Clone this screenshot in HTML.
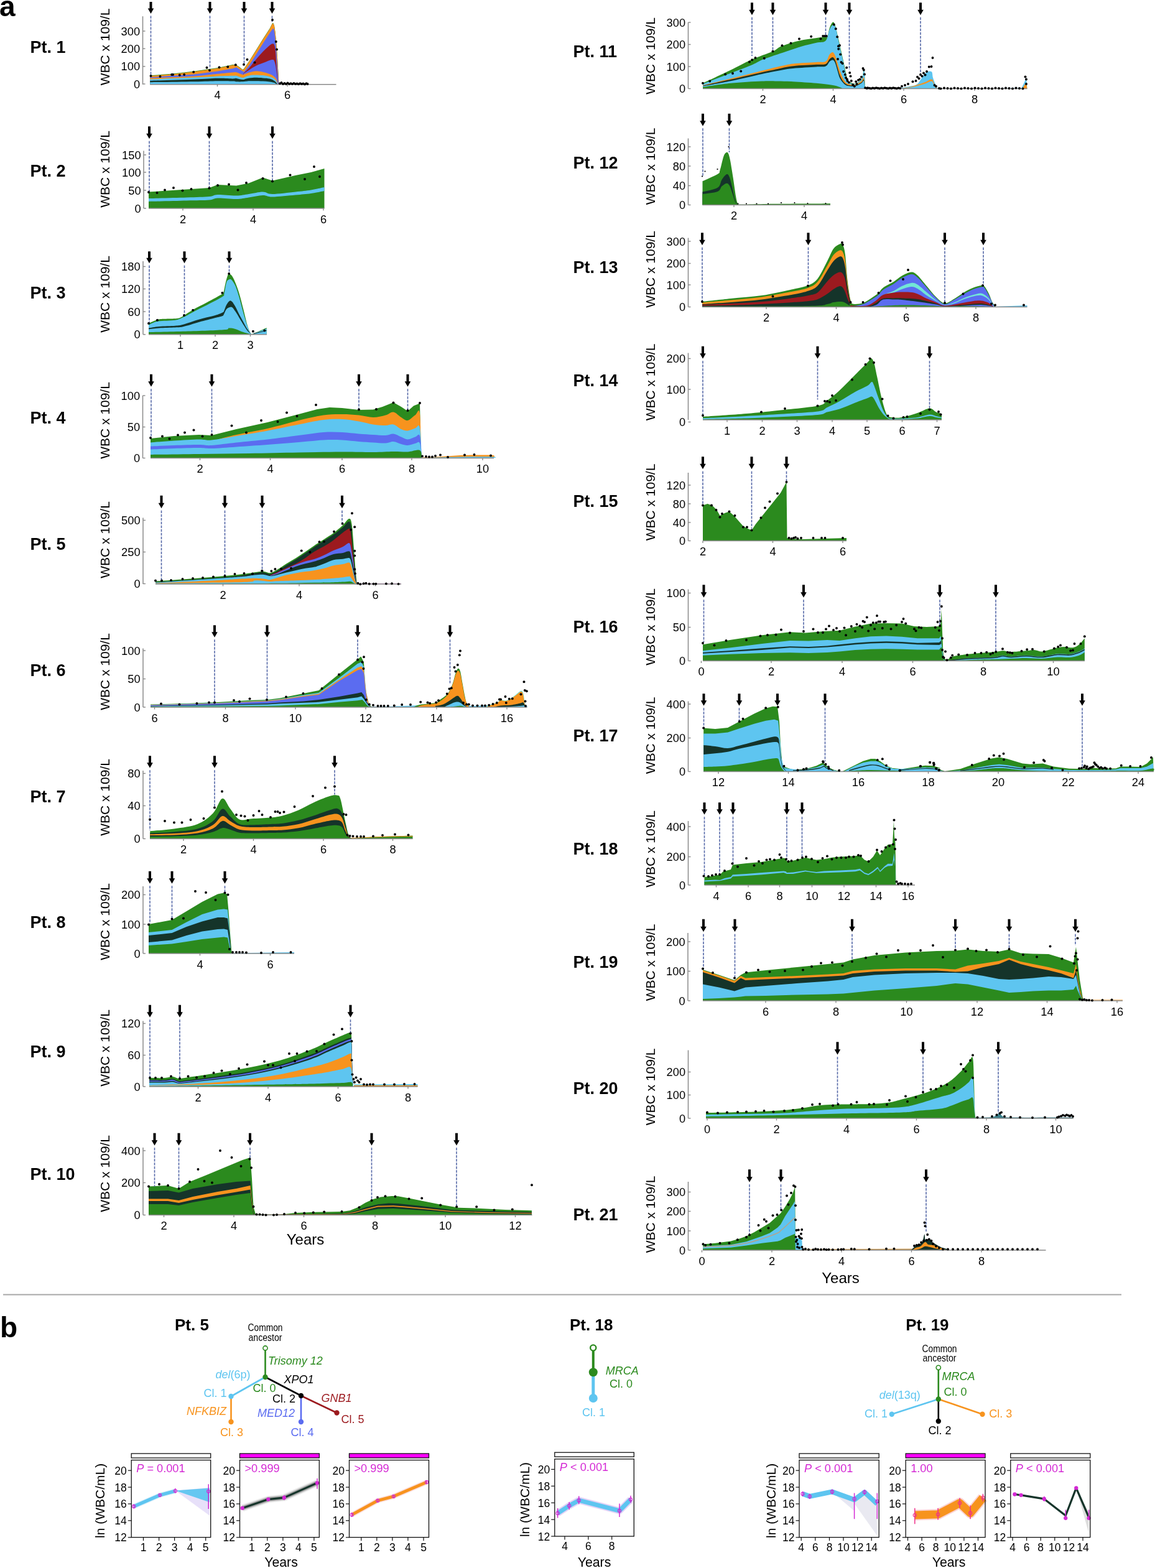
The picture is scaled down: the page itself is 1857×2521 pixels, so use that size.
<!DOCTYPE html>
<html><head><meta charset="utf-8"><title>Figure</title>
<style>html,body{margin:0;padding:0;background:#fff;}svg{display:block;}</style></head>
<body><svg width="1857" height="2521" viewBox="0 0 1857 2521" font-family="'Liberation Sans', Arial, sans-serif" fill="#000">
<rect width="1857" height="2521" fill="#fff"/>
<text x="-1" y="25.5" font-size="46" font-weight="bold">a</text>
<text x="48.5" y="85.3" font-size="27" font-weight="bold">Pt. 1</text>
<text transform="translate(176,75.5) rotate(-90)" text-anchor="middle" font-size="21">WBC x 109/L</text>
<path d="M241.2,121.2 L275,118.8 L312.5,114.5 L350,109 L375,103.8 L380,104.4 L385.4,108.1 L390.2,111.9 L392.3,110.3 L401.4,96.9 L412.1,79.8 L422.8,62.6 L433.5,46.1 L437.8,37.5 L439.4,37 L441,40.9 L442.6,51.8 L444.2,68.2 L445.8,89.6 L447.4,116.3 L448.6,136.6 L448.6,135.8 L241.2,135.8 Z" fill="#2b8a1e"/>
<path d="M241.2,122 L275,119.5 L312.5,115.2 L350,109.8 L375,104.5 L380,105.1 L385.4,108.8 L390.2,112.6 L392.3,111 L401.4,97.6 L412.1,80.5 L422.8,63.3 L433.5,46.8 L437.8,38.2 L439.4,37.7 L441,41.4 L442.6,52.1 L444.2,68.2 L445.8,89.6 L447.4,116.3 L448.5,136.6 L448.5,135.8 L241.2,135.8 Z" fill="#f7931e"/>
<path d="M241.2,124.2 L312.5,119.5 L350,114.5 L375,110 L380,108.3 L390.2,114.4 L392.3,115.8 L401.4,103.5 L412.1,86.9 L422.8,69.8 L433.5,53.2 L438.9,45.7 L440.5,46.8 L442.1,57.5 L444.2,78.9 L446.3,111 L448.1,136.6 L448.1,135.8 L241.2,135.8 Z" fill="#5b6cf0"/>
<path d="M391.5,117.9 C393.2,116.3 398,112.1 401.4,108.3 C404.8,104.4 408.5,99.1 412.1,94.9 C415.7,90.7 419.2,86.8 422.8,83.1 C426.4,79.5 430.8,75.1 433.5,73 C436.2,70.8 437.5,70.2 438.9,70.3 C440.2,70.4 440.8,71.2 441.5,73.5 C442.2,75.8 442.7,79.7 443.1,84.2 C443.6,88.7 443.8,94 444.2,100.3 C444.7,106.5 445.3,115.6 445.8,121.7 C446.4,127.7 447.2,134.1 447.5,136.6 L447.5,135.8 L391.5,135.8 Z" fill="#9c1a1f"/>
<path d="M391.9,118.2 C393.5,117.2 398,114.1 401.4,112 C404.8,109.9 408.5,107.4 412.1,105.6 C415.7,103.8 419.2,102.8 422.8,101.3 C426.4,99.9 431,97.9 433.5,97 C436,96.2 436.6,96 437.8,96 C438.9,96 439.6,95.4 440.5,97 C441.4,98.7 442.3,101.5 443.1,105.6 C443.9,109.7 444.5,116.5 445.3,121.7 C446,126.8 447.1,134.1 447.5,136.6 L447.5,135.8 L391.9,135.8 Z" fill="#5b6cf0"/>
<path d="M241.2,125.5 C253.1,125 294.4,123.6 312.5,122.5 C330.6,121.4 339.6,119.8 350,118.8 C360.4,117.7 370,116.7 375,116.2 C380,115.8 377.5,115.7 380,116.3 C382.5,116.9 388.1,119.5 390.2,120.1 C392.2,120.6 390.4,120.1 392.3,119.5 C394.2,118.9 398.1,117.2 401.4,116.3 C404.7,115.4 408.5,114.3 412.1,114.2 C415.7,114.1 419.2,115 422.8,115.8 C426.4,116.6 430.8,118 433.5,119 C436.2,120 437.1,120.3 438.9,121.7 C440.6,123 442.9,124.8 444.2,127 C445.5,129.2 446.3,133.4 446.9,135 C447.5,136.6 447.5,136.4 447.7,136.6 L447.7,135.8 L241.2,135.8 Z" fill="#f7931e"/>
<path d="M241.2,127.5 C253.1,127 294.4,125.3 312.5,124.5 C330.6,123.7 339.6,123 350,122.5 C360.4,122 370,121.9 375,121.8 C380,121.6 377.5,121.1 380,121.7 C382.5,122.2 387.5,124.7 390.2,124.9 C392.8,125 393.3,123.4 396.1,122.7 C398.8,122 402.3,120.9 406.8,120.6 C411.2,120.3 418.3,120.7 422.8,121.1 C427.3,121.6 430.4,122.3 433.5,123.3 C436.6,124.2 439.3,125 441.5,127 C443.8,129 445.9,133.4 446.9,135 C447.9,136.6 447.4,136.4 447.5,136.6 L447.5,135.8 L241.2,135.8 Z" fill="#5ec5f0"/>
<path d="M241.2,129.8 C253.1,129.4 294.4,128.2 312.5,127.5 C330.6,126.8 339.6,125.9 350,125.8 C360.4,125.6 370,126.5 375,126.5 C380,126.5 377.5,125.7 380,125.9 C382.5,126.2 387.5,128 390.2,128.1 C392.8,128.2 393.3,127 396.1,126.5 C398.8,125.9 402.3,125 406.8,124.9 C411.2,124.7 418.3,125.1 422.8,125.4 C427.3,125.7 430.4,125.7 433.5,126.5 C436.6,127.3 439.5,128.8 441.5,130.2 C443.6,131.6 444.9,134 445.8,135 C446.7,136.1 446.7,136.4 446.9,136.6 L446.9,135.8 L241.2,135.8 Z" fill="#15342a"/>
<path d="M241.2,132.2 C253.1,132.1 294.4,131.6 312.5,131.2 C330.6,130.9 339.6,130.4 350,130.2 C360.4,130.1 370,130.3 375,130.5 C380,130.7 377.5,131.2 380,131.3 C382.5,131.4 386.6,131.5 390.2,131.3 C393.7,131.1 396,130.4 401.4,130.2 C406.8,130.1 416.6,130.1 422.8,130.5 C429,130.8 435.3,131.6 438.9,132.4 C442.4,133.1 443,134.3 444.2,135 C445.4,135.7 445.5,136.4 445.8,136.6 L445.8,135.8 L241.2,135.8 Z" fill="#5ec5f0"/>
<path d="M229.5,26.2 V135.8" fill="none" stroke="#8a8a8a" stroke-width="1.5"/>
<path d="M241.2,135.8 H540.5" fill="none" stroke="#8a8a8a" stroke-width="1.5"/>
<path d="M229.5,50 H233.5" stroke="#8a8a8a" stroke-width="1.4"/>
<text x="225.1" y="56.5" text-anchor="end" font-size="18.3">300</text>
<path d="M229.5,78.2 H233.5" stroke="#8a8a8a" stroke-width="1.4"/>
<text x="225.1" y="84.8" text-anchor="end" font-size="18.3">200</text>
<path d="M229.5,106.8 H233.5" stroke="#8a8a8a" stroke-width="1.4"/>
<text x="225.1" y="113.2" text-anchor="end" font-size="18.3">100</text>
<path d="M229.5,135 H233.5" stroke="#8a8a8a" stroke-width="1.4"/>
<text x="225.1" y="141.5" text-anchor="end" font-size="18.3">0</text>
<path d="M349.5,135.8 V139.2" stroke="#8a8a8a" stroke-width="1.4"/>
<text x="349.5" y="159.3" text-anchor="middle" font-size="18.3">4</text>
<path d="M462,135.8 V139.2" stroke="#8a8a8a" stroke-width="1.4"/>
<text x="462" y="159.3" text-anchor="middle" font-size="18.3">6</text>
<path d="M242.5,25.6 V121.2" stroke="#5669a8" stroke-width="1.6" stroke-dasharray="4.1,1.9"/>
<path d="M337.5,25.6 V110" stroke="#5669a8" stroke-width="1.6" stroke-dasharray="4.1,1.9"/>
<path d="M392.5,25.6 V105" stroke="#5669a8" stroke-width="1.6" stroke-dasharray="4.1,1.9"/>
<path d="M437.5,25.6 V35" stroke="#5669a8" stroke-width="1.6" stroke-dasharray="4.1,1.9"/>
<path d="M240.5,3 L244.5,3 L244.5,13.5 L247.3,13.5 L242.5,21.9 L237.7,13.5 L240.5,13.5 Z" fill="#000"/>
<path d="M335.5,3 L339.5,3 L339.5,13.5 L342.3,13.5 L337.5,21.9 L332.7,13.5 L335.5,13.5 Z" fill="#000"/>
<path d="M390.5,3 L394.5,3 L394.5,13.5 L397.3,13.5 L392.5,21.9 L387.7,13.5 L390.5,13.5 Z" fill="#000"/>
<path d="M435.5,3 L439.5,3 L439.5,13.5 L442.3,13.5 L437.5,21.9 L432.7,13.5 L435.5,13.5 Z" fill="#000"/>
<circle cx="242.5" cy="122" r="1.95"/>
<circle cx="257.5" cy="123" r="1.95"/>
<circle cx="276.2" cy="120" r="1.95"/>
<circle cx="278" cy="120" r="1.95"/>
<circle cx="288.8" cy="120.8" r="1.95"/>
<circle cx="296.2" cy="120" r="1.95"/>
<circle cx="311.2" cy="115.8" r="1.95"/>
<circle cx="332.5" cy="108.8" r="1.95"/>
<circle cx="337" cy="113" r="1.95"/>
<circle cx="352.5" cy="108.2" r="1.95"/>
<circle cx="366.2" cy="107.5" r="1.95"/>
<circle cx="378.8" cy="104.2" r="1.95"/>
<circle cx="392" cy="103.8" r="1.95"/>
<circle cx="397.5" cy="95.8" r="1.95"/>
<circle cx="409.5" cy="100.5" r="1.95"/>
<circle cx="438" cy="32" r="1.95"/>
<circle cx="443.8" cy="67" r="1.95"/>
<circle cx="445" cy="79.5" r="1.95"/>
<circle cx="450" cy="134.2" r="1.95"/>
<circle cx="452.5" cy="133" r="1.95"/>
<circle cx="455" cy="135" r="1.95"/>
<circle cx="457.5" cy="134" r="1.95"/>
<circle cx="460" cy="135" r="1.95"/>
<circle cx="462.5" cy="133.5" r="1.95"/>
<circle cx="465" cy="135" r="1.95"/>
<circle cx="467.5" cy="134.2" r="1.95"/>
<circle cx="470" cy="135" r="1.95"/>
<circle cx="472.5" cy="134" r="1.95"/>
<circle cx="475" cy="135" r="1.95"/>
<circle cx="477.5" cy="134.5" r="1.95"/>
<circle cx="480" cy="135.2" r="1.95"/>
<circle cx="482.5" cy="134.2" r="1.95"/>
<circle cx="485" cy="135" r="1.95"/>
<circle cx="487.5" cy="134.5" r="1.95"/>
<circle cx="490" cy="135.5" r="1.95"/>
<circle cx="492.5" cy="134.2" r="1.95"/>
<circle cx="494.5" cy="135" r="1.95"/>
<text x="48.5" y="283.8" font-size="27" font-weight="bold">Pt. 2</text>
<text transform="translate(176,272) rotate(-90)" text-anchor="middle" font-size="21">WBC x 109/L</text>
<path d="M239,308.5 L300,304.5 L336.5,302 L350,297 L380,298.5 L400,294.5 L422.5,285.5 L438,290.5 L475,282 L500,277 L521.5,271 L521.5,335 L239,335 Z" fill="#2b8a1e"/>
<path d="M239,319 C249.2,318.8 283.8,318 300,317.5 C316.2,317 328.2,316.8 336.5,316 C344.8,315.2 342.8,313.2 350,313 C357.2,312.8 371.7,314.7 380,314.5 C388.3,314.3 392.9,313 400,312 C407.1,311 416.2,308.5 422.5,308.5 C428.8,308.5 429.2,312 438,312 C446.8,312 464.7,309.6 475,308.5 C485.3,307.4 492.2,306.8 500,305.5 C507.8,304.2 517.9,301.8 521.5,301 L521.5,307 C517.9,307.7 507.8,309.9 500,311 C492.2,312.1 485.3,312.6 475,313.5 C464.7,314.4 446.8,316.4 438,316.5 C429.2,316.6 428.8,313.8 422.5,314 C416.2,314.2 407.1,316.5 400,317.5 C392.9,318.5 388.3,319.8 380,320 C371.7,320.2 357.2,318.2 350,318.5 C342.8,318.8 344.8,320.8 336.5,321.5 C328.2,322.2 316.2,322.1 300,322.5 C283.8,322.9 249.2,323.8 239,324 Z" fill="#5ec5f0"/>
<path d="M231,242.5 V335" fill="none" stroke="#8a8a8a" stroke-width="1.5"/>
<path d="M239,335 H521.5" fill="none" stroke="#8a8a8a" stroke-width="1.5"/>
<path d="M231,249 H235" stroke="#8a8a8a" stroke-width="1.4"/>
<text x="226.6" y="255.5" text-anchor="end" font-size="18.3">150</text>
<path d="M231,277 H235" stroke="#8a8a8a" stroke-width="1.4"/>
<text x="226.6" y="283.5" text-anchor="end" font-size="18.3">100</text>
<path d="M231,306 H235" stroke="#8a8a8a" stroke-width="1.4"/>
<text x="226.6" y="312.5" text-anchor="end" font-size="18.3">50</text>
<path d="M231,335 H235" stroke="#8a8a8a" stroke-width="1.4"/>
<text x="226.6" y="341.5" text-anchor="end" font-size="18.3">0</text>
<path d="M294,335 V338.5" stroke="#8a8a8a" stroke-width="1.4"/>
<text x="294" y="358.6" text-anchor="middle" font-size="18.3">2</text>
<path d="M407,335 V338.5" stroke="#8a8a8a" stroke-width="1.4"/>
<text x="407" y="358.6" text-anchor="middle" font-size="18.3">4</text>
<path d="M520,335 V338.5" stroke="#8a8a8a" stroke-width="1.4"/>
<text x="520" y="358.6" text-anchor="middle" font-size="18.3">6</text>
<path d="M240,226.8 V309" stroke="#5669a8" stroke-width="1.6" stroke-dasharray="4.1,1.9"/>
<path d="M336.5,226.8 V302.5" stroke="#5669a8" stroke-width="1.6" stroke-dasharray="4.1,1.9"/>
<path d="M438,226.8 V291" stroke="#5669a8" stroke-width="1.6" stroke-dasharray="4.1,1.9"/>
<path d="M238,203.2 L242,203.2 L242,214.8 L244.8,214.8 L240,223.2 L235.2,214.8 L238,214.8 Z" fill="#000"/>
<path d="M334.5,203.2 L338.5,203.2 L338.5,214.8 L341.3,214.8 L336.5,223.2 L331.7,214.8 L334.5,214.8 Z" fill="#000"/>
<path d="M436,203.2 L440,203.2 L440,214.8 L442.8,214.8 L438,223.2 L433.2,214.8 L436,214.8 Z" fill="#000"/>
<circle cx="239" cy="309" r="1.95"/>
<circle cx="252.5" cy="310" r="1.95"/>
<circle cx="265" cy="305.5" r="1.95"/>
<circle cx="279" cy="302" r="1.95"/>
<circle cx="293.5" cy="306.5" r="1.95"/>
<circle cx="307.5" cy="304" r="1.95"/>
<circle cx="336.5" cy="302.5" r="1.95"/>
<circle cx="350" cy="298" r="1.95"/>
<circle cx="368" cy="296.5" r="1.95"/>
<circle cx="382.5" cy="305.5" r="1.95"/>
<circle cx="396" cy="294" r="1.95"/>
<circle cx="422.5" cy="287" r="1.95"/>
<circle cx="438" cy="291.5" r="1.95"/>
<circle cx="466.5" cy="281.5" r="1.95"/>
<circle cx="490" cy="288" r="1.95"/>
<circle cx="505" cy="268" r="1.95"/>
<circle cx="514" cy="284" r="1.95"/>
<text x="48.5" y="479.8" font-size="27" font-weight="bold">Pt. 3</text>
<text transform="translate(176,473) rotate(-90)" text-anchor="middle" font-size="21">WBC x 109/L</text>
<path d="M239,519.9 C241.4,518.9 249.3,515.3 253.2,514.1 C257.1,512.9 257.5,513.1 262.2,512.8 C267,512.5 277.1,512.5 281.6,512.2 C286.1,511.8 286.9,511.7 289.3,510.9 C291.7,510.1 292.3,509.4 295.8,507.3 C299.2,505.2 303.7,501.8 309.9,498.2 C316.2,494.7 325.2,490.4 333.1,486.1 C341.1,481.9 353.3,475.2 357.6,472.6 C362,470 358.5,473.7 359.3,470.7 C360.2,467.6 361.6,459.1 362.8,454.2 C364,449.3 365.7,443.6 366.7,441.3 C367.6,438.9 367.5,439.5 368.6,440 C369.7,440.4 371.5,441.5 373.1,443.8 C374.7,446.2 376.3,449.4 378.3,454.2 C380.2,458.9 382.6,465.1 384.7,472.2 C386.9,479.3 389,488.3 391.2,496.7 C393.3,505.1 395.7,516 397.6,522.5 C399.5,528.9 401.1,533.1 402.8,535.4 C404.5,537.6 403.6,537.4 407.9,536 C412.2,534.6 425.1,528.5 428.6,527 L428.6,537.8 L239,537.8 Z" fill="#2b8a1e"/>
<path d="M239,522.5 C241.4,521.5 246.1,518 253.2,516.7 C260.3,515.4 274.5,515.9 281.6,514.7 C288.7,513.6 291,511.7 295.8,509.6 C300.5,507.4 303.7,505.1 309.9,501.9 C316.2,498.6 325.2,494.4 333.1,490.3 C341.1,486.1 353.1,480.2 357.6,477.1 C362.2,474.1 359.4,475.8 360.5,471.9 C361.6,468.1 362.8,457.9 364.1,454.2 C365.3,450.4 366.7,450.4 368,449.6 C369.2,448.9 370.1,448 371.8,449.6 C373.5,451.3 376.1,454.5 378.3,459.3 C380.4,464.1 382.6,471.3 384.7,478.6 C386.9,486 389,495.6 391.2,503.1 C393.3,510.7 395.7,518.4 397.6,523.8 C399.5,529.2 401.1,533.6 402.8,535.6 C404.5,537.7 403.6,537.4 407.9,536.2 C412.2,534.9 425.1,529.6 428.6,528.3 L428.6,537.8 L239,537.8 Z" fill="#5ec5f0"/>
<path d="M239,527.6 C241.8,527.2 248.7,525.7 255.8,525.1 C262.9,524.4 275.1,524.3 281.6,523.8 C288,523.2 288,523.6 294.5,521.8 C300.9,520.1 311.7,515.9 320.3,513.5 C328.8,511 339.8,508.8 346,507 C352.3,505.2 355.3,503.7 357.6,502.5 C360,501.3 359.1,502 360.2,499.9 C361.3,497.9 362.6,492.9 364.1,490.3 C365.6,487.6 367.7,484.7 369.2,483.8 C370.8,482.9 371.6,483.6 373.1,485.1 C374.6,486.6 376.3,489.4 378.3,492.8 C380.2,496.3 382.4,501.2 384.7,505.7 C387.1,510.2 390.3,516 392.5,519.9 C394.6,523.8 395.8,526.1 397.6,528.9 C399.4,531.8 402.4,535.6 403.4,536.9 L403.4,537.8 L239,537.8 Z" fill="#15342a"/>
<path d="M239,529.2 C241.8,528.9 248.7,527.9 255.8,527.4 C262.9,526.9 275.1,526.7 281.6,526.4 C288,526 288,526.7 294.5,525.3 C300.9,523.9 311.7,520.2 320.3,517.8 C328.8,515.5 339.8,512.8 346,511.1 C352.3,509.5 355.3,509.1 357.6,508 C360,507 359.1,506.5 360.2,504.7 C361.3,502.8 362.6,498.8 364.1,497 C365.6,495.2 367.7,494.3 369.2,493.9 C370.8,493.4 371.6,493 373.1,494.1 C374.6,495.2 376.3,497.8 378.3,500.6 C380.2,503.4 382.4,507 384.7,510.9 C387.1,514.7 390.3,520.3 392.5,523.8 C394.6,527.2 395.8,529.3 397.6,531.5 C399.4,533.7 402.4,536 403.4,536.9 L403.4,537.8 L239,537.8 Z" fill="#5ec5f0"/>
<path d="M239,534.1 C248.3,533.9 274.5,533.4 294.5,532.8 C314.5,532.2 346.7,531.1 358.9,530.2 C371.2,529.4 364.7,527.9 368,527.6 C371.2,527.4 374.4,527.9 378.3,528.9 C382.1,530 387.3,532.8 391.2,534.1 C395,535.4 399.8,536.5 401.5,536.9 L401.5,537.8 L239,537.8 Z" fill="#2b8a1e"/>
<path d="M407.9,536.4 L428.6,531.5" fill="none" stroke="#15342a" stroke-width="1.0" stroke-linejoin="round"/>
<path d="M230,420 V537.8" fill="none" stroke="#8a8a8a" stroke-width="1.5"/>
<path d="M239,537.8 H429" fill="none" stroke="#8a8a8a" stroke-width="1.5"/>
<path d="M230,428.5 H234" stroke="#8a8a8a" stroke-width="1.4"/>
<text x="225.6" y="435" text-anchor="end" font-size="18.3">180</text>
<path d="M230,464.5 H234" stroke="#8a8a8a" stroke-width="1.4"/>
<text x="225.6" y="471" text-anchor="end" font-size="18.3">120</text>
<path d="M230,501 H234" stroke="#8a8a8a" stroke-width="1.4"/>
<text x="225.6" y="507.5" text-anchor="end" font-size="18.3">60</text>
<path d="M230,537.8 H234" stroke="#8a8a8a" stroke-width="1.4"/>
<text x="225.6" y="544.2" text-anchor="end" font-size="18.3">0</text>
<path d="M290,537.8 V541.2" stroke="#8a8a8a" stroke-width="1.4"/>
<text x="290" y="561.4" text-anchor="middle" font-size="18.3">1</text>
<path d="M346,537.8 V541.2" stroke="#8a8a8a" stroke-width="1.4"/>
<text x="346" y="561.4" text-anchor="middle" font-size="18.3">2</text>
<path d="M402.5,537.8 V541.2" stroke="#8a8a8a" stroke-width="1.4"/>
<text x="402.5" y="561.4" text-anchor="middle" font-size="18.3">3</text>
<path d="M240,426.8 V519" stroke="#5669a8" stroke-width="1.6" stroke-dasharray="4.1,1.9"/>
<path d="M296.5,426.8 V506" stroke="#5669a8" stroke-width="1.6" stroke-dasharray="4.1,1.9"/>
<path d="M368.5,426.8 V440" stroke="#5669a8" stroke-width="1.6" stroke-dasharray="4.1,1.9"/>
<path d="M238,404.2 L242,404.2 L242,414.8 L244.8,414.8 L240,423.2 L235.2,414.8 L238,414.8 Z" fill="#000"/>
<path d="M294.5,404.2 L298.5,404.2 L298.5,414.8 L301.3,414.8 L296.5,423.2 L291.7,414.8 L294.5,414.8 Z" fill="#000"/>
<path d="M366.5,404.2 L370.5,404.2 L370.5,414.8 L373.3,414.8 L368.5,423.2 L363.7,414.8 L366.5,414.8 Z" fill="#000"/>
<circle cx="239" cy="519.9" r="1.95"/>
<circle cx="252.9" cy="514.7" r="1.95"/>
<circle cx="296" cy="507" r="1.95"/>
<circle cx="310.2" cy="498.6" r="1.95"/>
<circle cx="357.4" cy="470.9" r="1.95"/>
<circle cx="368.2" cy="440" r="1.95"/>
<circle cx="406.9" cy="532.8" r="1.95"/>
<circle cx="425.3" cy="531.5" r="1.95"/>
<text x="48.5" y="681.3" font-size="27" font-weight="bold">Pt. 4</text>
<text transform="translate(176,676) rotate(-90)" text-anchor="middle" font-size="21">WBC x 109/L</text>
<path d="M242,705 L280,701 L320,699 L340,700 L380,690 L430,679 L480,666 L510,658 L530,655 L550,656 L577,659 L600,658.5 L615,654 L632.5,647 L645,654 L655.5,661 L665,652.5 L675,648.5 L677,736.5 L677,736.5 L242,736.5 Z" fill="#2b8a1e"/>
<path d="M350,706.5 C355,705.2 366.7,701.9 380,699 C393.3,696.1 413.3,692.8 430,689 C446.7,685.2 465,679.6 480,676 C495,672.4 508.3,669.2 520,667.5 C531.7,665.8 540.5,666 550,666 C559.5,666 568.7,666.7 577,667.5 C585.3,668.3 592.8,671 600,671 C607.2,671 614.6,668.9 620,667.5 C625.4,666.1 628.3,661.9 632.5,662.5 C636.7,663.1 641.2,668.8 645,671 C648.8,673.2 651.8,676.6 655.5,676 C659.2,675.4 664.2,669.3 667.5,667.5 C670.8,665.7 673.4,653.5 675,665 C676.6,676.5 676.7,724.6 677,736.5 L677,736.5 L350,736.5 Z" fill="#f7931e"/>
<path d="M242,711.5 C248.3,711 267,709.3 280,708.5 C293,707.7 310,706.7 320,706.5 C330,706.3 330,708.4 340,707.5 C350,706.6 365,703.5 380,701 C395,698.5 413.3,695.6 430,692.5 C446.7,689.4 465,685.4 480,682.5 C495,679.6 508.3,676.4 520,675 C531.7,673.6 540.5,673.6 550,674 C559.5,674.4 568.7,676.1 577,677.5 C585.3,678.9 592.8,681.4 600,682.5 C607.2,683.6 614.6,684 620,684 C625.4,684 628.3,681.5 632.5,682.5 C636.7,683.5 641.2,688.3 645,690 C648.8,691.7 651.8,692.8 655.5,692.5 C659.2,692.2 664.2,689.3 667.5,688.5 C670.8,687.7 673.2,679.5 675,687.5 C676.8,695.5 677.5,728.3 678,736.5 L678,736.5 L242,736.5 Z" fill="#5ec5f0"/>
<path d="M242,717.5 C248.3,717.2 267,716.4 280,716 C293,715.6 310,715 320,715 C330,715 330,716.6 340,716 C350,715.4 365,713.1 380,711.5 C395,709.9 413.3,708.4 430,706.5 C446.7,704.6 465,701.9 480,700 C495,698.1 508.3,695.8 520,695 C531.7,694.2 540.5,694.6 550,695 C559.5,695.4 568.7,696.8 577,697.5 C585.3,698.2 592.8,698.6 600,699 C607.2,699.4 614.6,700.2 620,700 C625.4,699.8 628.3,697.1 632.5,697.5 C636.7,697.9 641.2,701 645,702.5 C648.8,704 651.8,706.5 655.5,706.5 C659.2,706.5 664.2,703.4 667.5,702.5 C670.8,701.6 673.2,695.3 675,701 C676.8,706.7 677.5,730.6 678,736.5 L678,736.5 L242,736.5 Z" fill="#5b6cf0"/>
<path d="M242,722.5 C248.3,722.2 267,721.4 280,721 C293,720.6 310,720 320,720 C330,720 330,721.2 340,721 C350,720.8 365,719.5 380,718.5 C395,717.5 413.3,716.2 430,715 C446.7,713.8 465,712.2 480,711 C495,709.8 508.3,708.1 520,707.5 C531.7,706.9 540.5,707.1 550,707.5 C559.5,707.9 568.7,709.3 577,710 C585.3,710.7 592.8,711.1 600,711.5 C607.2,711.9 614.6,712.8 620,712.5 C625.4,712.2 628.3,709.8 632.5,710 C636.7,710.2 641.2,713 645,714 C648.8,715 651.8,716.2 655.5,716 C659.2,715.8 664.2,713.6 667.5,713 C670.8,712.4 673.2,708.6 675,712.5 C676.8,716.4 677.5,732.5 678,736.5 L678,736.5 L242,736.5 Z" fill="#5ec5f0"/>
<path d="M242,731 C255,730.8 293.7,730.3 320,730 C346.3,729.7 373.3,729.4 400,729 C426.7,728.6 455,727.9 480,727.5 C505,727.1 530,726.6 550,726.5 C570,726.4 586.2,727.1 600,727 C613.8,726.9 623.2,726.1 632.5,726 C641.8,725.9 648.4,726.8 655.5,726.5 C662.6,726.2 671.2,722.3 675,724 C678.8,725.7 677.5,734.4 678,736.5 L678,736.5 L242,736.5 Z" fill="#2b8a1e"/>
<path d="M680,735.5 C685,735.2 700,734.6 710,734 C720,733.4 730,732.4 740,732 C750,731.6 761.2,731.5 770,731.5 C778.8,731.5 789,731.2 793,732 C797,732.8 793.8,735.8 794,736.5 L794,736.5 L680,736.5 Z" fill="#f7931e"/>
<path d="M680,736 C690,735.8 721.2,734.8 740,734.5 C758.8,734.2 784,734.2 793,734.5 C802,734.8 793.8,736.2 794,736.5 L794,736.5 L680,736.5 Z" fill="#5ec5f0"/>
<path d="M229.5,636 V736.5" fill="none" stroke="#8a8a8a" stroke-width="1.5"/>
<path d="M242,736.5 H794" fill="none" stroke="#8a8a8a" stroke-width="1.5"/>
<path d="M229.5,636 H233.5" stroke="#8a8a8a" stroke-width="1.4"/>
<text x="225.1" y="642.5" text-anchor="end" font-size="18.3">100</text>
<path d="M229.5,686.5 H233.5" stroke="#8a8a8a" stroke-width="1.4"/>
<text x="225.1" y="693" text-anchor="end" font-size="18.3">50</text>
<path d="M229.5,736.5 H233.5" stroke="#8a8a8a" stroke-width="1.4"/>
<text x="225.1" y="743" text-anchor="end" font-size="18.3">0</text>
<path d="M321.5,736.5 V740" stroke="#8a8a8a" stroke-width="1.4"/>
<text x="321.5" y="760.1" text-anchor="middle" font-size="18.3">2</text>
<path d="M434.5,736.5 V740" stroke="#8a8a8a" stroke-width="1.4"/>
<text x="434.5" y="760.1" text-anchor="middle" font-size="18.3">4</text>
<path d="M550,736.5 V740" stroke="#8a8a8a" stroke-width="1.4"/>
<text x="550" y="760.1" text-anchor="middle" font-size="18.3">6</text>
<path d="M662,736.5 V740" stroke="#8a8a8a" stroke-width="1.4"/>
<text x="662" y="760.1" text-anchor="middle" font-size="18.3">8</text>
<path d="M776,736.5 V740" stroke="#8a8a8a" stroke-width="1.4"/>
<text x="776" y="760.1" text-anchor="middle" font-size="18.3">10</text>
<path d="M243,625.3 V705" stroke="#5669a8" stroke-width="1.6" stroke-dasharray="4.1,1.9"/>
<path d="M340.5,625.3 V699" stroke="#5669a8" stroke-width="1.6" stroke-dasharray="4.1,1.9"/>
<path d="M577,625.3 V658.5" stroke="#5669a8" stroke-width="1.6" stroke-dasharray="4.1,1.9"/>
<path d="M655.5,625.3 V660" stroke="#5669a8" stroke-width="1.6" stroke-dasharray="4.1,1.9"/>
<path d="M241,601.7 L245,601.7 L245,613.3 L247.8,613.3 L243,621.7 L238.2,613.3 L241,613.3 Z" fill="#000"/>
<path d="M338.5,601.7 L342.5,601.7 L342.5,613.3 L345.3,613.3 L340.5,621.7 L335.7,613.3 L338.5,613.3 Z" fill="#000"/>
<path d="M575,601.7 L579,601.7 L579,613.3 L581.8,613.3 L577,621.7 L572.2,613.3 L575,613.3 Z" fill="#000"/>
<path d="M653.5,601.7 L657.5,601.7 L657.5,613.3 L660.3,613.3 L655.5,621.7 L650.7,613.3 L653.5,613.3 Z" fill="#000"/>
<circle cx="242" cy="704" r="1.95"/>
<circle cx="261" cy="701.5" r="1.95"/>
<circle cx="272.5" cy="705.5" r="1.95"/>
<circle cx="286" cy="699.5" r="1.95"/>
<circle cx="297" cy="695.5" r="1.95"/>
<circle cx="311.5" cy="691.5" r="1.95"/>
<circle cx="325.5" cy="701.5" r="1.95"/>
<circle cx="340.5" cy="699" r="1.95"/>
<circle cx="372.5" cy="684.5" r="1.95"/>
<circle cx="396" cy="695.5" r="1.95"/>
<circle cx="420" cy="676" r="1.95"/>
<circle cx="446.5" cy="678" r="1.95"/>
<circle cx="461" cy="663.5" r="1.95"/>
<circle cx="477.5" cy="669" r="1.95"/>
<circle cx="508" cy="651" r="1.95"/>
<circle cx="577" cy="658.5" r="1.95"/>
<circle cx="605" cy="658" r="1.95"/>
<circle cx="632.5" cy="647.5" r="1.95"/>
<circle cx="655.5" cy="660" r="1.95"/>
<circle cx="675" cy="648" r="1.95"/>
<circle cx="679" cy="733.5" r="1.95"/>
<circle cx="685" cy="734" r="1.95"/>
<circle cx="690" cy="734.5" r="1.95"/>
<circle cx="695" cy="734.5" r="1.95"/>
<circle cx="700" cy="733" r="1.95"/>
<circle cx="708" cy="731.5" r="1.95"/>
<circle cx="720" cy="735" r="1.95"/>
<circle cx="747" cy="731.5" r="1.95"/>
<circle cx="762.5" cy="731" r="1.95"/>
<circle cx="789" cy="732.5" r="1.95"/>
<text x="48.5" y="883.8" font-size="27" font-weight="bold">Pt. 5</text>
<text transform="translate(176,868) rotate(-90)" text-anchor="middle" font-size="21">WBC x 109/L</text>
<path d="M250,934.5 C258.3,933.9 283.3,932.2 300,931 C316.7,929.8 335,928.3 350,927 C365,925.7 380.2,924.1 390,923 C399.8,921.9 403.9,920.9 409.1,920.2 C414.3,919.5 418.2,918.8 421.2,918.7 C424.2,918.6 425,919.2 427.2,919.6 C429.5,920 431.8,921.7 434.8,921.1 C437.8,920.5 441.1,918.6 445.4,916.1 C449.7,913.6 455.5,909.4 460.5,906.3 C465.6,903.1 470.6,900.3 475.7,897.2 C480.7,894 485.8,890.7 490.8,887.3 C495.8,883.9 500.9,880.2 505.9,876.7 C511,873.3 516,870.2 521.1,866.9 C526.1,863.6 531.2,860.9 536.2,857.1 C541.2,853.3 547.5,847.8 551.3,844.2 C555.1,840.6 557.1,837.3 558.9,835.6 C560.7,833.9 561,833.9 561.9,834.1 C562.8,834.3 563.4,833.9 564.2,836.6 C565,839.3 565.6,841.7 566.5,850.3 C567.3,858.8 568.6,876.7 569.5,888.1 C570.4,899.4 571,909.7 571.8,918.4 C572.5,927 573.7,936.3 574,939.9 L574,939 L250,939 Z" fill="#2b8a1e"/>
<path d="M250,936 C266.7,934.8 326.7,930.8 350,929 C373.3,927.2 380.2,926.3 390,925 C399.8,923.7 403.9,922.2 409.1,921.4 C414.3,920.6 418.2,920.2 421.2,920.2 C424.2,920.1 425,920.6 427.2,921.1 C429.5,921.5 431.8,923.4 434.8,922.9 C437.8,922.4 441.1,920.5 445.4,918.1 C449.7,915.7 455.5,911.6 460.5,908.5 C465.6,905.4 470.6,902.6 475.7,899.4 C480.7,896.3 485.8,893 490.8,889.6 C495.8,886.2 500.9,882.4 505.9,879 C511,875.6 516,872.4 521.1,869.2 C526.1,866 531.2,863.3 536.2,859.6 C541.2,856 547.5,850.9 551.3,847.5 C555.1,844.2 557,840.7 558.9,839.4 C560.8,838.1 561.7,837.9 562.7,839.7 C563.7,841.5 564.1,842.2 565,850.3 C565.8,858.3 567,876.7 568,888.1 C569,899.4 570.1,909.7 571,918.4 C571.9,927 573.1,936.3 573.6,939.9 L573.6,939 L250,939 Z" fill="#15342a"/>
<path d="M434.8,924.4 C436.6,923.7 441.1,922.1 445.4,920.2 C449.7,918.3 455.5,915.4 460.5,913.1 C465.6,910.7 470.6,908.9 475.7,906.3 C480.7,903.6 485.8,900.5 490.8,897.2 C495.8,893.9 500.9,889.7 505.9,886.6 C511,883.4 516,881.3 521.1,878.3 C526.1,875.2 531.2,872.1 536.2,868.4 C541.2,864.8 547.5,859.2 551.3,856.3 C555.1,853.4 557,851.9 558.9,851 C560.8,850.1 561.7,848.6 562.7,851 C563.7,853.4 564.1,858 565,865.4 C565.8,872.8 567,885.6 568,895.7 C569,905.8 570.1,918.6 571,925.9 C571.9,933.3 573,937.5 573.4,939.9 L573.4,939 L434.8,939 Z" fill="#9c1a1f"/>
<path d="M434.8,925.2 C436.6,924.5 441.1,923.2 445.4,921.4 C449.7,919.6 455.5,916.9 460.5,914.6 C465.6,912.3 470.6,909.8 475.7,907.8 C480.7,905.8 485.8,904 490.8,902.5 C495.8,901 500.9,900.3 505.9,898.7 C511,897.1 516,894.9 521.1,892.6 C526.1,890.4 531.2,887.3 536.2,885.1 C541.2,882.8 547.5,880.9 551.3,879 C555.1,877.1 557,874.5 558.9,873.7 C560.8,873 561.7,872.6 562.7,874.5 C563.7,876.4 564.1,880.3 565,885.1 C565.8,889.9 567,896.4 568,903.2 C569,910 570.1,919.8 571,925.9 C571.9,932 573,937.5 573.4,939.9 L573.4,939 L434.8,939 Z" fill="#5b6cf0"/>
<path d="M434.8,925.9 C436.6,925.4 441.1,924.4 445.4,922.9 C449.7,921.4 455.5,918.9 460.5,916.9 C465.6,914.8 470.6,912.6 475.7,910.8 C480.7,909 485.8,907.6 490.8,906.3 C495.8,904.9 500.9,904 505.9,902.5 C511,901 516,899.1 521.1,897.2 C526.1,895.3 531.2,892.5 536.2,891.1 C541.2,889.7 547.5,889.6 551.3,888.9 C555.1,888.1 557,886.8 558.9,886.6 C560.8,886.3 561.7,885.8 562.7,887.3 C563.7,888.9 564.1,891.8 565,895.7 C565.8,899.6 567,905.3 568,910.8 C569,916.3 570.1,924.1 571,929 C571.9,933.8 573,938 573.4,939.9 L573.4,939 L434.8,939 Z" fill="#15342a"/>
<path d="M250,936.5 C266.7,935.4 326.7,931.6 350,930 C373.3,928.4 380.2,927.9 390,927 C399.8,926.1 403.9,925 409.1,924.4 C414.3,923.9 418.2,923.7 421.2,923.7 C424.2,923.7 425,924 427.2,924.4 C429.5,924.8 431.8,926.2 434.8,926.2 C437.8,926.2 441.1,925.4 445.4,924.4 C449.7,923.5 455.5,921.9 460.5,920.6 C465.6,919.4 470.6,918 475.7,916.9 C480.7,915.7 485.8,914.7 490.8,913.8 C495.8,912.9 500.9,912.8 505.9,911.6 C511,910.3 516,908.2 521.1,906.3 C526.1,904.4 531.2,901.5 536.2,900.2 C541.2,898.9 547.5,899.2 551.3,898.7 C555.1,898.2 557,897.3 558.9,897.2 C560.8,897.1 561.7,896.7 562.7,897.9 C563.7,899.2 564.1,901.3 565,904.7 C565.8,908.2 567,913.8 568,918.4 C569,922.9 570.1,928.4 571,932 C571.9,935.6 573,938.5 573.4,939.9 L573.4,939 L250,939 Z" fill="#5ec5f0"/>
<path d="M250,937.5 C266.7,936.8 326.7,934.2 350,933 C373.3,931.8 380.2,931 390,930.5 C399.8,930 403.9,929.8 409.1,929.7 C414.3,929.7 418.2,930 421.2,930.2 C424.2,930.4 425,930.6 427.2,930.9 C429.5,931.2 431.8,932.3 434.8,932 C437.8,931.7 441.1,930.2 445.4,929 C449.7,927.7 455.5,925.7 460.5,924.4 C465.6,923.2 470.6,922.3 475.7,921.4 C480.7,920.5 485.8,919.9 490.8,919.1 C495.8,918.4 500.9,917.7 505.9,916.9 C511,916 516,915.1 521.1,913.8 C526.1,912.6 531.2,910.4 536.2,909.3 C541.2,908.2 547.5,907.8 551.3,907 C555.1,906.3 557,905 558.9,904.7 C560.8,904.5 561.7,904.5 562.7,905.5 C563.7,906.5 564.1,907.9 565,910.8 C565.8,913.7 567,919.1 568,922.9 C569,926.7 570.1,930.7 571,933.5 C571.9,936.3 573,938.8 573.4,939.9 L573.4,939 L250,939 Z" fill="#f7931e"/>
<path d="M250,938 C273.3,937.7 363.5,936.8 390,936 C416.5,935.2 403.9,933.9 409.1,933.5 C414.3,933.1 416.9,933.5 421.2,933.8 C425.5,934.1 430.8,934.9 434.8,935 C438.8,935.1 438.6,934.6 445.4,934.3 C452.2,934 465.6,933.6 475.7,933.2 C485.8,932.8 495.8,932.6 505.9,932 C516,931.4 528.6,930.3 536.2,929.7 C543.8,929.1 547.2,928.7 551.3,928.2 C555.5,927.7 559.2,926.8 561.2,926.7 C563.2,926.6 562.6,926.6 563.4,927.4 C564.3,928.3 565.5,930.5 566.5,932 C567.5,933.5 568.3,935.2 569.5,936.5 C570.7,937.8 572.8,939.3 573.4,939.9 L573.4,939 L250,939 Z" fill="#5ec5f0"/>
<path d="M250,938.8 C273.3,938.6 363.5,938.1 390,938 C416.5,937.9 399.8,938.1 409.1,938 C418.3,938 434.3,937.8 445.4,937.7 C456.5,937.6 465.6,937.6 475.7,937.4 C485.8,937.3 495.8,937 505.9,936.8 C516,936.6 528.6,936.4 536.2,936.2 C543.8,936 547.2,935.9 551.3,935.6 C555.5,935.4 558.9,934.8 561.2,934.7 C563.4,934.7 563.6,934.8 565,935.3 C566.3,935.8 568.1,937 569.5,937.7 C570.9,938.5 572.8,939.5 573.4,939.9 L573.4,939 L250,939 Z" fill="#2b8a1e"/>
<path d="M575,938.5 L645,938.5" fill="none" stroke="#c070c0" stroke-width="1.2" stroke-linejoin="round"/>
<path d="M230,832.5 V939" fill="none" stroke="#8a8a8a" stroke-width="1.5"/>
<path d="M250,939 H645" fill="none" stroke="#8a8a8a" stroke-width="1.5"/>
<path d="M230,836.5 H234" stroke="#8a8a8a" stroke-width="1.4"/>
<text x="225.6" y="843" text-anchor="end" font-size="18.3">500</text>
<path d="M230,887.5 H234" stroke="#8a8a8a" stroke-width="1.4"/>
<text x="225.6" y="894" text-anchor="end" font-size="18.3">250</text>
<path d="M230,938.5 H234" stroke="#8a8a8a" stroke-width="1.4"/>
<text x="225.6" y="945" text-anchor="end" font-size="18.3">0</text>
<path d="M358.5,939 V942.5" stroke="#8a8a8a" stroke-width="1.4"/>
<text x="358.5" y="962.6" text-anchor="middle" font-size="18.3">2</text>
<path d="M481,939 V942.5" stroke="#8a8a8a" stroke-width="1.4"/>
<text x="481" y="962.6" text-anchor="middle" font-size="18.3">4</text>
<path d="M603.5,939 V942.5" stroke="#8a8a8a" stroke-width="1.4"/>
<text x="603.5" y="962.6" text-anchor="middle" font-size="18.3">6</text>
<path d="M259.5,820.8 V932.5" stroke="#5669a8" stroke-width="1.6" stroke-dasharray="4.1,1.9"/>
<path d="M361.5,820.8 V925" stroke="#5669a8" stroke-width="1.6" stroke-dasharray="4.1,1.9"/>
<path d="M421.5,820.8 V917.5" stroke="#5669a8" stroke-width="1.6" stroke-dasharray="4.1,1.9"/>
<path d="M550,820.8 V840" stroke="#5669a8" stroke-width="1.6" stroke-dasharray="4.1,1.9"/>
<path d="M257.5,796.7 L261.5,796.7 L261.5,808.8 L264.3,808.8 L259.5,817.2 L254.7,808.8 L257.5,808.8 Z" fill="#000"/>
<path d="M359.5,796.7 L363.5,796.7 L363.5,808.8 L366.3,808.8 L361.5,817.2 L356.7,808.8 L359.5,808.8 Z" fill="#000"/>
<path d="M419.5,796.7 L423.5,796.7 L423.5,808.8 L426.3,808.8 L421.5,817.2 L416.7,808.8 L419.5,808.8 Z" fill="#000"/>
<path d="M548,796.7 L552,796.7 L552,808.8 L554.8,808.8 L550,817.2 L545.2,808.8 L548,808.8 Z" fill="#000"/>
<circle cx="250" cy="933.5" r="1.95"/>
<circle cx="260" cy="933.5" r="1.95"/>
<circle cx="275" cy="933" r="1.95"/>
<circle cx="293.5" cy="931" r="1.95"/>
<circle cx="310" cy="930" r="1.95"/>
<circle cx="326" cy="929" r="1.95"/>
<circle cx="343" cy="927.5" r="1.95"/>
<circle cx="361.5" cy="926" r="1.95"/>
<circle cx="377.5" cy="923" r="1.95"/>
<circle cx="392.5" cy="922" r="1.95"/>
<circle cx="406" cy="922.5" r="1.95"/>
<circle cx="421.5" cy="918" r="1.95"/>
<circle cx="421.2" cy="917.6" r="1.95"/>
<circle cx="436.3" cy="918.1" r="1.95"/>
<circle cx="442.4" cy="915" r="1.95"/>
<circle cx="452.2" cy="914.6" r="1.95"/>
<circle cx="468.1" cy="913.8" r="1.95"/>
<circle cx="484.7" cy="885.4" r="1.95"/>
<circle cx="498.4" cy="887.8" r="1.95"/>
<circle cx="513.5" cy="871.2" r="1.95"/>
<circle cx="521.1" cy="870.7" r="1.95"/>
<circle cx="537" cy="854.8" r="1.95"/>
<circle cx="550.6" cy="841.9" r="1.95"/>
<circle cx="566" cy="825.3" r="1.95"/>
<circle cx="570.2" cy="847.2" r="1.95"/>
<circle cx="564.2" cy="851.8" r="1.95"/>
<circle cx="570.2" cy="885.8" r="1.95"/>
<circle cx="570.2" cy="893.4" r="1.95"/>
<circle cx="570.2" cy="915.3" r="1.95"/>
<circle cx="571" cy="922.1" r="1.95"/>
<circle cx="575.5" cy="937.7" r="1.95"/>
<circle cx="579.3" cy="939.2" r="1.95"/>
<circle cx="584.6" cy="938.3" r="1.95"/>
<circle cx="588.4" cy="937.7" r="1.95"/>
<circle cx="593.7" cy="938.8" r="1.95"/>
<circle cx="600.5" cy="938.8" r="1.95"/>
<circle cx="604.3" cy="938.8" r="1.95"/>
<circle cx="620.9" cy="938.5" r="1.95"/>
<circle cx="630" cy="938.3" r="1.95"/>
<circle cx="640.6" cy="938.9" r="1.95"/>
<text x="48.5" y="1087.3" font-size="27" font-weight="bold">Pt. 6</text>
<text transform="translate(176,1080) rotate(-90)" text-anchor="middle" font-size="21">WBC x 109/L</text>
<path d="M242,1132.5 L300,1131 L350,1129 L400,1126 L430,1125 L450,1122.5 L487.5,1115 L512.5,1110 L545,1083.8 L575,1060 L580.5,1055.5 L585,1065 L587,1100 L590,1125 L593.8,1132.5 L597.5,1136.2 L597.5,1137 L242,1137 Z" fill="#2b8a1e"/>
<path d="M242,1133 L350,1130 L430,1126 L450,1123.8 L487.5,1117.5 L512.5,1113.8 L545,1090 L575,1067 L581.2,1064.5 L585,1072.5 L588.8,1112.5 L593.8,1133.8 L597.5,1136.5 L597.5,1137 L242,1137 Z" fill="#5ec5f0"/>
<path d="M242,1133.5 L350,1130.5 L430,1126.5 L450,1124.5 L487.5,1118.8 L512.5,1115.5 L545,1093 L575,1073.2 L581.2,1071.2 L585,1077.5 L588.5,1112.5 L593.5,1134 L597.5,1136.5 L597.5,1137 L242,1137 Z" fill="#f7931e"/>
<path d="M242,1134 L350,1131 L430,1127.5 L450,1125.5 L487.5,1120 L512.5,1117 L545,1095 L575,1077.5 L581.2,1075.5 L585,1082.5 L587,1105 L590,1127.5 L593.8,1135 L597.5,1136.8 L597.5,1137 L242,1137 Z" fill="#5b6cf0"/>
<path d="M242,1135 L350,1133 L430,1131 L450,1129.5 L487.5,1127.5 L512.5,1125 L545,1120 L575,1114.5 L581.2,1113 L585,1117.5 L588.8,1127.5 L593.8,1135 L597.5,1136.8 L597.5,1137 L242,1137 Z" fill="#15342a"/>
<path d="M242,1135.5 L350,1134 L430,1132.5 L450,1131.2 L512.5,1128.8 L545,1125 L575,1121.2 L581.2,1119.5 L585,1123.8 L590,1131.2 L593.8,1135.8 L597.5,1137 L597.5,1137 L242,1137 Z" fill="#5ec5f0"/>
<path d="M242,1136 L350,1135.5 L430,1135 L450,1134.5 L512.5,1132 L545,1128.8 L575,1126.2 L582.5,1125 L586.2,1128.8 L590,1133.8 L593.8,1136.5 L597.5,1137 L597.5,1137 L242,1137 Z" fill="#2b8a1e"/>
<path d="M595,1136.2 C600,1136.2 613.8,1136 625,1135.8 C636.2,1135.5 652.1,1134.9 662.5,1134.5 C672.9,1134.1 681.2,1133.6 687.5,1133.2 C693.8,1132.9 689.6,1132.2 700,1132.5 C710.4,1132.8 735.4,1134.8 750,1135 C764.6,1135.2 778.3,1134.4 787.5,1134 C796.7,1133.6 795.4,1132.3 805,1132.5 C814.6,1132.7 838.1,1134.2 845,1135 C851.9,1135.8 846,1136.7 846.2,1137 L846.2,1137 L595,1137 Z" fill="#5ec5f0"/>
<path d="M665,1136.8 C666.7,1136.1 669.2,1134.1 675,1133 C680.8,1131.9 694.6,1131.3 700,1130 C705.4,1128.7 704.2,1127.5 707.5,1125 C710.8,1122.5 716.7,1119.2 720,1115 C723.3,1110.8 725.4,1105.4 727.5,1100 C729.6,1094.6 731,1086.7 732.5,1082.5 C734,1078.3 735,1075.5 736.2,1075 C737.5,1074.5 738.8,1075.3 740,1079.5 C741.2,1083.7 742.5,1093.2 743.8,1100 C745,1106.8 746.5,1115 747.5,1120 C748.5,1125 749,1127.4 750,1130 C751,1132.6 753.1,1134.6 753.8,1135.5 L753.8,1137 L665,1137 Z" fill="#2b8a1e"/>
<path d="M670,1136.8 C671.7,1136.2 675,1134.5 680,1133.5 C685,1132.5 695,1132.3 700,1131 C705,1129.7 706.7,1128.2 710,1125.8 C713.3,1123.3 717.1,1120.3 720,1116.2 C722.9,1112.2 725.4,1106.5 727.5,1101.2 C729.6,1096 731,1088.8 732.5,1085 C734,1081.2 735,1078.5 736.2,1078.2 C737.5,1078 738.8,1079.2 740,1083.2 C741.2,1087.3 742.5,1096 743.8,1102.5 C745,1109 746.2,1117.5 747.5,1122.5 C748.8,1127.5 750.2,1130.2 751.2,1132.5 C752.3,1134.8 753.3,1135.6 753.8,1136.2 L753.8,1137 L670,1137 Z" fill="#f7931e"/>
<path d="M700,1135 C702.1,1134.6 708.3,1134.2 712.5,1132.5 C716.7,1130.8 721.2,1127.3 725,1125 C728.8,1122.7 732.5,1119.2 735,1118.8 C737.5,1118.3 738.3,1120.6 740,1122.5 C741.7,1124.4 743.5,1127.9 745,1130 C746.5,1132.1 747.7,1133.9 748.8,1135 C749.8,1136.1 750.8,1136.2 751.2,1136.5 L751.2,1137 L700,1137 Z" fill="#15342a"/>
<path d="M715,1136.2 C717.5,1135.1 726.5,1130.8 730,1129.5 C733.5,1128.2 734.4,1128.3 736.2,1128.5 C738.1,1128.7 739.8,1129.6 741.2,1130.5 C742.7,1131.4 743.5,1132.8 745,1133.8 C746.5,1134.8 749.2,1136 750,1136.5 L750,1137 L715,1137 Z" fill="#5ec5f0"/>
<path d="M725,1136.5 C727.1,1136.2 734.6,1135.2 737.5,1135 C740.4,1134.8 740.6,1134.7 742.5,1135 C744.4,1135.3 747.7,1136.5 748.8,1136.8 L748.8,1137 L725,1137 Z" fill="#2b8a1e"/>
<path d="M782.5,1135 C785.4,1134 796.2,1130.4 800,1128.8 C803.8,1127.1 802.9,1125.4 805,1125 C807.1,1124.6 810,1126.5 812.5,1126.2 C815,1126 817.1,1125.4 820,1123.8 C822.9,1122.1 827.1,1118.4 830,1116.2 C832.9,1114.1 835.6,1111 837.5,1110.8 C839.4,1110.5 840.2,1111.3 841.2,1114.5 C842.3,1117.7 843,1126.2 843.8,1130 C844.5,1133.8 845.2,1135.8 845.5,1137 L845.5,1137 L782.5,1137 Z" fill="#72e6d6"/>
<path d="M783.8,1135.5 C786.5,1134.5 796.5,1131.1 800,1129.5 C803.5,1127.9 802.9,1126.4 805,1126 C807.1,1125.6 810,1127.2 812.5,1127 C815,1126.8 817.1,1126.3 820,1124.8 C822.9,1123.2 827.1,1119.6 830,1117.5 C832.9,1115.4 835.7,1112.3 837.5,1112 C839.3,1111.7 839.8,1112.5 840.8,1115.5 C841.7,1118.5 842.5,1126.4 843.2,1130 C844,1133.6 844.7,1135.8 845,1137 L845,1137 L783.8,1137 Z" fill="#f7931e"/>
<path d="M795,1136.5 C796.7,1136.2 800.8,1135 805,1134.5 C809.2,1134 815,1134.3 820,1133.8 C825,1133.2 831.5,1131.7 835,1131 C838.5,1130.3 839.8,1128.8 841.2,1129.5 C842.8,1130.2 843.4,1133.8 844,1135 C844.6,1136.2 844.8,1136.7 845,1137 L845,1137 L795,1137 Z" fill="#15342a"/>
<path d="M807.5,1136.8 C812.1,1136.5 829.2,1135.4 835,1135 C840.8,1134.6 840.8,1133.9 842.5,1134.2 C844.2,1134.6 844.6,1136.5 845,1137 L845,1137 L807.5,1137 Z" fill="#5ec5f0"/>
<path d="M230,1042.5 V1137" fill="none" stroke="#8a8a8a" stroke-width="1.5"/>
<path d="M242,1137 H847.5" fill="none" stroke="#8a8a8a" stroke-width="1.5"/>
<path d="M230,1046 H234" stroke="#8a8a8a" stroke-width="1.4"/>
<text x="225.6" y="1052.5" text-anchor="end" font-size="18.3">100</text>
<path d="M230,1091.5 H234" stroke="#8a8a8a" stroke-width="1.4"/>
<text x="225.6" y="1098" text-anchor="end" font-size="18.3">50</text>
<path d="M230,1137 H234" stroke="#8a8a8a" stroke-width="1.4"/>
<text x="225.6" y="1143.5" text-anchor="end" font-size="18.3">0</text>
<path d="M248.5,1137 V1140.5" stroke="#8a8a8a" stroke-width="1.4"/>
<text x="248.5" y="1160.6" text-anchor="middle" font-size="18.3">6</text>
<path d="M362.5,1137 V1140.5" stroke="#8a8a8a" stroke-width="1.4"/>
<text x="362.5" y="1160.6" text-anchor="middle" font-size="18.3">8</text>
<path d="M475,1137 V1140.5" stroke="#8a8a8a" stroke-width="1.4"/>
<text x="475" y="1160.6" text-anchor="middle" font-size="18.3">10</text>
<path d="M588,1137 V1140.5" stroke="#8a8a8a" stroke-width="1.4"/>
<text x="588" y="1160.6" text-anchor="middle" font-size="18.3">12</text>
<path d="M702,1137 V1140.5" stroke="#8a8a8a" stroke-width="1.4"/>
<text x="702" y="1160.6" text-anchor="middle" font-size="18.3">14</text>
<path d="M815,1137 V1140.5" stroke="#8a8a8a" stroke-width="1.4"/>
<text x="815" y="1160.6" text-anchor="middle" font-size="18.3">16</text>
<path d="M345,1028.3 V1129" stroke="#5669a8" stroke-width="1.6" stroke-dasharray="4.1,1.9"/>
<path d="M429.5,1028.3 V1125" stroke="#5669a8" stroke-width="1.6" stroke-dasharray="4.1,1.9"/>
<path d="M575,1028.3 V1059" stroke="#5669a8" stroke-width="1.6" stroke-dasharray="4.1,1.9"/>
<path d="M723.5,1028.3 V1100" stroke="#5669a8" stroke-width="1.6" stroke-dasharray="4.1,1.9"/>
<path d="M343,1005.2 L347,1005.2 L347,1016.3 L349.8,1016.3 L345,1024.7 L340.2,1016.3 L343,1016.3 Z" fill="#000"/>
<path d="M427.5,1005.2 L431.5,1005.2 L431.5,1016.3 L434.3,1016.3 L429.5,1024.7 L424.7,1016.3 L427.5,1016.3 Z" fill="#000"/>
<path d="M573,1005.2 L577,1005.2 L577,1016.3 L579.8,1016.3 L575,1024.7 L570.2,1016.3 L573,1016.3 Z" fill="#000"/>
<path d="M721.5,1005.2 L725.5,1005.2 L725.5,1016.3 L728.3,1016.3 L723.5,1024.7 L718.7,1016.3 L721.5,1016.3 Z" fill="#000"/>
<circle cx="259" cy="1131.5" r="1.95"/>
<circle cx="288.5" cy="1132.5" r="1.95"/>
<circle cx="316.5" cy="1131" r="1.95"/>
<circle cx="336" cy="1129.5" r="1.95"/>
<circle cx="345" cy="1129.5" r="1.95"/>
<circle cx="376" cy="1126" r="1.95"/>
<circle cx="385" cy="1128" r="1.95"/>
<circle cx="401.5" cy="1123.5" r="1.95"/>
<circle cx="429" cy="1125" r="1.95"/>
<circle cx="460" cy="1120.5" r="1.95"/>
<circle cx="487.5" cy="1115" r="1.95"/>
<circle cx="517.5" cy="1107" r="1.95"/>
<circle cx="545" cy="1084.5" r="1.95"/>
<circle cx="575" cy="1060.8" r="1.95"/>
<circle cx="585" cy="1056.2" r="1.95"/>
<circle cx="582.5" cy="1064.5" r="1.95"/>
<circle cx="584.5" cy="1075" r="1.95"/>
<circle cx="588.8" cy="1125" r="1.95"/>
<circle cx="593.8" cy="1132.5" r="1.95"/>
<circle cx="600" cy="1133.8" r="1.95"/>
<circle cx="607.5" cy="1135" r="1.95"/>
<circle cx="612.5" cy="1135" r="1.95"/>
<circle cx="617.5" cy="1135" r="1.95"/>
<circle cx="623.8" cy="1135" r="1.95"/>
<circle cx="633.8" cy="1134.5" r="1.95"/>
<circle cx="646.2" cy="1133" r="1.95"/>
<circle cx="660" cy="1133" r="1.95"/>
<circle cx="676.2" cy="1128.8" r="1.95"/>
<circle cx="687.5" cy="1129.5" r="1.95"/>
<circle cx="691.2" cy="1130.8" r="1.95"/>
<circle cx="701.2" cy="1129.5" r="1.95"/>
<circle cx="705" cy="1126.2" r="1.95"/>
<circle cx="718.8" cy="1115.5" r="1.95"/>
<circle cx="722.5" cy="1107.5" r="1.95"/>
<circle cx="725.8" cy="1106.2" r="1.95"/>
<circle cx="730.5" cy="1073" r="1.95"/>
<circle cx="732.5" cy="1079.5" r="1.95"/>
<circle cx="735.8" cy="1069" r="1.95"/>
<circle cx="738.8" cy="1053.2" r="1.95"/>
<circle cx="740" cy="1046.5" r="1.95"/>
<circle cx="745" cy="1130" r="1.95"/>
<circle cx="750" cy="1132.5" r="1.95"/>
<circle cx="753.8" cy="1132.5" r="1.95"/>
<circle cx="760" cy="1134.5" r="1.95"/>
<circle cx="767.5" cy="1134.5" r="1.95"/>
<circle cx="775" cy="1134.5" r="1.95"/>
<circle cx="780" cy="1134.5" r="1.95"/>
<circle cx="786.2" cy="1133.8" r="1.95"/>
<circle cx="792.5" cy="1132" r="1.95"/>
<circle cx="798.8" cy="1130" r="1.95"/>
<circle cx="803" cy="1124.5" r="1.95"/>
<circle cx="805" cy="1124.5" r="1.95"/>
<circle cx="812.5" cy="1120" r="1.95"/>
<circle cx="813.8" cy="1130" r="1.95"/>
<circle cx="818.8" cy="1123.8" r="1.95"/>
<circle cx="823.8" cy="1123.2" r="1.95"/>
<circle cx="837.5" cy="1116.2" r="1.95"/>
<circle cx="842.5" cy="1096.2" r="1.95"/>
<circle cx="843.8" cy="1110" r="1.95"/>
<circle cx="846.8" cy="1111.2" r="1.95"/>
<circle cx="844.5" cy="1127.5" r="1.95"/>
<circle cx="845" cy="1135" r="1.95"/>
<text x="48.5" y="1289.8" font-size="27" font-weight="bold">Pt. 7</text>
<text transform="translate(176,1282) rotate(-90)" text-anchor="middle" font-size="21">WBC x 109/L</text>
<path d="M241.2,1336.2 C247.7,1335.6 267.3,1334.4 280,1332.5 C292.7,1330.6 307.1,1329.2 317.5,1325 C327.9,1320.8 335.8,1314.4 342.5,1307.5 C349.2,1300.6 352.9,1285 357.5,1283.8 C362.1,1282.5 365.4,1294.4 370,1300 C374.6,1305.6 379.2,1314.8 385,1317.5 C390.8,1320.2 396.7,1316.8 405,1316.2 C413.3,1315.8 426.7,1315.3 435,1314.5 C443.3,1313.7 447.5,1313.2 455,1311.2 C462.5,1309.2 471.7,1306 480,1302.5 C488.3,1299 496.7,1293.8 505,1290 C513.3,1286.2 523.8,1281.9 530,1280 C536.2,1278.1 539.6,1277.9 542.5,1278.8 C545.4,1279.6 545.4,1278.1 547.5,1285 C549.6,1291.9 552.9,1310.7 555,1320 C557.1,1329.3 558.3,1336.5 560,1341 C561.7,1345.5 558.3,1346.2 565,1347 C571.7,1347.8 589.2,1345.9 600,1345.5 C610.8,1345.1 619.4,1344.8 630,1344.5 C640.6,1344.2 657.9,1343.7 663.5,1343.5 L663.5,1348.5 L241.2,1348.5 Z" fill="#2b8a1e"/>
<path d="M241.2,1339.5 C247.7,1339.2 267.3,1338.7 280,1337.5 C292.7,1336.3 307.1,1335.4 317.5,1332.5 C327.9,1329.6 335.8,1325.3 342.5,1320 C349.2,1314.7 352.9,1301.8 357.5,1300.5 C362.1,1299.2 365.4,1308.4 370,1312.5 C374.6,1316.6 379.2,1322.7 385,1325 C390.8,1327.3 396.7,1326.2 405,1326.2 C413.3,1326.2 426.7,1325.4 435,1325 C443.3,1324.6 447.5,1324.8 455,1323.8 C462.5,1322.7 471.7,1320.8 480,1318.8 C488.3,1316.7 496.7,1314 505,1311.2 C513.3,1308.5 523.8,1304.4 530,1302.5 C536.2,1300.6 539.2,1299.2 542.5,1300 C545.8,1300.8 547.9,1303.3 550,1307.5 C552.1,1311.7 553.3,1319.1 555,1325 C556.7,1330.9 558.3,1339.2 560,1343 C561.7,1346.8 564.2,1347.2 565,1348 L565,1348.5 L241.2,1348.5 Z" fill="#15342a"/>
<path d="M241.2,1341.2 C247.7,1341 267.3,1340.8 280,1340 C292.7,1339.2 307.1,1338.5 317.5,1336.2 C327.9,1334 335.8,1330.3 342.5,1326.2 C349.2,1322.2 352.9,1313 357.5,1312 C362.1,1311 365.4,1317.3 370,1320 C374.6,1322.7 379.2,1326.3 385,1328 C390.8,1329.7 396.7,1329.8 405,1330 C413.3,1330.2 426.7,1329.7 435,1329.5 C443.3,1329.3 447.5,1329.5 455,1328.8 C462.5,1328 471.7,1326.9 480,1325 C488.3,1323.1 496.7,1320 505,1317.5 C513.3,1315 523.8,1311.5 530,1310 C536.2,1308.5 539.2,1307.9 542.5,1308.8 C545.8,1309.6 547.9,1311.5 550,1315 C552.1,1318.5 553.3,1325.2 555,1330 C556.7,1334.8 558.3,1341 560,1344 C561.7,1347 564.2,1347.3 565,1348 L565,1348.5 L241.2,1348.5 Z" fill="#f7931e"/>
<path d="M241.2,1343 C247.7,1342.9 267.3,1343.1 280,1342.5 C292.7,1341.9 307.1,1341.2 317.5,1339.5 C327.9,1337.8 335.8,1335.2 342.5,1332 C349.2,1328.8 352.9,1321 357.5,1320 C362.1,1319 365.4,1324 370,1326.2 C374.6,1328.5 379.2,1332.2 385,1333.8 C390.8,1335.3 396.7,1335.3 405,1335.5 C413.3,1335.7 426.7,1335.2 435,1335 C443.3,1334.8 447.5,1335.1 455,1334.5 C462.5,1333.9 471.7,1332.8 480,1331.2 C488.3,1329.7 496.7,1327 505,1325 C513.3,1323 523.8,1320.5 530,1319.5 C536.2,1318.5 539.2,1318.2 542.5,1318.8 C545.8,1319.2 547.9,1319.8 550,1322.5 C552.1,1325.2 553.3,1331.2 555,1335 C556.7,1338.8 558.3,1342.8 560,1345 C561.7,1347.2 564.2,1347.5 565,1348 L565,1348.5 L241.2,1348.5 Z" fill="#15342a"/>
<path d="M241.2,1345 C247.7,1344.9 267.3,1344.9 280,1344.5 C292.7,1344.1 307.1,1343.7 317.5,1342.5 C327.9,1341.3 335.8,1339.4 342.5,1337.5 C349.2,1335.6 352.9,1331.9 357.5,1331.2 C362.1,1330.6 365.4,1332.5 370,1333.8 C374.6,1335 379.2,1337.8 385,1338.8 C390.8,1339.7 396.7,1339.5 405,1339.5 C413.3,1339.5 426.7,1339.2 435,1339 C443.3,1338.8 447.5,1339 455,1338.5 C462.5,1338 471.7,1337.3 480,1336.2 C488.3,1335.2 496.7,1333.5 505,1332 C513.3,1330.5 523.8,1328.3 530,1327.5 C536.2,1326.7 539.2,1326.6 542.5,1327 C545.8,1327.4 547.9,1327.8 550,1330 C552.1,1332.2 553.3,1337.3 555,1340 C556.7,1342.7 558.3,1344.9 560,1346.2 C561.7,1347.6 564.2,1347.7 565,1348 L565,1348.5 L241.2,1348.5 Z" fill="#2b8a1e"/>
<path d="M565,1347.5 C570.8,1347.2 589.2,1346.4 600,1346 C610.8,1345.6 619.4,1345.2 630,1345 C640.6,1344.8 657.9,1344.6 663.5,1344.5" fill="none" stroke="#f7931e" stroke-width="1.0" stroke-linejoin="round"/>
<path d="M230,1239 V1348.5" fill="none" stroke="#8a8a8a" stroke-width="1.5"/>
<path d="M241.2,1348.5 H663.5" fill="none" stroke="#8a8a8a" stroke-width="1.5"/>
<path d="M230,1243.5 H234" stroke="#8a8a8a" stroke-width="1.4"/>
<text x="225.6" y="1250" text-anchor="end" font-size="18.3">80</text>
<path d="M230,1295.5 H234" stroke="#8a8a8a" stroke-width="1.4"/>
<text x="225.6" y="1302" text-anchor="end" font-size="18.3">40</text>
<path d="M230,1348.5 H234" stroke="#8a8a8a" stroke-width="1.4"/>
<text x="225.6" y="1355" text-anchor="end" font-size="18.3">0</text>
<path d="M295,1348.5 V1352" stroke="#8a8a8a" stroke-width="1.4"/>
<text x="295" y="1372.1" text-anchor="middle" font-size="18.3">2</text>
<path d="M407.5,1348.5 V1352" stroke="#8a8a8a" stroke-width="1.4"/>
<text x="407.5" y="1372.1" text-anchor="middle" font-size="18.3">4</text>
<path d="M520,1348.5 V1352" stroke="#8a8a8a" stroke-width="1.4"/>
<text x="520" y="1372.1" text-anchor="middle" font-size="18.3">6</text>
<path d="M631.5,1348.5 V1352" stroke="#8a8a8a" stroke-width="1.4"/>
<text x="631.5" y="1372.1" text-anchor="middle" font-size="18.3">8</text>
<path d="M241,1238.3 V1335" stroke="#5669a8" stroke-width="1.6" stroke-dasharray="4.1,1.9"/>
<path d="M345,1238.3 V1298.5" stroke="#5669a8" stroke-width="1.6" stroke-dasharray="4.1,1.9"/>
<path d="M538,1238.3 V1277.5" stroke="#5669a8" stroke-width="1.6" stroke-dasharray="4.1,1.9"/>
<path d="M239,1215.2 L243,1215.2 L243,1226.3 L245.8,1226.3 L241,1234.7 L236.2,1226.3 L239,1226.3 Z" fill="#000"/>
<path d="M343,1215.2 L347,1215.2 L347,1226.3 L349.8,1226.3 L345,1234.7 L340.2,1226.3 L343,1226.3 Z" fill="#000"/>
<path d="M536,1215.2 L540,1215.2 L540,1226.3 L542.8,1226.3 L538,1234.7 L533.2,1226.3 L536,1226.3 Z" fill="#000"/>
<circle cx="241" cy="1317.5" r="1.95"/>
<circle cx="265" cy="1320" r="1.95"/>
<circle cx="280" cy="1322.5" r="1.95"/>
<circle cx="292.5" cy="1322.5" r="1.95"/>
<circle cx="306.5" cy="1318" r="1.95"/>
<circle cx="327.5" cy="1316" r="1.95"/>
<circle cx="345" cy="1298.5" r="1.95"/>
<circle cx="357" cy="1272.5" r="1.95"/>
<circle cx="380" cy="1310" r="1.95"/>
<circle cx="387.5" cy="1311.5" r="1.95"/>
<circle cx="393.5" cy="1312.5" r="1.95"/>
<circle cx="398.5" cy="1319" r="1.95"/>
<circle cx="407.5" cy="1311" r="1.95"/>
<circle cx="416.5" cy="1304" r="1.95"/>
<circle cx="421.5" cy="1310" r="1.95"/>
<circle cx="435" cy="1314" r="1.95"/>
<circle cx="442.5" cy="1305" r="1.95"/>
<circle cx="446.5" cy="1305" r="1.95"/>
<circle cx="450" cy="1307" r="1.95"/>
<circle cx="456.5" cy="1305.5" r="1.95"/>
<circle cx="473.5" cy="1297" r="1.95"/>
<circle cx="503" cy="1280" r="1.95"/>
<circle cx="523" cy="1266.5" r="1.95"/>
<circle cx="538" cy="1264.5" r="1.95"/>
<circle cx="552.5" cy="1309" r="1.95"/>
<circle cx="556.5" cy="1310" r="1.95"/>
<circle cx="558.5" cy="1342.5" r="1.95"/>
<circle cx="562.5" cy="1344" r="1.95"/>
<circle cx="567.5" cy="1344.5" r="1.95"/>
<circle cx="574" cy="1345" r="1.95"/>
<circle cx="580" cy="1345" r="1.95"/>
<circle cx="585" cy="1345" r="1.95"/>
<circle cx="600" cy="1344.5" r="1.95"/>
<circle cx="615" cy="1343" r="1.95"/>
<circle cx="635" cy="1341.5" r="1.95"/>
<circle cx="656.5" cy="1342.5" r="1.95"/>
<text x="48.5" y="1492.3" font-size="27" font-weight="bold">Pt. 8</text>
<text transform="translate(176,1482) rotate(-90)" text-anchor="middle" font-size="21">WBC x 109/L</text>
<path d="M239,1486 L276.5,1479 L300,1465 L325,1450 L350,1437.5 L360,1435.5 L365,1437.5 L367.5,1465 L370,1500 L372.5,1532 L372.5,1533 L239,1533 Z" fill="#2b8a1e"/>
<path d="M239,1499 L276.5,1495 L300,1482.5 L325,1470 L350,1462.5 L360,1461.5 L366,1462.5 L369,1495 L371,1530 L371,1533 L239,1533 Z" fill="#5ec5f0"/>
<path d="M239,1504 L276.5,1500 L300,1490 L325,1481.5 L350,1475 L360,1475 L366,1476.5 L369,1500 L371,1530 L371,1533 L239,1533 Z" fill="#15342a"/>
<path d="M239,1515 L276.5,1511.5 L300,1504 L325,1497.5 L350,1494 L360,1493.5 L366,1495 L369,1515 L371,1531 L371,1533 L239,1533 Z" fill="#5ec5f0"/>
<path d="M239,1520 L276.5,1517.5 L300,1514 L325,1510 L350,1507.5 L360,1506.5 L366,1507.5 L369,1522.5 L371.5,1532 L371.5,1533 L239,1533 Z" fill="#2b8a1e"/>
<path d="M372.5,1532.5 L400,1532 L473,1531 L473,1533 L473,1533 L372.5,1533 Z" fill="#5ec5f0"/>
<path d="M230,1425 V1533" fill="none" stroke="#8a8a8a" stroke-width="1.5"/>
<path d="M239,1533 H473" fill="none" stroke="#8a8a8a" stroke-width="1.5"/>
<path d="M230,1438.5 H234" stroke="#8a8a8a" stroke-width="1.4"/>
<text x="225.6" y="1445" text-anchor="end" font-size="18.3">200</text>
<path d="M230,1486 H234" stroke="#8a8a8a" stroke-width="1.4"/>
<text x="225.6" y="1492.5" text-anchor="end" font-size="18.3">100</text>
<path d="M230,1533 H234" stroke="#8a8a8a" stroke-width="1.4"/>
<text x="225.6" y="1539.5" text-anchor="end" font-size="18.3">0</text>
<path d="M321.5,1533 V1536.5" stroke="#8a8a8a" stroke-width="1.4"/>
<text x="321.5" y="1556.6" text-anchor="middle" font-size="18.3">4</text>
<path d="M434.5,1533 V1536.5" stroke="#8a8a8a" stroke-width="1.4"/>
<text x="434.5" y="1556.6" text-anchor="middle" font-size="18.3">6</text>
<path d="M241,1424.3 V1485" stroke="#5669a8" stroke-width="1.6" stroke-dasharray="4.1,1.9"/>
<path d="M276.5,1424.3 V1476" stroke="#5669a8" stroke-width="1.6" stroke-dasharray="4.1,1.9"/>
<path d="M361.5,1424.3 V1435" stroke="#5669a8" stroke-width="1.6" stroke-dasharray="4.1,1.9"/>
<path d="M239,1400.7 L243,1400.7 L243,1412.3 L245.8,1412.3 L241,1420.7 L236.2,1412.3 L239,1412.3 Z" fill="#000"/>
<path d="M274.5,1400.7 L278.5,1400.7 L278.5,1412.3 L281.3,1412.3 L276.5,1420.7 L271.7,1412.3 L274.5,1412.3 Z" fill="#000"/>
<path d="M359.5,1400.7 L363.5,1400.7 L363.5,1412.3 L366.3,1412.3 L361.5,1420.7 L356.7,1412.3 L359.5,1412.3 Z" fill="#000"/>
<circle cx="239" cy="1486.5" r="1.95"/>
<circle cx="276.5" cy="1477.5" r="1.95"/>
<circle cx="295" cy="1476.5" r="1.95"/>
<circle cx="314" cy="1433" r="1.95"/>
<circle cx="331" cy="1435" r="1.95"/>
<circle cx="346.5" cy="1447" r="1.95"/>
<circle cx="361.5" cy="1435.5" r="1.95"/>
<circle cx="366.5" cy="1438.5" r="1.95"/>
<circle cx="369" cy="1526" r="1.95"/>
<circle cx="374" cy="1531" r="1.95"/>
<circle cx="380" cy="1531" r="1.95"/>
<circle cx="385" cy="1531" r="1.95"/>
<circle cx="390" cy="1531" r="1.95"/>
<circle cx="396" cy="1531.5" r="1.95"/>
<circle cx="420" cy="1532" r="1.95"/>
<circle cx="439" cy="1531" r="1.95"/>
<circle cx="467.5" cy="1531" r="1.95"/>
<text x="48.5" y="1699.8" font-size="27" font-weight="bold">Pt. 9</text>
<text transform="translate(176,1685) rotate(-90)" text-anchor="middle" font-size="21">WBC x 109/L</text>
<path d="M240,1733 C244.2,1733 258.8,1733.3 265,1733 C271.2,1732.7 273.8,1730.8 277.5,1731 C281.2,1731.2 283.8,1733.8 287.5,1734 C291.2,1734.2 289.6,1734 300,1732.5 C310.4,1731 333.3,1727.7 350,1725 C366.7,1722.3 383.3,1719.8 400,1716.5 C416.7,1713.2 433.3,1709.8 450,1705 C466.7,1700.2 487.5,1692.3 500,1687.5 C512.5,1682.7 516.7,1679.8 525,1676 C533.3,1672.2 543.6,1667.7 550,1665 C556.4,1662.3 561,1660 563.5,1660 C566,1660 564.5,1654.2 565,1665 C565.5,1675.8 566,1711.3 566.5,1725 C567,1738.7 567.8,1743.3 568,1747 L568,1747 L240,1747 Z" fill="#2b8a1e"/>
<path d="M240,1736 C244.2,1736 258.8,1736.2 265,1736 C271.2,1735.8 273.8,1734.2 277.5,1734.5 C281.2,1734.8 283.8,1737.6 287.5,1738 C291.2,1738.4 289.6,1738.2 300,1737 C310.4,1735.8 333.3,1732.8 350,1730.5 C366.7,1728.2 383.3,1726.1 400,1723 C416.7,1719.9 433.3,1716.6 450,1712 C466.7,1707.4 487.5,1700.1 500,1695.5 C512.5,1690.9 516.7,1688.2 525,1684.5 C533.3,1680.8 543.6,1676.2 550,1673.5 C556.4,1670.8 561,1668.8 563.5,1668.5 C566,1668.2 564.4,1661.8 565,1672 C565.6,1682.2 566.5,1717.5 567,1730 C567.5,1742.5 567.8,1744.2 568,1747 L568,1747 L240,1747 Z" fill="#15342a"/>
<path d="M240,1737.5 C244.2,1737.5 258.8,1737.8 265,1737.5 C271.2,1737.2 273.8,1735.7 277.5,1736 C281.2,1736.3 283.8,1739.1 287.5,1739.5 C291.2,1739.9 289.6,1739.7 300,1738.5 C310.4,1737.3 333.3,1734.8 350,1732.5 C366.7,1730.2 383.3,1728.1 400,1725 C416.7,1721.9 433.3,1718.5 450,1714 C466.7,1709.5 487.5,1702.5 500,1698 C512.5,1693.5 516.7,1690.7 525,1687 C533.3,1683.3 543.6,1678.7 550,1676 C556.4,1673.3 561,1671.2 563.5,1671 C566,1670.8 564.4,1664.8 565,1675 C565.6,1685.2 566.5,1720.5 567,1732.5 C567.5,1744.5 567.8,1744.6 568,1747 L568,1747 L240,1747 Z" fill="#5b6cf0"/>
<path d="M240,1739 C244.2,1739 258.8,1739.2 265,1739 C271.2,1738.8 273.8,1737.7 277.5,1738 C281.2,1738.3 283.8,1740.7 287.5,1741 C291.2,1741.3 289.6,1741.2 300,1740 C310.4,1738.8 333.3,1736.2 350,1734 C366.7,1731.8 383.3,1730 400,1727 C416.7,1724 433.3,1720.4 450,1716 C466.7,1711.6 487.5,1704.9 500,1700.5 C512.5,1696.1 516.7,1693.2 525,1689.5 C533.3,1685.8 543.6,1681.2 550,1678.5 C556.4,1675.8 561,1673.7 563.5,1673.5 C566,1673.3 564.4,1667.4 565,1677.5 C565.6,1687.6 566.5,1722.4 567,1734 C567.5,1745.6 567.8,1744.8 568,1747 L568,1747 L240,1747 Z" fill="#15342a"/>
<path d="M240,1740.5 C244.2,1740.5 258.8,1740.7 265,1740.5 C271.2,1740.3 273.8,1739.2 277.5,1739.5 C281.2,1739.8 283.8,1741.8 287.5,1742 C291.2,1742.2 289.6,1742.1 300,1741 C310.4,1739.9 333.3,1737.6 350,1735.5 C366.7,1733.4 383.3,1731.4 400,1728.5 C416.7,1725.6 433.3,1722.2 450,1718 C466.7,1713.8 487.5,1707.3 500,1703 C512.5,1698.7 516.7,1695.6 525,1692 C533.3,1688.4 543.6,1684.2 550,1681.5 C556.4,1678.8 561,1675.8 563.5,1675.5 C566,1675.2 564.4,1670.1 565,1680 C565.6,1689.9 566.5,1723.8 567,1735 C567.5,1746.2 567.8,1745 568,1747 L568,1747 L240,1747 Z" fill="#5ec5f0"/>
<path d="M240,1745 C250,1744.7 281.7,1743.8 300,1743 C318.3,1742.2 333.3,1741.3 350,1740 C366.7,1738.7 383.3,1737.1 400,1735 C416.7,1732.9 433.3,1730.7 450,1727.5 C466.7,1724.3 487.5,1719 500,1716 C512.5,1713 516.7,1712.2 525,1709.5 C533.3,1706.8 543.6,1702.6 550,1700 C556.4,1697.4 561,1694 563.5,1694 C566,1694 564.4,1692.3 565,1700 C565.6,1707.7 566.5,1732.2 567,1740 C567.5,1747.8 567.8,1745.8 568,1747 L568,1747 L240,1747 Z" fill="#f7931e"/>
<path d="M240,1745.5 C250,1745.3 281.7,1744.9 300,1744.5 C318.3,1744.1 333.3,1743.8 350,1743 C366.7,1742.2 383.3,1741.3 400,1740 C416.7,1738.7 433.3,1737 450,1735 C466.7,1733 487.5,1729.8 500,1728 C512.5,1726.2 516.7,1725.5 525,1724 C533.3,1722.5 543.6,1720.3 550,1719 C556.4,1717.7 560.8,1713.3 563.5,1716 C566.2,1718.7 565.8,1729.8 566.5,1735 C567.2,1740.2 567.8,1745 568,1747 L568,1747 L240,1747 Z" fill="#5ec5f0"/>
<path d="M240,1746.5 C258.3,1746.2 315,1745.5 350,1745 C385,1744.5 425,1743.9 450,1743.5 C475,1743.1 483.3,1742.9 500,1742.5 C516.7,1742.1 539.2,1741.4 550,1741 C560.8,1740.6 562.2,1739 565,1740 C567.8,1741 566.7,1745.8 567,1747 L567,1747 L240,1747 Z" fill="#2b8a1e"/>
<path d="M569,1743.5 L600,1743.5 L671.5,1743 L671.5,1747 L569,1747 Z" fill="#5ec5f0"/>
<path d="M569,1745 L600,1745 L671.5,1745 L671.5,1747 L569,1747 Z" fill="#f7931e"/>
<path d="M230,1641.5 V1747" fill="none" stroke="#8a8a8a" stroke-width="1.5"/>
<path d="M240,1747 H671.5" fill="none" stroke="#8a8a8a" stroke-width="1.5"/>
<path d="M230,1645.5 H234" stroke="#8a8a8a" stroke-width="1.4"/>
<text x="225.6" y="1652" text-anchor="end" font-size="18.3">120</text>
<path d="M230,1696.5 H234" stroke="#8a8a8a" stroke-width="1.4"/>
<text x="225.6" y="1703" text-anchor="end" font-size="18.3">60</text>
<path d="M230,1747 H234" stroke="#8a8a8a" stroke-width="1.4"/>
<text x="225.6" y="1753.5" text-anchor="end" font-size="18.3">0</text>
<path d="M318.5,1747 V1750.5" stroke="#8a8a8a" stroke-width="1.4"/>
<text x="318.5" y="1770.6" text-anchor="middle" font-size="18.3">2</text>
<path d="M431,1747 V1750.5" stroke="#8a8a8a" stroke-width="1.4"/>
<text x="431" y="1770.6" text-anchor="middle" font-size="18.3">4</text>
<path d="M543.5,1747 V1750.5" stroke="#8a8a8a" stroke-width="1.4"/>
<text x="543.5" y="1770.6" text-anchor="middle" font-size="18.3">6</text>
<path d="M656,1747 V1750.5" stroke="#8a8a8a" stroke-width="1.4"/>
<text x="656" y="1770.6" text-anchor="middle" font-size="18.3">8</text>
<path d="M241,1639.3 V1732.5" stroke="#5669a8" stroke-width="1.6" stroke-dasharray="4.1,1.9"/>
<path d="M289,1639.3 V1734" stroke="#5669a8" stroke-width="1.6" stroke-dasharray="4.1,1.9"/>
<path d="M563.5,1639.3 V1660" stroke="#5669a8" stroke-width="1.6" stroke-dasharray="4.1,1.9"/>
<path d="M239,1615.7 L243,1615.7 L243,1627.3 L245.8,1627.3 L241,1635.7 L236.2,1627.3 L239,1627.3 Z" fill="#000"/>
<path d="M287,1615.7 L291,1615.7 L291,1627.3 L293.8,1627.3 L289,1635.7 L284.2,1627.3 L287,1627.3 Z" fill="#000"/>
<path d="M561.5,1615.7 L565.5,1615.7 L565.5,1627.3 L568.3,1627.3 L563.5,1635.7 L558.7,1627.3 L561.5,1627.3 Z" fill="#000"/>
<circle cx="241" cy="1733" r="1.95"/>
<circle cx="250" cy="1733" r="1.95"/>
<circle cx="260" cy="1733" r="1.95"/>
<circle cx="275" cy="1730.5" r="1.95"/>
<circle cx="289" cy="1734" r="1.95"/>
<circle cx="302.5" cy="1730.5" r="1.95"/>
<circle cx="316" cy="1732.5" r="1.95"/>
<circle cx="329" cy="1730.5" r="1.95"/>
<circle cx="343.5" cy="1725" r="1.95"/>
<circle cx="356.5" cy="1721.5" r="1.95"/>
<circle cx="370" cy="1727" r="1.95"/>
<circle cx="384" cy="1718" r="1.95"/>
<circle cx="397.5" cy="1711.5" r="1.95"/>
<circle cx="425" cy="1706.5" r="1.95"/>
<circle cx="431" cy="1712.5" r="1.95"/>
<circle cx="439" cy="1712.5" r="1.95"/>
<circle cx="451.5" cy="1716.5" r="1.95"/>
<circle cx="465" cy="1694" r="1.95"/>
<circle cx="474" cy="1706" r="1.95"/>
<circle cx="477.5" cy="1694" r="1.95"/>
<circle cx="493.5" cy="1690.5" r="1.95"/>
<circle cx="509" cy="1690" r="1.95"/>
<circle cx="521.5" cy="1678.5" r="1.95"/>
<circle cx="536.5" cy="1663.5" r="1.95"/>
<circle cx="550" cy="1654.5" r="1.95"/>
<circle cx="563.5" cy="1661.5" r="1.95"/>
<circle cx="565.5" cy="1674" r="1.95"/>
<circle cx="565.5" cy="1704.5" r="1.95"/>
<circle cx="566.5" cy="1727.5" r="1.95"/>
<circle cx="568.5" cy="1735" r="1.95"/>
<circle cx="570" cy="1740" r="1.95"/>
<circle cx="572.5" cy="1732.5" r="1.95"/>
<circle cx="575" cy="1737.5" r="1.95"/>
<circle cx="577.5" cy="1740" r="1.95"/>
<circle cx="580" cy="1735" r="1.95"/>
<circle cx="585" cy="1743.5" r="1.95"/>
<circle cx="590" cy="1744" r="1.95"/>
<circle cx="595" cy="1743.5" r="1.95"/>
<circle cx="600" cy="1743.5" r="1.95"/>
<circle cx="618" cy="1743.5" r="1.95"/>
<circle cx="634" cy="1743.5" r="1.95"/>
<circle cx="650" cy="1743" r="1.95"/>
<circle cx="666.5" cy="1743" r="1.95"/>
<text x="48.5" y="1897.3" font-size="27" font-weight="bold">Pt. 10</text>
<text transform="translate(176,1887) rotate(-90)" text-anchor="middle" font-size="21">WBC x 109/L</text>
<path d="M239,1907.5 L270,1906 L287.5,1911 L305,1900 L330,1890 L360,1877.5 L390,1865 L402.5,1861 L405,1895 L407.5,1940 L411,1952.5 L450,1953 L457.5,1952 L475,1950 L500,1949 L525,1948.5 L550,1948 L562.5,1946.2 L575,1941.2 L587.5,1933.8 L600,1928 L612.5,1924.5 L630,1923 L640,1923.2 L662.5,1927.5 L687.5,1932.5 L712.5,1937.5 L737.5,1941.8 L762.5,1942.5 L787.5,1943.8 L812.5,1945 L855,1946.2 L855,1953.5 L239,1953.5 Z" fill="#2b8a1e"/>
<path d="M239,1915 L270,1914 L287.5,1917.5 L310,1911 L350,1904 L380,1900 L402.5,1898.5 L405,1925 L407.5,1950 L410,1953 L550,1951.2 L570,1947.5 L587.5,1941.2 L607.5,1936.2 L625,1934.5 L640,1935 L675,1938.8 L700,1941.8 L725,1945 L750,1946.2 L800,1947.5 L855,1948.8 L855,1953.5 L239,1953.5 Z" fill="#15342a"/>
<path d="M239,1927.5 L270,1927.5 L287.5,1930 L310,1924 L350,1916 L380,1911 L402.5,1906 L405,1930 L407.5,1952.5 L410,1953 L550,1952 L570,1948.8 L587.5,1943.8 L607.5,1938.8 L632.5,1938.2 L650,1939.5 L687.5,1943 L725,1947 L775,1948.8 L855,1950.2 L855,1953.5 L239,1953.5 Z" fill="#f7931e"/>
<path d="M239,1931 L270,1931 L287.5,1934 L310,1929 L350,1921.5 L380,1916.5 L402.5,1912.5 L405,1935 L407.5,1952.5 L410,1953 L550,1952.5 L570,1950 L587.5,1945.2 L607.5,1940.5 L632.5,1940 L650,1941.2 L687.5,1944.5 L725,1948.2 L775,1950 L855,1951.2 L855,1953.5 L239,1953.5 Z" fill="#15342a"/>
<path d="M239,1936 L270,1936 L287.5,1938 L310,1933 L350,1926 L380,1921 L402.5,1918 L405,1940 L407.5,1953 L410,1953.5 L550,1953 L570,1951.5 L587.5,1947.5 L607.5,1943.8 L632.5,1943 L675,1945.8 L725,1949.5 L775,1951.2 L855,1952.2 L855,1953.5 L239,1953.5 Z" fill="#2b8a1e"/>
<path d="M230,1845 V1953.5" fill="none" stroke="#8a8a8a" stroke-width="1.5"/>
<path d="M239,1953.5 H855.5" fill="none" stroke="#8a8a8a" stroke-width="1.5"/>
<path d="M230,1850 H234" stroke="#8a8a8a" stroke-width="1.4"/>
<text x="225.6" y="1856.5" text-anchor="end" font-size="18.3">400</text>
<path d="M230,1901.5 H234" stroke="#8a8a8a" stroke-width="1.4"/>
<text x="225.6" y="1908" text-anchor="end" font-size="18.3">200</text>
<path d="M230,1953.5 H234" stroke="#8a8a8a" stroke-width="1.4"/>
<text x="225.6" y="1960" text-anchor="end" font-size="18.3">0</text>
<path d="M263.5,1953.5 V1957" stroke="#8a8a8a" stroke-width="1.4"/>
<text x="263.5" y="1977.1" text-anchor="middle" font-size="18.3">2</text>
<path d="M376,1953.5 V1957" stroke="#8a8a8a" stroke-width="1.4"/>
<text x="376" y="1977.1" text-anchor="middle" font-size="18.3">4</text>
<path d="M488.5,1953.5 V1957" stroke="#8a8a8a" stroke-width="1.4"/>
<text x="488.5" y="1977.1" text-anchor="middle" font-size="18.3">6</text>
<path d="M603,1953.5 V1957" stroke="#8a8a8a" stroke-width="1.4"/>
<text x="603" y="1977.1" text-anchor="middle" font-size="18.3">8</text>
<path d="M716,1953.5 V1957" stroke="#8a8a8a" stroke-width="1.4"/>
<text x="716" y="1977.1" text-anchor="middle" font-size="18.3">10</text>
<path d="M828.5,1953.5 V1957" stroke="#8a8a8a" stroke-width="1.4"/>
<text x="828.5" y="1977.1" text-anchor="middle" font-size="18.3">12</text>
<path d="M248.5,1845.3 V1907.5" stroke="#5669a8" stroke-width="1.6" stroke-dasharray="4.1,1.9"/>
<path d="M287.5,1845.3 V1910" stroke="#5669a8" stroke-width="1.6" stroke-dasharray="4.1,1.9"/>
<path d="M402,1845.3 V1862.5" stroke="#5669a8" stroke-width="1.6" stroke-dasharray="4.1,1.9"/>
<path d="M597.5,1845.3 V1930" stroke="#5669a8" stroke-width="1.6" stroke-dasharray="4.1,1.9"/>
<path d="M734,1845.3 V1940" stroke="#5669a8" stroke-width="1.6" stroke-dasharray="4.1,1.9"/>
<path d="M246.5,1821.7 L250.5,1821.7 L250.5,1833.3 L253.3,1833.3 L248.5,1841.7 L243.7,1833.3 L246.5,1833.3 Z" fill="#000"/>
<path d="M285.5,1821.7 L289.5,1821.7 L289.5,1833.3 L292.3,1833.3 L287.5,1841.7 L282.7,1833.3 L285.5,1833.3 Z" fill="#000"/>
<path d="M400,1821.7 L404,1821.7 L404,1833.3 L406.8,1833.3 L402,1841.7 L397.2,1833.3 L400,1833.3 Z" fill="#000"/>
<path d="M595.5,1821.7 L599.5,1821.7 L599.5,1833.3 L602.3,1833.3 L597.5,1841.7 L592.7,1833.3 L595.5,1833.3 Z" fill="#000"/>
<path d="M732,1821.7 L736,1821.7 L736,1833.3 L738.8,1833.3 L734,1841.7 L729.2,1833.3 L732,1833.3 Z" fill="#000"/>
<circle cx="239" cy="1907.5" r="1.95"/>
<circle cx="256" cy="1904" r="1.95"/>
<circle cx="270" cy="1906" r="1.95"/>
<circle cx="287.5" cy="1911" r="1.95"/>
<circle cx="305" cy="1900" r="1.95"/>
<circle cx="318.5" cy="1880" r="1.95"/>
<circle cx="328.5" cy="1899" r="1.95"/>
<circle cx="341" cy="1901.5" r="1.95"/>
<circle cx="354" cy="1850" r="1.95"/>
<circle cx="372.5" cy="1861" r="1.95"/>
<circle cx="387.5" cy="1875" r="1.95"/>
<circle cx="401.5" cy="1863.5" r="1.95"/>
<circle cx="404" cy="1877.5" r="1.95"/>
<circle cx="407.5" cy="1940" r="1.95"/>
<circle cx="412.5" cy="1952.5" r="1.95"/>
<circle cx="417.5" cy="1952.5" r="1.95"/>
<circle cx="422.5" cy="1953" r="1.95"/>
<circle cx="427.5" cy="1953.5" r="1.95"/>
<circle cx="440" cy="1953.5" r="1.95"/>
<circle cx="445" cy="1953" r="1.95"/>
<circle cx="457" cy="1952" r="1.95"/>
<circle cx="475" cy="1950" r="1.95"/>
<circle cx="489.2" cy="1950.5" r="1.95"/>
<circle cx="503.8" cy="1949.5" r="1.95"/>
<circle cx="521.2" cy="1948.5" r="1.95"/>
<circle cx="549.5" cy="1948" r="1.95"/>
<circle cx="577.5" cy="1941.2" r="1.95"/>
<circle cx="597.5" cy="1930" r="1.95"/>
<circle cx="607" cy="1925" r="1.95"/>
<circle cx="619.5" cy="1923.2" r="1.95"/>
<circle cx="635.5" cy="1923.8" r="1.95"/>
<circle cx="657.5" cy="1927.5" r="1.95"/>
<circle cx="678.2" cy="1926.5" r="1.95"/>
<circle cx="708.2" cy="1937.5" r="1.95"/>
<circle cx="734.2" cy="1940.2" r="1.95"/>
<circle cx="766.2" cy="1940.2" r="1.95"/>
<circle cx="794.5" cy="1945.5" r="1.95"/>
<circle cx="823.8" cy="1944.5" r="1.95"/>
<circle cx="855" cy="1905.2" r="1.95"/>
<text x="921.5" y="92.3" font-size="27" font-weight="bold">Pt. 11</text>
<text transform="translate(1053,90) rotate(-90)" text-anchor="middle" font-size="21">WBC x 109/L</text>
<path d="M1130,133.8 C1137.5,130.2 1162.1,118.8 1175,112.5 C1187.9,106.2 1196.2,101.2 1207.5,96.2 C1218.8,91.2 1234.2,86.2 1242.5,82.5 C1250.8,78.8 1250,76.7 1257.5,73.8 C1265,70.8 1276.2,67.4 1287.5,65 C1298.8,62.6 1317.9,60.3 1325,59.5 C1332.1,58.7 1328.5,62.4 1330,60 C1331.5,57.6 1332.3,49 1333.8,45 C1335.2,41 1337.3,36.6 1338.8,35.8 C1340.2,34.9 1341,36 1342.5,40 C1344,44 1345.8,52.9 1347.5,60 C1349.2,67.1 1350.8,75 1352.5,82.5 C1354.2,90 1355.8,97.5 1357.5,105 C1359.2,112.5 1360.8,122.9 1362.5,127.5 C1364.2,132.1 1365.4,131.3 1367.5,132.5 C1369.6,133.7 1372.5,134.9 1375,134.5 C1377.5,134.1 1380.6,131.7 1382.5,130 C1384.4,128.3 1385.2,127.3 1386.2,124.5 C1387.3,121.7 1388.1,114.2 1388.8,113 C1389.4,111.8 1389.7,112.1 1390,117 C1390.3,121.9 1390.6,138.2 1390.8,142.5 L1390.8,142.5 L1130,142.5 Z" fill="#2b8a1e"/>
<path d="M1130,135 C1137.5,132.1 1162.1,122.5 1175,117.5 C1187.9,112.5 1199.2,108.5 1207.5,105 C1215.8,101.5 1219.2,98.8 1225,96.2 C1230.8,93.8 1237.1,91.9 1242.5,90 C1247.9,88.1 1250,87.5 1257.5,85 C1265,82.5 1278.3,77.7 1287.5,75 C1296.7,72.3 1305.8,70.3 1312.5,68.8 C1319.2,67.2 1324,69 1327.5,65.5 C1331,62 1331.8,51.8 1333.8,47.5 C1335.7,43.2 1337.6,40.4 1339.2,40 C1340.9,39.6 1342.4,41.2 1343.8,45 C1345.1,48.8 1346,55.8 1347.5,62.5 C1349,69.2 1350.8,77.5 1352.5,85 C1354.2,92.5 1356,100.4 1357.5,107.5 C1359,114.6 1359.6,123.1 1361.2,127.5 C1362.9,131.9 1365.2,132.5 1367.5,133.8 C1369.8,135 1372.5,135.5 1375,135 C1377.5,134.5 1380.6,132.2 1382.5,130.5 C1384.4,128.8 1385.2,127.8 1386.2,125 C1387.3,122.2 1388.1,115 1388.8,113.8 C1389.4,112.5 1389.7,112.7 1390,117.5 C1390.3,122.3 1390.4,138.3 1390.5,142.5 L1390.5,142.5 L1130,142.5 Z" fill="#5ec5f0"/>
<path d="M1130,137 C1137.5,135.2 1159.2,130.1 1175,126.2 C1190.8,122.4 1212.5,116.9 1225,113.8 C1237.5,110.6 1241.7,109.4 1250,107.5 C1258.3,105.6 1264.6,103.8 1275,102.5 C1285.4,101.2 1303.8,100.6 1312.5,100 C1321.2,99.4 1324,100.8 1327.5,98.8 C1331,96.7 1331.9,90 1333.8,87.5 C1335.6,85 1337.3,83.8 1338.8,84 C1340.2,84.2 1341.2,86.1 1342.5,88.8 C1343.8,91.4 1345,96 1346.2,100 C1347.5,104 1348.5,108.3 1350,112.5 C1351.5,116.7 1353.3,121.7 1355,125 C1356.7,128.3 1358.3,130.8 1360,132.5 C1361.7,134.2 1362.5,134.4 1365,135 C1367.5,135.6 1371.7,137.1 1375,136.2 C1378.3,135.4 1382.7,131.9 1385,130 C1387.3,128.1 1387.8,122.9 1388.8,125 C1389.7,127.1 1390.2,139.6 1390.5,142.5 L1390.5,142.5 L1130,142.5 Z" fill="#f7931e"/>
<path d="M1130,137.8 C1137.5,136.1 1159.2,131.3 1175,127.8 C1190.8,124.2 1212.5,119 1225,116.2 C1237.5,113.5 1241.7,112.7 1250,111 C1258.3,109.3 1264.6,107.5 1275,106.2 C1285.4,105 1303.8,104.3 1312.5,103.8 C1321.2,103.2 1324,104.5 1327.5,103 C1331,101.5 1331.9,96.8 1333.8,95 C1335.6,93.2 1337.3,91.8 1338.8,92 C1340.2,92.2 1341.2,93.7 1342.5,96.2 C1343.8,98.8 1345,103.5 1346.2,107.5 C1347.5,111.5 1348.5,116.2 1350,120 C1351.5,123.8 1353.3,127.5 1355,130 C1356.7,132.5 1358.3,133.8 1360,135 C1361.7,136.2 1362.5,136.6 1365,137 C1367.5,137.4 1371.7,138.2 1375,137.5 C1378.3,136.8 1382.7,134.1 1385,132.5 C1387.3,130.9 1387.8,126.3 1388.8,128 C1389.7,129.7 1390.2,140.1 1390.5,142.5 L1390.5,142.5 L1130,142.5 Z" fill="#15342a"/>
<path d="M1130,138.5 C1137.5,137.1 1159.2,133.5 1175,130.2 C1190.8,127 1212.5,121.7 1225,119 C1237.5,116.3 1241.7,115.5 1250,114 C1258.3,112.5 1264.6,111.1 1275,110 C1285.4,108.9 1303.8,108.1 1312.5,107.5 C1321.2,106.9 1324,107.9 1327.5,106.5 C1331,105.1 1331.9,100.7 1333.8,99 C1335.6,97.3 1337.3,96.2 1338.8,96.5 C1340.2,96.8 1341.2,97.8 1342.5,100.5 C1343.8,103.2 1345,108.4 1346.2,112.5 C1347.5,116.6 1348.5,121.7 1350,125 C1351.5,128.3 1353.3,130.5 1355,132.5 C1356.7,134.5 1358.3,136 1360,137 C1361.7,138 1362.5,138 1365,138.2 C1367.5,138.5 1371.7,139.5 1375,138.8 C1378.3,138 1382.7,135.2 1385,133.8 C1387.3,132.3 1387.8,128.5 1388.8,130 C1389.7,131.5 1390.2,140.4 1390.5,142.5 L1390.5,142.5 L1130,142.5 Z" fill="#5ec5f0"/>
<path d="M1130,140 C1137.5,139 1159.2,135.3 1175,133.8 C1190.8,132.2 1212.5,131 1225,130.5 C1237.5,130 1241.7,130.4 1250,130.5 C1258.3,130.6 1264.6,130.7 1275,131.2 C1285.4,131.8 1302.1,132.8 1312.5,133.8 C1322.9,134.7 1331.2,135.7 1337.5,136.8 C1343.8,137.8 1347.1,139 1350,140 C1352.9,141 1354.2,142.1 1355,142.5 L1355,142.5 L1130,142.5 Z" fill="#2b8a1e"/>
<path d="M1445,142.5 C1445.8,142.3 1447.1,141.9 1450,141.2 C1452.9,140.6 1458.3,139.8 1462.5,138.8 C1466.7,137.7 1470.8,138.5 1475,135 C1479.2,131.5 1483.8,120.8 1487.5,117.5 C1491.2,114.2 1495.4,113.8 1497.5,115 C1499.6,116.2 1499,121.7 1500,125 C1501,128.3 1502.5,132.1 1503.8,135 C1505,137.9 1506.9,141.2 1507.5,142.5 L1507.5,142.5 L1445,142.5 Z" fill="#5ec5f0"/>
<path d="M1447.5,142.5 C1450,142.1 1457.9,141 1462.5,140 C1467.1,139 1470.8,137.6 1475,136.2 C1479.2,134.9 1483.8,133.5 1487.5,132 C1491.2,130.5 1495.2,127.4 1497.5,127.5 C1499.8,127.6 1500.2,130.6 1501.2,132.5 C1502.3,134.4 1502.9,137.1 1503.8,138.8 C1504.6,140.4 1505.8,141.9 1506.2,142.5 L1506.2,142.5 L1447.5,142.5 Z" fill="#f7931e"/>
<path d="M1450,142.5 C1452.1,142.2 1458.3,141.8 1462.5,141 C1466.7,140.2 1470.8,139.1 1475,138 C1479.2,136.9 1483.8,135.8 1487.5,134.5 C1491.2,133.2 1495.2,130.4 1497.5,130.5 C1499.8,130.6 1500,133 1501.2,135 C1502.5,137 1504.4,141.2 1505,142.5 L1505,142.5 L1450,142.5 Z" fill="#5ec5f0"/>
<path d="M1507.5,142 L1600,142 L1642.5,141.5 L1647.5,131 L1650,125 L1651.5,142.5 L1651.5,142.5 L1507.5,142.5 Z" fill="#5ec5f0"/>
<path d="M1644,142 L1647.5,136 L1650,134 L1651.5,142.5 L1651.5,142.5 L1644,142.5 Z" fill="#f7931e"/>
<path d="M1106.5,36 V142.5" fill="none" stroke="#8a8a8a" stroke-width="1.5"/>
<path d="M1130,142.5 H1651.5" fill="none" stroke="#8a8a8a" stroke-width="1.5"/>
<path d="M1106.5,36 H1110.5" stroke="#8a8a8a" stroke-width="1.4"/>
<text x="1102.1" y="42.5" text-anchor="end" font-size="18.3">300</text>
<path d="M1106.5,71.5 H1110.5" stroke="#8a8a8a" stroke-width="1.4"/>
<text x="1102.1" y="78" text-anchor="end" font-size="18.3">200</text>
<path d="M1106.5,107 H1110.5" stroke="#8a8a8a" stroke-width="1.4"/>
<text x="1102.1" y="113.5" text-anchor="end" font-size="18.3">100</text>
<path d="M1106.5,142.5 H1110.5" stroke="#8a8a8a" stroke-width="1.4"/>
<text x="1102.1" y="149" text-anchor="end" font-size="18.3">0</text>
<path d="M1226.5,142.5 V146" stroke="#8a8a8a" stroke-width="1.4"/>
<text x="1226.5" y="166.1" text-anchor="middle" font-size="18.3">2</text>
<path d="M1339.5,142.5 V146" stroke="#8a8a8a" stroke-width="1.4"/>
<text x="1339.5" y="166.1" text-anchor="middle" font-size="18.3">4</text>
<path d="M1453,142.5 V146" stroke="#8a8a8a" stroke-width="1.4"/>
<text x="1453" y="166.1" text-anchor="middle" font-size="18.3">6</text>
<path d="M1567,142.5 V146" stroke="#8a8a8a" stroke-width="1.4"/>
<text x="1567" y="166.1" text-anchor="middle" font-size="18.3">8</text>
<path d="M1209,27.8 V90" stroke="#5669a8" stroke-width="1.6" stroke-dasharray="4.1,1.9"/>
<path d="M1242.5,27.8 V82.5" stroke="#5669a8" stroke-width="1.6" stroke-dasharray="4.1,1.9"/>
<path d="M1327.5,27.8 V59" stroke="#5669a8" stroke-width="1.6" stroke-dasharray="4.1,1.9"/>
<path d="M1365.5,27.8 V112.5" stroke="#5669a8" stroke-width="1.6" stroke-dasharray="4.1,1.9"/>
<path d="M1480,27.8 V120" stroke="#5669a8" stroke-width="1.6" stroke-dasharray="4.1,1.9"/>
<path d="M1207,4.2 L1211,4.2 L1211,15.8 L1213.8,15.8 L1209,24.2 L1204.2,15.8 L1207,15.8 Z" fill="#000"/>
<path d="M1240.5,4.2 L1244.5,4.2 L1244.5,15.8 L1247.3,15.8 L1242.5,24.2 L1237.7,15.8 L1240.5,15.8 Z" fill="#000"/>
<path d="M1325.5,4.2 L1329.5,4.2 L1329.5,15.8 L1332.3,15.8 L1327.5,24.2 L1322.7,15.8 L1325.5,15.8 Z" fill="#000"/>
<path d="M1363.5,4.2 L1367.5,4.2 L1367.5,15.8 L1370.3,15.8 L1365.5,24.2 L1360.7,15.8 L1363.5,15.8 Z" fill="#000"/>
<path d="M1478,4.2 L1482,4.2 L1482,15.8 L1484.8,15.8 L1480,24.2 L1475.2,15.8 L1478,15.8 Z" fill="#000"/>
<circle cx="1130" cy="133.8" r="1.95"/>
<circle cx="1141.2" cy="130.5" r="1.95"/>
<circle cx="1166.2" cy="119.5" r="1.95"/>
<circle cx="1178" cy="118" r="1.95"/>
<circle cx="1191.2" cy="114.5" r="1.95"/>
<circle cx="1205" cy="99.5" r="1.95"/>
<circle cx="1209.2" cy="96.2" r="1.95"/>
<circle cx="1214.5" cy="93" r="1.95"/>
<circle cx="1228.8" cy="93.8" r="1.95"/>
<circle cx="1242.5" cy="82.5" r="1.95"/>
<circle cx="1257.5" cy="73.2" r="1.95"/>
<circle cx="1271.5" cy="69.5" r="1.95"/>
<circle cx="1285" cy="62.5" r="1.95"/>
<circle cx="1304.2" cy="58.8" r="1.95"/>
<circle cx="1319.5" cy="62.5" r="1.95"/>
<circle cx="1323.2" cy="58" r="1.95"/>
<circle cx="1326.2" cy="58" r="1.95"/>
<circle cx="1328.8" cy="58" r="1.95"/>
<circle cx="1340.8" cy="39.5" r="1.95"/>
<circle cx="1343.8" cy="46.2" r="1.95"/>
<circle cx="1346.2" cy="59.2" r="1.95"/>
<circle cx="1348" cy="74.2" r="1.95"/>
<circle cx="1350" cy="73" r="1.95"/>
<circle cx="1348.2" cy="78.8" r="1.95"/>
<circle cx="1351.2" cy="87.5" r="1.95"/>
<circle cx="1352.5" cy="100" r="1.95"/>
<circle cx="1354.5" cy="102" r="1.95"/>
<circle cx="1347" cy="95" r="1.95"/>
<circle cx="1361.2" cy="108.8" r="1.95"/>
<circle cx="1356.2" cy="115" r="1.95"/>
<circle cx="1358.8" cy="120" r="1.95"/>
<circle cx="1360" cy="125" r="1.95"/>
<circle cx="1362.5" cy="130" r="1.95"/>
<circle cx="1366.2" cy="117" r="1.95"/>
<circle cx="1367.5" cy="122.5" r="1.95"/>
<circle cx="1362" cy="127.5" r="1.95"/>
<circle cx="1365" cy="132.5" r="1.95"/>
<circle cx="1368.8" cy="130" r="1.95"/>
<circle cx="1371.2" cy="136.2" r="1.95"/>
<circle cx="1373.8" cy="138.8" r="1.95"/>
<circle cx="1376.2" cy="131.2" r="1.95"/>
<circle cx="1377.5" cy="135" r="1.95"/>
<circle cx="1380" cy="128.8" r="1.95"/>
<circle cx="1382.5" cy="127.5" r="1.95"/>
<circle cx="1385" cy="123.8" r="1.95"/>
<circle cx="1387.5" cy="110" r="1.95"/>
<circle cx="1388.8" cy="112.5" r="1.95"/>
<circle cx="1390" cy="119.5" r="1.95"/>
<circle cx="1391.2" cy="141.2" r="1.95"/>
<circle cx="1393.8" cy="142" r="1.95"/>
<circle cx="1395" cy="141.2" r="1.95"/>
<circle cx="1397.8" cy="141.8" r="1.95"/>
<circle cx="1400.5" cy="142.2" r="1.95"/>
<circle cx="1403.2" cy="141.5" r="1.95"/>
<circle cx="1406" cy="142" r="1.95"/>
<circle cx="1408.8" cy="141.2" r="1.95"/>
<circle cx="1411.5" cy="141.8" r="1.95"/>
<circle cx="1414.2" cy="142.2" r="1.95"/>
<circle cx="1417" cy="141.5" r="1.95"/>
<circle cx="1419.8" cy="142" r="1.95"/>
<circle cx="1422.5" cy="141.2" r="1.95"/>
<circle cx="1425.2" cy="141.8" r="1.95"/>
<circle cx="1428" cy="142.2" r="1.95"/>
<circle cx="1430.8" cy="141.5" r="1.95"/>
<circle cx="1433.5" cy="142" r="1.95"/>
<circle cx="1436.2" cy="141.2" r="1.95"/>
<circle cx="1439" cy="141.8" r="1.95"/>
<circle cx="1441.8" cy="142.2" r="1.95"/>
<circle cx="1444.5" cy="141.5" r="1.95"/>
<circle cx="1447.2" cy="142" r="1.95"/>
<circle cx="1450" cy="138.8" r="1.95"/>
<circle cx="1455" cy="137" r="1.95"/>
<circle cx="1460" cy="135" r="1.95"/>
<circle cx="1467.5" cy="131.2" r="1.95"/>
<circle cx="1472.5" cy="130" r="1.95"/>
<circle cx="1475" cy="123.8" r="1.95"/>
<circle cx="1477.5" cy="126.2" r="1.95"/>
<circle cx="1480" cy="120" r="1.95"/>
<circle cx="1482.5" cy="122.5" r="1.95"/>
<circle cx="1485" cy="117.5" r="1.95"/>
<circle cx="1487.5" cy="120.5" r="1.95"/>
<circle cx="1490" cy="115" r="1.95"/>
<circle cx="1493.8" cy="107.5" r="1.95"/>
<circle cx="1497.5" cy="107" r="1.95"/>
<circle cx="1499.5" cy="93" r="1.95"/>
<circle cx="1502.5" cy="137" r="1.95"/>
<circle cx="1505" cy="138.8" r="1.95"/>
<circle cx="1510" cy="142" r="1.95"/>
<circle cx="1512.5" cy="142.5" r="1.95"/>
<circle cx="1518" cy="141.5" r="1.95"/>
<circle cx="1523.5" cy="142" r="1.95"/>
<circle cx="1529" cy="142.5" r="1.95"/>
<circle cx="1534.5" cy="141.5" r="1.95"/>
<circle cx="1540" cy="142" r="1.95"/>
<circle cx="1545.5" cy="142.5" r="1.95"/>
<circle cx="1551" cy="141.5" r="1.95"/>
<circle cx="1556.5" cy="142" r="1.95"/>
<circle cx="1562" cy="142.5" r="1.95"/>
<circle cx="1567.5" cy="141.5" r="1.95"/>
<circle cx="1573" cy="142" r="1.95"/>
<circle cx="1578.5" cy="142.5" r="1.95"/>
<circle cx="1584" cy="141.5" r="1.95"/>
<circle cx="1589.5" cy="142" r="1.95"/>
<circle cx="1595" cy="142.5" r="1.95"/>
<circle cx="1600.5" cy="141.5" r="1.95"/>
<circle cx="1606" cy="142" r="1.95"/>
<circle cx="1611.5" cy="142.5" r="1.95"/>
<circle cx="1617" cy="141.5" r="1.95"/>
<circle cx="1622.5" cy="142" r="1.95"/>
<circle cx="1628" cy="142.5" r="1.95"/>
<circle cx="1633.5" cy="141.5" r="1.95"/>
<circle cx="1639" cy="142" r="1.95"/>
<circle cx="1644.5" cy="142.5" r="1.95"/>
<circle cx="1648.5" cy="123.5" r="1.95"/>
<circle cx="1650" cy="127.5" r="1.95"/>
<circle cx="1650" cy="135" r="1.95"/>
<text x="921.5" y="271.3" font-size="27" font-weight="bold">Pt. 12</text>
<text transform="translate(1053,267.5) rotate(-90)" text-anchor="middle" font-size="21">WBC x 109/L</text>
<path d="M1129.5,291.2 C1133.5,289.4 1149,282.8 1153.7,279.9 C1158.4,277 1155.9,278.6 1157.5,273.9 C1159.1,269.1 1161.7,256 1163.5,251.2 C1165.3,246.3 1166.8,245.7 1168.1,245.1 C1169.4,244.4 1170.1,245.1 1171.2,247.3 C1172.2,249.6 1172.9,252.3 1174.2,258.7 C1175.4,265.1 1177.2,276.4 1178.7,285.9 C1180.2,295.5 1182,309.3 1183.2,316.2 C1184.5,323.1 1185,325.4 1186.2,327.5 C1187.5,329.6 1186.8,328.6 1190.8,328.8 C1194.8,328.9 1200.1,328.7 1210,328.5 C1219.9,328.3 1235,327.9 1250,327.8 C1265,327.6 1285.8,327.6 1300,327.5 C1314.2,327.4 1329.2,327.3 1335,327.2 L1335,329.5 L1129.5,329.5 Z" fill="#2b8a1e"/>
<path d="M1129.5,308.6 C1133.5,307.5 1148.5,305.1 1153.7,301.8 C1158.9,298.5 1158.1,292.6 1160.5,288.9 C1162.9,285.3 1166.1,281 1168.1,280.2 C1170.1,279.4 1171.1,280.9 1172.7,284.4 C1174.2,287.9 1175.7,295 1177.2,301.1 C1178.7,307.1 1180.3,316.1 1181.7,320.8 C1183.1,325.4 1184.6,327.5 1185.5,329 C1186.4,330.5 1186.8,329.4 1187,329.5 L1187,329.5 L1129.5,329.5 Z" fill="#15342a"/>
<path d="M1129.5,312 C1133.5,311.3 1148.5,309.9 1153.7,307.9 C1158.9,305.8 1158.1,301.7 1160.5,299.6 C1162.9,297.4 1166.1,294.9 1168.1,294.7 C1170.1,294.4 1171.1,295.5 1172.7,298.1 C1174.2,300.6 1175.7,305.9 1177.2,310.1 C1178.7,314.4 1180.3,320.5 1181.7,323.8 C1183.1,327 1184.6,328.5 1185.5,329.5 C1186.4,330.5 1186.8,329.5 1187,329.5 L1187,329.5 L1129.5,329.5 Z" fill="#2b8a1e"/>
<path d="M1106.5,222.5 V329.5" fill="none" stroke="#8a8a8a" stroke-width="1.5"/>
<path d="M1129.5,329.5 H1335" fill="none" stroke="#8a8a8a" stroke-width="1.5"/>
<path d="M1106.5,236 H1110.5" stroke="#8a8a8a" stroke-width="1.4"/>
<text x="1102.1" y="242.5" text-anchor="end" font-size="18.3">120</text>
<path d="M1106.5,267 H1110.5" stroke="#8a8a8a" stroke-width="1.4"/>
<text x="1102.1" y="273.5" text-anchor="end" font-size="18.3">80</text>
<path d="M1106.5,298.5 H1110.5" stroke="#8a8a8a" stroke-width="1.4"/>
<text x="1102.1" y="305" text-anchor="end" font-size="18.3">40</text>
<path d="M1106.5,329.5 H1110.5" stroke="#8a8a8a" stroke-width="1.4"/>
<text x="1102.1" y="336" text-anchor="end" font-size="18.3">0</text>
<path d="M1180,329.5 V333" stroke="#8a8a8a" stroke-width="1.4"/>
<text x="1180" y="353.1" text-anchor="middle" font-size="18.3">2</text>
<path d="M1293,329.5 V333" stroke="#8a8a8a" stroke-width="1.4"/>
<text x="1293" y="353.1" text-anchor="middle" font-size="18.3">4</text>
<path d="M1130,206.3 V282.5" stroke="#5669a8" stroke-width="1.6" stroke-dasharray="4.1,1.9"/>
<path d="M1172.5,206.3 V245" stroke="#5669a8" stroke-width="1.6" stroke-dasharray="4.1,1.9"/>
<path d="M1128,182.7 L1132,182.7 L1132,194.3 L1134.8,194.3 L1130,202.7 L1125.2,194.3 L1128,194.3 Z" fill="#000"/>
<path d="M1170.5,182.7 L1174.5,182.7 L1174.5,194.3 L1177.3,194.3 L1172.5,202.7 L1167.7,194.3 L1170.5,194.3 Z" fill="#000"/>
<circle cx="1129" cy="283.5" r="1.1"/>
<circle cx="1133.5" cy="275.5" r="1.1"/>
<circle cx="1153.5" cy="272" r="1.1"/>
<circle cx="1171.5" cy="236" r="1.1"/>
<circle cx="1186.5" cy="327.5" r="1.1"/>
<circle cx="1200" cy="327.5" r="1.1"/>
<circle cx="1216.5" cy="327.5" r="1.1"/>
<circle cx="1235" cy="327.5" r="1.1"/>
<circle cx="1256" cy="326" r="1.1"/>
<circle cx="1277.5" cy="326" r="1.1"/>
<circle cx="1298.5" cy="327" r="1.1"/>
<circle cx="1327.5" cy="327" r="1.1"/>
<text x="921.5" y="438.8" font-size="27" font-weight="bold">Pt. 13</text>
<text transform="translate(1053,433) rotate(-90)" text-anchor="middle" font-size="21">WBC x 109/L</text>
<path d="M1129,485 C1136.7,484.2 1159,481.7 1175,480 C1191,478.3 1208.3,477.5 1225,475 C1241.7,472.5 1262.5,467.8 1275,465 C1287.5,462.2 1293.3,461.4 1300,458.5 C1306.7,455.6 1310,453.9 1315,447.5 C1320,441.1 1325.8,427.9 1330,420 C1334.2,412.1 1336.7,404.6 1340,400 C1343.3,395.4 1347.5,393.6 1350,392.5 C1352.5,391.4 1353.5,390.6 1355,393.5 C1356.5,396.4 1357.8,400.6 1359,410 C1360.2,419.4 1361.1,437.9 1362.5,450 C1363.9,462.1 1365.8,475.8 1367.5,482.5 C1369.2,489.2 1370.4,488.4 1372.5,490 C1374.6,491.6 1378.8,491.7 1380,492 L1380,493.5 L1129,493.5 Z" fill="#2b8a1e"/>
<path d="M1129,486.5 C1136.7,485.8 1159,484 1175,482.5 C1191,481 1208.3,479.8 1225,477.5 C1241.7,475.2 1262.5,471 1275,468.5 C1287.5,466 1293.3,465.2 1300,462.5 C1306.7,459.8 1310,458.3 1315,452.5 C1320,446.7 1325.8,434.6 1330,427.5 C1334.2,420.4 1336.7,414.2 1340,410 C1343.3,405.8 1347.5,403.3 1350,402.5 C1352.5,401.7 1353.5,402.1 1355,405 C1356.5,407.9 1357.8,411.7 1359,420 C1360.2,428.3 1361.1,444.3 1362.5,455 C1363.9,465.7 1365.8,478 1367.5,484 C1369.2,490 1371.7,489.8 1372.5,491 L1372.5,493.5 L1129,493.5 Z" fill="#f7931e"/>
<path d="M1129,489 C1136.7,488.5 1159,487.2 1175,486 C1191,484.8 1208.3,483.6 1225,481.5 C1241.7,479.4 1262.5,475.8 1275,473.5 C1287.5,471.2 1293.3,469.9 1300,467.5 C1306.7,465.1 1310,464.4 1315,459 C1320,453.6 1325.8,441.5 1330,435 C1334.2,428.5 1336.7,423.8 1340,420 C1343.3,416.2 1347.5,413.3 1350,412.5 C1352.5,411.7 1353.5,412.1 1355,415 C1356.5,417.9 1357.8,422.5 1359,430 C1360.2,437.5 1361.1,450.8 1362.5,460 C1363.9,469.2 1365.8,479.8 1367.5,485 C1369.2,490.2 1371.7,490.4 1372.5,491.5 L1372.5,493.5 L1129,493.5 Z" fill="#15342a"/>
<path d="M1129,490 C1136.7,489.7 1159,488.8 1175,488 C1191,487.2 1208.3,486.5 1225,485 C1241.7,483.5 1262.5,480.7 1275,479 C1287.5,477.3 1293.3,476.5 1300,475 C1306.7,473.5 1310,473.8 1315,470 C1320,466.2 1325.8,457.1 1330,452.5 C1334.2,447.9 1336.7,445 1340,442.5 C1343.3,440 1347.5,437.9 1350,437.5 C1352.5,437.1 1353.5,437.9 1355,440 C1356.5,442.1 1357.8,445 1359,450 C1360.2,455 1361.1,463.8 1362.5,470 C1363.9,476.2 1365.8,483.8 1367.5,487.5 C1369.2,491.2 1371.7,491.7 1372.5,492.5 L1372.5,493.5 L1129,493.5 Z" fill="#9c1a1f"/>
<path d="M1129,491.5 C1140.8,491.2 1175.7,490.9 1200,490 C1224.3,489.1 1258.3,487 1275,486 C1291.7,485 1293.3,484.8 1300,484 C1306.7,483.2 1310,482.9 1315,481 C1320,479.1 1325.8,475.2 1330,472.5 C1334.2,469.8 1336.7,467.1 1340,465 C1343.3,462.9 1347.5,460.4 1350,460 C1352.5,459.6 1353.5,460.8 1355,462.5 C1356.5,464.2 1357.8,467.1 1359,470 C1360.2,472.9 1361.1,476.7 1362.5,480 C1363.9,483.3 1365.8,487.8 1367.5,490 C1369.2,492.2 1371.7,492.5 1372.5,493 L1372.5,493.5 L1129,493.5 Z" fill="#15342a"/>
<path d="M1129,493 C1157.5,492.8 1266.5,492.7 1300,492 C1333.5,491.3 1323.3,490 1330,489 C1336.7,488 1336.2,486.7 1340,486 C1343.8,485.3 1349.2,484.8 1352.5,485 C1355.8,485.2 1357.5,486.2 1360,487.5 C1362.5,488.8 1365.4,491.5 1367.5,492.5 C1369.6,493.5 1371.7,493.3 1372.5,493.5 L1372.5,493.5 L1129,493.5 Z" fill="#2b8a1e"/>
<path d="M1366,487.5 C1367.5,487.8 1371.4,489.1 1375,489 C1378.6,488.9 1383.3,488.5 1387.5,487 C1391.7,485.5 1395.8,482.7 1400,480 C1404.2,477.3 1409.2,473.9 1412.5,471 C1415.8,468.1 1415.8,465.6 1420,462.5 C1424.2,459.4 1432.5,455.7 1437.5,452.5 C1442.5,449.3 1445.4,446 1450,443.5 C1454.6,441 1460.8,437.7 1465,437.5 C1469.2,437.3 1470.8,438.8 1475,442.5 C1479.2,446.2 1485,454.2 1490,460 C1495,465.8 1500.2,472.9 1505,477.5 C1509.8,482.1 1514,487.1 1519,487.5 C1524,487.9 1529.8,482.9 1535,480 C1540.2,477.1 1545,472.9 1550,470 C1555,467.1 1560.4,464.3 1565,462.5 C1569.6,460.7 1574.6,459.4 1577.5,459 C1580.4,458.6 1580.4,457.8 1582.5,460 C1584.6,462.2 1587.9,468.3 1590,472.5 C1592.1,476.7 1593.3,481.8 1595,485 C1596.7,488.2 1599.2,490.8 1600,492 L1600,493.5 L1366,493.5 Z" fill="#2b8a1e"/>
<path d="M1372.5,492 C1375,491.5 1382.9,490.6 1387.5,489 C1392.1,487.4 1395.8,485 1400,482.5 C1404.2,480 1409.2,476.8 1412.5,474 C1415.8,471.2 1415.8,469 1420,466 C1424.2,463 1432.5,459.2 1437.5,456 C1442.5,452.8 1445.4,449.5 1450,447 C1454.6,444.5 1460.8,441.2 1465,441 C1469.2,440.8 1470.8,442.4 1475,446 C1479.2,449.6 1485,457 1490,462.5 C1495,468 1500.2,474.6 1505,479 C1509.8,483.4 1514,488.6 1519,489 C1524,489.4 1529.8,484.2 1535,481.5 C1540.2,478.8 1545,475.2 1550,472.5 C1555,469.8 1560.4,466.8 1565,465 C1569.6,463.2 1574.6,461.9 1577.5,461.5 C1580.4,461.1 1580.4,460.2 1582.5,462.5 C1584.6,464.8 1587.9,471.1 1590,475 C1592.1,478.9 1593.5,483.1 1595,486 C1596.5,488.9 1598.3,491.4 1599,492.5 L1599,493.5 L1372.5,493.5 Z" fill="#5b6cf0"/>
<path d="M1405,492 C1407.5,489.2 1414.6,479.1 1420,475 C1425.4,470.9 1432.5,470 1437.5,467.5 C1442.5,465 1445.4,462.1 1450,460 C1454.6,457.9 1460.8,455.4 1465,455 C1469.2,454.6 1470.8,455 1475,457.5 C1479.2,460 1485,465.8 1490,470 C1495,474.2 1500.2,479.2 1505,482.5 C1509.8,485.8 1514,489.4 1519,490 C1524,490.6 1529.8,487.8 1535,486 C1540.2,484.2 1545,481 1550,479 C1555,477 1560.4,475.2 1565,474 C1569.6,472.8 1573.8,470.9 1577.5,471.5 C1581.2,472.1 1584.6,474.8 1587.5,477.5 C1590.4,480.2 1593.2,485 1595,487.5 C1596.8,490 1597.5,491.7 1598,492.5 L1598,493.5 L1405,493.5 Z" fill="#72e6d6"/>
<path d="M1406,492.5 C1408.3,489.8 1414.8,479.8 1420,476 C1425.2,472.2 1432.5,471.8 1437.5,470 C1442.5,468.2 1445.4,466.5 1450,465 C1454.6,463.5 1460.8,461.2 1465,461 C1469.2,460.8 1470.8,461.7 1475,464 C1479.2,466.3 1485,471.7 1490,475 C1495,478.3 1500.2,481.4 1505,484 C1509.8,486.6 1514,489.9 1519,490.5 C1524,491.1 1529.8,489.1 1535,487.5 C1540.2,485.9 1545,482.8 1550,481 C1555,479.2 1560.4,477.5 1565,476.5 C1569.6,475.5 1573.8,474.4 1577.5,475 C1581.2,475.6 1584.6,477.8 1587.5,480 C1590.4,482.2 1593.3,486.3 1595,488.5 C1596.7,490.7 1597.1,492.2 1597.5,493 L1597.5,493.5 L1406,493.5 Z" fill="#5b6cf0"/>
<path d="M1367.5,491 C1369.6,491.2 1375.4,492 1380,492 C1384.6,492 1390.4,492.3 1395,491 C1399.6,489.7 1403.3,486.8 1407.5,484 C1411.7,481.2 1415,476.2 1420,474 C1425,471.8 1432.5,471.2 1437.5,470.5 C1442.5,469.8 1445.4,469.6 1450,469.5 C1454.6,469.4 1460.8,469.5 1465,470 C1469.2,470.5 1470.8,470.8 1475,472.5 C1479.2,474.2 1485,477.8 1490,480 C1495,482.2 1500.2,484.1 1505,486 C1509.8,487.9 1512.3,491.2 1519,491.5 C1525.7,491.8 1537.3,488.8 1545,487.5 C1552.7,486.2 1559.6,484.7 1565,484 C1570.4,483.3 1573.8,483.2 1577.5,483.5 C1581.2,483.8 1584.6,484.8 1587.5,486 C1590.4,487.2 1593.5,489.8 1595,491 C1596.5,492.2 1596.2,492.7 1596.5,493 L1596.5,493.5 L1367.5,493.5 Z" fill="#9c1a1f"/>
<path d="M1370,492.5 C1374.2,492.5 1388.8,493.3 1395,492.5 C1401.2,491.7 1403.3,489.6 1407.5,487.5 C1411.7,485.4 1415,481.3 1420,480 C1425,478.7 1432.5,479.6 1437.5,479.5 C1442.5,479.4 1443.8,479.2 1450,479.5 C1456.2,479.8 1465.8,479.6 1475,481 C1484.2,482.4 1497.7,486.1 1505,488 C1512.3,489.9 1511.5,492.2 1519,492.5 C1526.5,492.8 1540.2,490.8 1550,490 C1559.8,489.2 1570,487.7 1577.5,488 C1585,488.3 1592.1,491.3 1595,492 L1595,493.5 L1370,493.5 Z" fill="#15342a"/>
<path d="M1400,493 C1401.7,492.4 1406.7,491.4 1410,489.5 C1413.3,487.6 1415.4,482.8 1420,481.5 C1424.6,480.2 1432.5,481.4 1437.5,481.5 C1442.5,481.6 1443.8,481.4 1450,482 C1456.2,482.6 1465.8,483.8 1475,485 C1484.2,486.2 1497.7,488.2 1505,489.5 C1512.3,490.8 1511.5,492.7 1519,493 C1526.5,493.3 1540.2,492 1550,491.5 C1559.8,491 1570,489.8 1577.5,490 C1585,490.2 1592.1,492.1 1595,492.5 L1595,493.5 L1400,493.5 Z" fill="#5b6cf0"/>
<path d="M1400,493 C1408.3,492.6 1433.3,490.8 1450,490.5 C1466.7,490.2 1488.5,491.1 1500,491.5 C1511.5,491.9 1510.7,492.9 1519,493 C1527.3,493.1 1537.3,492 1550,492 C1562.7,492 1587.5,492.8 1595,493 L1595,493.5 L1400,493.5 Z" fill="#2b8a1e"/>
<path d="M1599,493 L1625,492 L1651.5,491 L1651.5,493.5 L1599,493.5 Z" fill="#5ec5f0"/>
<path d="M1106.5,382.5 V493.5" fill="none" stroke="#8a8a8a" stroke-width="1.5"/>
<path d="M1129,493.5 H1651.5" fill="none" stroke="#8a8a8a" stroke-width="1.5"/>
<path d="M1106.5,388 H1110.5" stroke="#8a8a8a" stroke-width="1.4"/>
<text x="1102.1" y="394.5" text-anchor="end" font-size="18.3">300</text>
<path d="M1106.5,423.5 H1110.5" stroke="#8a8a8a" stroke-width="1.4"/>
<text x="1102.1" y="430" text-anchor="end" font-size="18.3">200</text>
<path d="M1106.5,458 H1110.5" stroke="#8a8a8a" stroke-width="1.4"/>
<text x="1102.1" y="464.5" text-anchor="end" font-size="18.3">100</text>
<path d="M1106.5,493.5 H1110.5" stroke="#8a8a8a" stroke-width="1.4"/>
<text x="1102.1" y="500" text-anchor="end" font-size="18.3">0</text>
<path d="M1232,493.5 V497" stroke="#8a8a8a" stroke-width="1.4"/>
<text x="1232" y="517.1" text-anchor="middle" font-size="18.3">2</text>
<path d="M1344.5,493.5 V497" stroke="#8a8a8a" stroke-width="1.4"/>
<text x="1344.5" y="517.1" text-anchor="middle" font-size="18.3">4</text>
<path d="M1457,493.5 V497" stroke="#8a8a8a" stroke-width="1.4"/>
<text x="1457" y="517.1" text-anchor="middle" font-size="18.3">6</text>
<path d="M1569,493.5 V497" stroke="#8a8a8a" stroke-width="1.4"/>
<text x="1569" y="517.1" text-anchor="middle" font-size="18.3">8</text>
<path d="M1129,397.8 V485" stroke="#5669a8" stroke-width="1.6" stroke-dasharray="4.1,1.9"/>
<path d="M1299.5,397.8 V459" stroke="#5669a8" stroke-width="1.6" stroke-dasharray="4.1,1.9"/>
<path d="M1519,397.8 V487.5" stroke="#5669a8" stroke-width="1.6" stroke-dasharray="4.1,1.9"/>
<path d="M1581,397.8 V459" stroke="#5669a8" stroke-width="1.6" stroke-dasharray="4.1,1.9"/>
<path d="M1127,374.2 L1131,374.2 L1131,385.8 L1133.8,385.8 L1129,394.2 L1124.2,385.8 L1127,385.8 Z" fill="#000"/>
<path d="M1297.5,374.2 L1301.5,374.2 L1301.5,385.8 L1304.3,385.8 L1299.5,394.2 L1294.7,385.8 L1297.5,385.8 Z" fill="#000"/>
<path d="M1517,374.2 L1521,374.2 L1521,385.8 L1523.8,385.8 L1519,394.2 L1514.2,385.8 L1517,385.8 Z" fill="#000"/>
<path d="M1579,374.2 L1583,374.2 L1583,385.8 L1585.8,385.8 L1581,394.2 L1576.2,385.8 L1579,385.8 Z" fill="#000"/>
<circle cx="1129" cy="485" r="1.95"/>
<circle cx="1242.5" cy="476.5" r="1.95"/>
<circle cx="1299" cy="459.5" r="1.95"/>
<circle cx="1354" cy="390" r="1.95"/>
<circle cx="1355" cy="393.5" r="1.95"/>
<circle cx="1367.5" cy="486" r="1.95"/>
<circle cx="1387.5" cy="486" r="1.95"/>
<circle cx="1412.5" cy="471" r="1.95"/>
<circle cx="1431.5" cy="451.5" r="1.95"/>
<circle cx="1452" cy="449" r="1.95"/>
<circle cx="1460" cy="434" r="1.95"/>
<circle cx="1519" cy="487" r="1.95"/>
<circle cx="1548.5" cy="472.5" r="1.95"/>
<circle cx="1580" cy="459" r="1.95"/>
<circle cx="1594" cy="488.5" r="1.95"/>
<circle cx="1600" cy="490.5" r="1.95"/>
<circle cx="1646" cy="490.5" r="1.95"/>
<text x="921.5" y="620.8" font-size="27" font-weight="bold">Pt. 14</text>
<text transform="translate(1053,614.5) rotate(-90)" text-anchor="middle" font-size="21">WBC x 109/L</text>
<path d="M1130,670 C1141.7,669.2 1180,666.7 1200,665 C1220,663.3 1230.9,662.1 1250,660 C1269.1,657.9 1301.2,655.2 1314.5,652.5 C1327.8,649.8 1324.1,648.2 1330,644 C1335.9,639.8 1342.5,634.4 1350,627.5 C1357.5,620.6 1367.5,610 1375,602.5 C1382.5,595 1390.8,586.9 1395,582.5 C1399.2,578.1 1398.3,576 1400,576 C1401.7,576 1403.3,577.7 1405,582.5 C1406.7,587.3 1407.9,595.4 1410,605 C1412.1,614.6 1415,630 1417.5,640 C1420,650 1422.5,659.8 1425,665 C1427.5,670.2 1428.3,670 1432.5,671 C1436.7,672 1442.9,672.2 1450,671 C1457.1,669.8 1467.6,666.4 1475,664 C1482.4,661.6 1489.5,656.8 1494.5,656.5 C1499.5,656.2 1501.8,661.1 1505,662.5 C1508.2,663.9 1512.5,664.6 1514,665 L1514,675 L1130,675 Z" fill="#2b8a1e"/>
<path d="M1130,672.5 C1141.7,671.9 1180,670.1 1200,669 C1220,667.9 1230.9,667.2 1250,666 C1269.1,664.8 1301.2,663.3 1314.5,661.5 C1327.8,659.7 1324.1,657.8 1330,655 C1335.9,652.2 1342.5,649.2 1350,645 C1357.5,640.8 1367.5,634.2 1375,630 C1382.5,625.8 1390.6,622.7 1395,620 C1399.4,617.3 1399.8,614.2 1401.5,614 C1403.2,613.8 1403.2,614.7 1405,619 C1406.8,623.3 1410,633.2 1412.5,640 C1415,646.8 1417.5,654.8 1420,660 C1422.5,665.2 1425.4,668.8 1427.5,671 C1429.6,673.2 1428.8,672.7 1432.5,673 C1436.2,673.3 1442.9,673.3 1450,673 C1457.1,672.7 1467.6,672.1 1475,671 C1482.4,669.9 1489.5,666.8 1494.5,666.5 C1499.5,666.2 1501.8,668.2 1505,669 C1508.2,669.8 1512.5,670.7 1514,671 L1514,675 L1130,675 Z" fill="#5ec5f0"/>
<path d="M1130,674 C1141.7,673.8 1180,673.1 1200,672.5 C1220,671.9 1230.9,671.4 1250,670.5 C1269.1,669.6 1301.2,668.3 1314.5,667 C1327.8,665.7 1324.1,664.1 1330,662.5 C1335.9,660.9 1342.5,660 1350,657.5 C1357.5,655 1367.5,650.4 1375,647.5 C1382.5,644.6 1390.6,641.7 1395,640 C1399.4,638.3 1399.7,637.1 1401.5,637.5 C1403.3,637.9 1404.2,639.6 1406,642.5 C1407.8,645.4 1410.2,651.1 1412.5,655 C1414.8,658.9 1417.5,663.1 1420,666 C1422.5,668.9 1425.4,671.2 1427.5,672.5 C1429.6,673.8 1428.8,673.8 1432.5,674 C1436.2,674.2 1442.9,674.2 1450,674 C1457.1,673.8 1467.6,673.3 1475,672.5 C1482.4,671.7 1489.5,669.2 1494.5,669 C1499.5,668.8 1501.8,670.4 1505,671 C1508.2,671.6 1512.5,672.2 1514,672.5 L1514,675 L1130,675 Z" fill="#2b8a1e"/>
<path d="M1106.5,567.5 V675" fill="none" stroke="#8a8a8a" stroke-width="1.5"/>
<path d="M1130,675 H1514" fill="none" stroke="#8a8a8a" stroke-width="1.5"/>
<path d="M1106.5,576.5 H1110.5" stroke="#8a8a8a" stroke-width="1.4"/>
<text x="1102.1" y="583" text-anchor="end" font-size="18.3">200</text>
<path d="M1106.5,626 H1110.5" stroke="#8a8a8a" stroke-width="1.4"/>
<text x="1102.1" y="632.5" text-anchor="end" font-size="18.3">100</text>
<path d="M1106.5,678.5 H1110.5" stroke="#8a8a8a" stroke-width="1.4"/>
<text x="1102.1" y="685" text-anchor="end" font-size="18.3">0</text>
<path d="M1169,675 V678.5" stroke="#8a8a8a" stroke-width="1.4"/>
<text x="1169" y="698.6" text-anchor="middle" font-size="18.3">1</text>
<path d="M1225.5,675 V678.5" stroke="#8a8a8a" stroke-width="1.4"/>
<text x="1225.5" y="698.6" text-anchor="middle" font-size="18.3">2</text>
<path d="M1281.5,675 V678.5" stroke="#8a8a8a" stroke-width="1.4"/>
<text x="1281.5" y="698.6" text-anchor="middle" font-size="18.3">3</text>
<path d="M1338,675 V678.5" stroke="#8a8a8a" stroke-width="1.4"/>
<text x="1338" y="698.6" text-anchor="middle" font-size="18.3">4</text>
<path d="M1394,675 V678.5" stroke="#8a8a8a" stroke-width="1.4"/>
<text x="1394" y="698.6" text-anchor="middle" font-size="18.3">5</text>
<path d="M1450.5,675 V678.5" stroke="#8a8a8a" stroke-width="1.4"/>
<text x="1450.5" y="698.6" text-anchor="middle" font-size="18.3">6</text>
<path d="M1506.5,675 V678.5" stroke="#8a8a8a" stroke-width="1.4"/>
<text x="1506.5" y="698.6" text-anchor="middle" font-size="18.3">7</text>
<path d="M1130,580.3 V667.5" stroke="#5669a8" stroke-width="1.6" stroke-dasharray="4.1,1.9"/>
<path d="M1314.5,580.3 V642.5" stroke="#5669a8" stroke-width="1.6" stroke-dasharray="4.1,1.9"/>
<path d="M1494.5,580.3 V656" stroke="#5669a8" stroke-width="1.6" stroke-dasharray="4.1,1.9"/>
<path d="M1128,556.7 L1132,556.7 L1132,568.3 L1134.8,568.3 L1130,576.7 L1125.2,568.3 L1128,568.3 Z" fill="#000"/>
<path d="M1312.5,556.7 L1316.5,556.7 L1316.5,568.3 L1319.3,568.3 L1314.5,576.7 L1309.7,568.3 L1312.5,568.3 Z" fill="#000"/>
<path d="M1492.5,556.7 L1496.5,556.7 L1496.5,568.3 L1499.3,568.3 L1494.5,576.7 L1489.7,568.3 L1492.5,568.3 Z" fill="#000"/>
<circle cx="1130" cy="668" r="1.95"/>
<circle cx="1224" cy="662.5" r="1.95"/>
<circle cx="1262" cy="657" r="1.95"/>
<circle cx="1314.5" cy="652.5" r="1.95"/>
<circle cx="1326" cy="645" r="1.95"/>
<circle cx="1330" cy="645" r="1.95"/>
<circle cx="1334" cy="646.5" r="1.95"/>
<circle cx="1338" cy="636" r="1.95"/>
<circle cx="1344" cy="644" r="1.95"/>
<circle cx="1370" cy="610.5" r="1.95"/>
<circle cx="1391.5" cy="586" r="1.95"/>
<circle cx="1398.5" cy="576.5" r="1.95"/>
<circle cx="1405" cy="583" r="1.95"/>
<circle cx="1418.5" cy="641.5" r="1.95"/>
<circle cx="1427.5" cy="668.5" r="1.95"/>
<circle cx="1436.5" cy="672.5" r="1.95"/>
<circle cx="1452.5" cy="671" r="1.95"/>
<circle cx="1458.5" cy="670" r="1.95"/>
<circle cx="1480" cy="665" r="1.95"/>
<circle cx="1494.5" cy="658.5" r="1.95"/>
<circle cx="1509" cy="662" r="1.95"/>
<circle cx="1512.5" cy="666.5" r="1.95"/>
<text x="921.5" y="814.8" font-size="27" font-weight="bold">Pt. 15</text>
<text transform="translate(1053,807.5) rotate(-90)" text-anchor="middle" font-size="21">WBC x 109/L</text>
<path d="M1130,812.5 L1137.5,810 L1145,812.5 L1152.5,820 L1157.5,829 L1165,825 L1172.5,822.5 L1180,829 L1187.5,837.5 L1195,846 L1202.5,850 L1208.5,852.5 L1215,842.5 L1225,830 L1235,817.5 L1245,805 L1255,792.5 L1264.5,775 L1265.5,865 L1270,866 L1290,867 L1325,866 L1361,865 L1361,869.5 L1130,869.5 Z" fill="#2b8a1e"/>
<path d="M1106.5,760 V869.5" fill="none" stroke="#8a8a8a" stroke-width="1.5"/>
<path d="M1130,869.5 H1361" fill="none" stroke="#8a8a8a" stroke-width="1.5"/>
<path d="M1106.5,780 H1110.5" stroke="#8a8a8a" stroke-width="1.4"/>
<text x="1102.1" y="786.5" text-anchor="end" font-size="18.3">120</text>
<path d="M1106.5,810 H1110.5" stroke="#8a8a8a" stroke-width="1.4"/>
<text x="1102.1" y="816.5" text-anchor="end" font-size="18.3">80</text>
<path d="M1106.5,840 H1110.5" stroke="#8a8a8a" stroke-width="1.4"/>
<text x="1102.1" y="846.5" text-anchor="end" font-size="18.3">40</text>
<path d="M1106.5,869.5 H1110.5" stroke="#8a8a8a" stroke-width="1.4"/>
<text x="1102.1" y="876" text-anchor="end" font-size="18.3">0</text>
<path d="M1130,869.5 V873" stroke="#8a8a8a" stroke-width="1.4"/>
<text x="1130" y="893.1" text-anchor="middle" font-size="18.3">2</text>
<path d="M1242.5,869.5 V873" stroke="#8a8a8a" stroke-width="1.4"/>
<text x="1242.5" y="893.1" text-anchor="middle" font-size="18.3">4</text>
<path d="M1355,869.5 V873" stroke="#8a8a8a" stroke-width="1.4"/>
<text x="1355" y="893.1" text-anchor="middle" font-size="18.3">6</text>
<path d="M1130,757.8 V812.5" stroke="#5669a8" stroke-width="1.6" stroke-dasharray="4.1,1.9"/>
<path d="M1208.5,757.8 V850" stroke="#5669a8" stroke-width="1.6" stroke-dasharray="4.1,1.9"/>
<path d="M1264.5,757.8 V775" stroke="#5669a8" stroke-width="1.6" stroke-dasharray="4.1,1.9"/>
<path d="M1128,734.2 L1132,734.2 L1132,745.8 L1134.8,745.8 L1130,754.2 L1125.2,745.8 L1128,745.8 Z" fill="#000"/>
<path d="M1206.5,734.2 L1210.5,734.2 L1210.5,745.8 L1213.3,745.8 L1208.5,754.2 L1203.7,745.8 L1206.5,745.8 Z" fill="#000"/>
<path d="M1262.5,734.2 L1266.5,734.2 L1266.5,745.8 L1269.3,745.8 L1264.5,754.2 L1259.7,745.8 L1262.5,745.8 Z" fill="#000"/>
<circle cx="1130" cy="812.5" r="1.95"/>
<circle cx="1144" cy="812.5" r="1.95"/>
<circle cx="1151.5" cy="820" r="1.95"/>
<circle cx="1157.5" cy="831.5" r="1.95"/>
<circle cx="1161" cy="826" r="1.95"/>
<circle cx="1172.5" cy="822.5" r="1.95"/>
<circle cx="1181.5" cy="829" r="1.95"/>
<circle cx="1195" cy="847.5" r="1.95"/>
<circle cx="1201" cy="847.5" r="1.95"/>
<circle cx="1208.5" cy="852.5" r="1.95"/>
<circle cx="1223.5" cy="832.5" r="1.95"/>
<circle cx="1230" cy="816.5" r="1.95"/>
<circle cx="1237.5" cy="806.5" r="1.95"/>
<circle cx="1250" cy="793.5" r="1.95"/>
<circle cx="1264.5" cy="775" r="1.95"/>
<circle cx="1268.5" cy="865" r="1.95"/>
<circle cx="1272.5" cy="866" r="1.95"/>
<circle cx="1276" cy="865" r="1.95"/>
<circle cx="1279" cy="864" r="1.95"/>
<circle cx="1282.5" cy="866" r="1.95"/>
<circle cx="1288" cy="865" r="1.95"/>
<circle cx="1307.5" cy="865" r="1.95"/>
<circle cx="1321" cy="865" r="1.95"/>
<circle cx="1326.5" cy="865" r="1.95"/>
<circle cx="1355" cy="865" r="1.95"/>
<text x="921.5" y="1017.3" font-size="27" font-weight="bold">Pt. 16</text>
<text transform="translate(1053,1008) rotate(-90)" text-anchor="middle" font-size="21">WBC x 109/L</text>
<path d="M1130,1036.2 L1175,1028.8 L1225,1021.2 L1270,1016.2 L1295,1017.5 L1325,1015 L1350,1013.8 L1375,1007.5 L1400,1002.5 L1425,1002 L1450,1002.5 L1470,1007 L1490,1008 L1510,1007 L1512.5,1002.5 L1513.8,980 L1515,1015 L1516.2,1045 L1517.5,1057.5 L1522.5,1062 L1522.5,1062.5 L1130,1062.5 Z" fill="#2b8a1e"/>
<path d="M1130,1046.2 L1175,1041.2 L1225,1035 L1270,1030 L1300,1030.5 L1330,1029 L1350,1030 L1375,1026.2 L1400,1023.2 L1425,1022.5 L1450,1023.8 L1475,1026.2 L1510,1026.2 L1512.5,1022.5 L1515,1045 L1517.5,1060 L1520,1062.5 L1520,1062.5 L1130,1062.5 Z" fill="#5ec5f0"/>
<path d="M1130,1049 L1175,1046 L1225,1042.2 L1270,1039.2 L1300,1040 L1330,1038.5 L1350,1036.2 L1375,1033.8 L1400,1032 L1425,1031.2 L1450,1032 L1475,1033.8 L1510,1033 L1513,1030 L1515,1050 L1517.5,1061.2 L1520,1062.5 L1520,1062.5 L1130,1062.5 Z" fill="#15342a"/>
<path d="M1130,1050.8 L1175,1048 L1225,1045 L1270,1041.2 L1300,1042 L1330,1040.5 L1350,1038.8 L1375,1036.2 L1400,1034.5 L1425,1033.8 L1450,1034.5 L1475,1036.2 L1510,1037 L1513.8,1035 L1515,1051.2 L1517.5,1061.8 L1520,1062.5 L1520,1062.5 L1130,1062.5 Z" fill="#5ec5f0"/>
<path d="M1130,1053.8 L1175,1051.8 L1225,1050 L1270,1049.2 L1300,1050 L1330,1049 L1350,1047.5 L1375,1045 L1400,1043.8 L1425,1043.2 L1450,1043.8 L1475,1044.5 L1510,1044.5 L1513.8,1040 L1515,1052.5 L1517.5,1062 L1520,1062.5 L1520,1062.5 L1130,1062.5 Z" fill="#2b8a1e"/>
<path d="M1522.5,1062.2 C1523.8,1061.2 1525.4,1057.9 1530,1056.2 C1534.6,1054.6 1542.5,1053.5 1550,1052.5 C1557.5,1051.5 1566.7,1050.8 1575,1050 C1583.3,1049.2 1593.8,1048.6 1600,1048 C1606.2,1047.4 1608.3,1046.2 1612.5,1046.2 C1616.7,1046.2 1618.8,1048 1625,1048 C1631.2,1048 1643.8,1046.8 1650,1046.2 C1656.2,1045.8 1658.3,1044.8 1662.5,1045 C1666.7,1045.2 1670.8,1047.6 1675,1047.5 C1679.2,1047.4 1683.3,1045.5 1687.5,1044.5 C1691.7,1043.5 1695.8,1042 1700,1041.2 C1704.2,1040.5 1708.3,1040 1712.5,1040 C1716.7,1040 1721.2,1041.9 1725,1041.2 C1728.8,1040.6 1731.9,1038.8 1735,1036.2 C1738.1,1033.8 1742.3,1027.9 1743.8,1026.2 L1743.8,1062.5 L1522.5,1062.5 Z" fill="#2b8a1e"/>
<path d="M1525,1062.2 C1529.2,1061.7 1541.7,1059.5 1550,1058.8 C1558.3,1058 1566.7,1057.9 1575,1057.5 C1583.3,1057.1 1593.8,1056.9 1600,1056.2 C1606.2,1055.6 1608.3,1053.9 1612.5,1053.8 C1616.7,1053.6 1618.8,1055.5 1625,1055.5 C1631.2,1055.5 1641.7,1053.8 1650,1053.8 C1658.3,1053.8 1666.7,1055.9 1675,1055.5 C1683.3,1055.1 1692.5,1051.9 1700,1051.2 C1707.5,1050.6 1714.2,1052.4 1720,1051.8 C1725.8,1051.1 1731,1049 1735,1047.5 C1739,1046 1742.3,1043.3 1743.8,1042.5 L1743.8,1062.5 L1525,1062.5 Z" fill="#5ec5f0"/>
<path d="M1525,1062.2 C1529.2,1061.8 1541.7,1060.2 1550,1059.5 C1558.3,1058.8 1566.7,1058.6 1575,1058.2 C1583.3,1057.9 1593.8,1057.8 1600,1057.2 C1606.2,1056.7 1608.3,1054.9 1612.5,1054.8 C1616.7,1054.6 1618.8,1056.5 1625,1056.5 C1631.2,1056.5 1641.7,1054.8 1650,1054.8 C1658.3,1054.8 1666.7,1056.9 1675,1056.5 C1683.3,1056.1 1692.5,1053.1 1700,1052.5 C1707.5,1051.9 1714.2,1053.6 1720,1053 C1725.8,1052.4 1731,1050.4 1735,1049 C1739,1047.6 1742.3,1045.2 1743.8,1044.5" fill="none" stroke="#15342a" stroke-width="1.6" stroke-linejoin="round"/>
<path d="M1525,1062.5 C1533.3,1062.2 1562.5,1060.9 1575,1060.5 C1587.5,1060.1 1591.7,1060.2 1600,1060 C1608.3,1059.8 1616.7,1059.3 1625,1059 C1633.3,1058.7 1641.7,1058 1650,1058 C1658.3,1058 1666.7,1059.2 1675,1059 C1683.3,1058.8 1692.5,1056.8 1700,1056.5 C1707.5,1056.2 1714.2,1057.5 1720,1057 C1725.8,1056.5 1731,1055.1 1735,1053.8 C1739,1052.4 1742.3,1049.6 1743.8,1048.8 L1743.8,1062.5 L1525,1062.5 Z" fill="#2b8a1e"/>
<path d="M1106.5,947.5 V1062.5" fill="none" stroke="#8a8a8a" stroke-width="1.5"/>
<path d="M1130,1062.5 H1744" fill="none" stroke="#8a8a8a" stroke-width="1.5"/>
<path d="M1106.5,953.5 H1110.5" stroke="#8a8a8a" stroke-width="1.4"/>
<text x="1102.1" y="960" text-anchor="end" font-size="18.3">100</text>
<path d="M1106.5,1008.5 H1110.5" stroke="#8a8a8a" stroke-width="1.4"/>
<text x="1102.1" y="1015" text-anchor="end" font-size="18.3">50</text>
<path d="M1106.5,1062.5 H1110.5" stroke="#8a8a8a" stroke-width="1.4"/>
<text x="1102.1" y="1069" text-anchor="end" font-size="18.3">0</text>
<path d="M1127.5,1062.5 V1066" stroke="#8a8a8a" stroke-width="1.4"/>
<text x="1127.5" y="1086.1" text-anchor="middle" font-size="18.3">0</text>
<path d="M1240,1062.5 V1066" stroke="#8a8a8a" stroke-width="1.4"/>
<text x="1240" y="1086.1" text-anchor="middle" font-size="18.3">2</text>
<path d="M1354,1062.5 V1066" stroke="#8a8a8a" stroke-width="1.4"/>
<text x="1354" y="1086.1" text-anchor="middle" font-size="18.3">4</text>
<path d="M1467.5,1062.5 V1066" stroke="#8a8a8a" stroke-width="1.4"/>
<text x="1467.5" y="1086.1" text-anchor="middle" font-size="18.3">6</text>
<path d="M1581,1062.5 V1066" stroke="#8a8a8a" stroke-width="1.4"/>
<text x="1581" y="1086.1" text-anchor="middle" font-size="18.3">8</text>
<path d="M1693.5,1062.5 V1066" stroke="#8a8a8a" stroke-width="1.4"/>
<text x="1693.5" y="1086.1" text-anchor="middle" font-size="18.3">10</text>
<path d="M1131.5,964.3 V1032.5" stroke="#5669a8" stroke-width="1.6" stroke-dasharray="4.1,1.9"/>
<path d="M1292,964.3 V1012.5" stroke="#5669a8" stroke-width="1.6" stroke-dasharray="4.1,1.9"/>
<path d="M1511,964.3 V1005" stroke="#5669a8" stroke-width="1.6" stroke-dasharray="4.1,1.9"/>
<path d="M1601,964.3 V1047.5" stroke="#5669a8" stroke-width="1.6" stroke-dasharray="4.1,1.9"/>
<path d="M1129.5,940.2 L1133.5,940.2 L1133.5,952.3 L1136.3,952.3 L1131.5,960.7 L1126.7,952.3 L1129.5,952.3 Z" fill="#000"/>
<path d="M1290,940.2 L1294,940.2 L1294,952.3 L1296.8,952.3 L1292,960.7 L1287.2,952.3 L1290,952.3 Z" fill="#000"/>
<path d="M1509,940.2 L1513,940.2 L1513,952.3 L1515.8,952.3 L1511,960.7 L1506.2,952.3 L1509,952.3 Z" fill="#000"/>
<path d="M1599,940.2 L1603,940.2 L1603,952.3 L1605.8,952.3 L1601,960.7 L1596.2,952.3 L1599,952.3 Z" fill="#000"/>
<circle cx="1130" cy="1034" r="1.95"/>
<circle cx="1148.5" cy="1037.5" r="1.95"/>
<circle cx="1167.5" cy="1030" r="1.95"/>
<circle cx="1200" cy="1029" r="1.95"/>
<circle cx="1222.5" cy="1022.5" r="1.95"/>
<circle cx="1234" cy="1021" r="1.95"/>
<circle cx="1247.5" cy="1020.5" r="1.95"/>
<circle cx="1256" cy="1012.5" r="1.95"/>
<circle cx="1270" cy="1017.5" r="1.95"/>
<circle cx="1292" cy="1015" r="1.95"/>
<circle cx="1307.5" cy="1011.5" r="1.95"/>
<circle cx="1315" cy="1017" r="1.95"/>
<circle cx="1323" cy="1017" r="1.95"/>
<circle cx="1328" cy="1011.5" r="1.95"/>
<circle cx="1333" cy="1006.5" r="1.95"/>
<circle cx="1340" cy="1013" r="1.95"/>
<circle cx="1345" cy="1010" r="1.95"/>
<circle cx="1350" cy="1015" r="1.95"/>
<circle cx="1357.5" cy="1009.5" r="1.95"/>
<circle cx="1360" cy="1021.2" r="1.95"/>
<circle cx="1368.8" cy="1007" r="1.95"/>
<circle cx="1375" cy="1015" r="1.95"/>
<circle cx="1377.5" cy="1003.8" r="1.95"/>
<circle cx="1382.5" cy="1006.2" r="1.95"/>
<circle cx="1386.2" cy="1008.8" r="1.95"/>
<circle cx="1387.5" cy="998.8" r="1.95"/>
<circle cx="1390" cy="1000" r="1.95"/>
<circle cx="1393.8" cy="992.5" r="1.95"/>
<circle cx="1396.2" cy="1014.5" r="1.95"/>
<circle cx="1400" cy="1005" r="1.95"/>
<circle cx="1403.8" cy="1001.2" r="1.95"/>
<circle cx="1406.2" cy="1011.2" r="1.95"/>
<circle cx="1408.8" cy="1001.2" r="1.95"/>
<circle cx="1410" cy="990" r="1.95"/>
<circle cx="1412.5" cy="999.5" r="1.95"/>
<circle cx="1415" cy="999.5" r="1.95"/>
<circle cx="1418.8" cy="1010" r="1.95"/>
<circle cx="1421.2" cy="1000" r="1.95"/>
<circle cx="1423.8" cy="999.5" r="1.95"/>
<circle cx="1432.5" cy="1011.2" r="1.95"/>
<circle cx="1441.2" cy="1005" r="1.95"/>
<circle cx="1450" cy="1000" r="1.95"/>
<circle cx="1452.5" cy="995" r="1.95"/>
<circle cx="1456.2" cy="1002.5" r="1.95"/>
<circle cx="1470" cy="1011.2" r="1.95"/>
<circle cx="1472.5" cy="1014.2" r="1.95"/>
<circle cx="1477.5" cy="1008.8" r="1.95"/>
<circle cx="1481.2" cy="1009.5" r="1.95"/>
<circle cx="1503.8" cy="1008.8" r="1.95"/>
<circle cx="1507.5" cy="1000" r="1.95"/>
<circle cx="1510" cy="1013.8" r="1.95"/>
<circle cx="1511.2" cy="1006.2" r="1.95"/>
<circle cx="1512" cy="998.8" r="1.95"/>
<circle cx="1513.8" cy="975" r="1.95"/>
<circle cx="1515" cy="1026.2" r="1.95"/>
<circle cx="1515" cy="1045" r="1.95"/>
<circle cx="1516.2" cy="1056.2" r="1.95"/>
<circle cx="1520" cy="1047.5" r="1.95"/>
<circle cx="1517.5" cy="1057.5" r="1.95"/>
<circle cx="1522.5" cy="1061.2" r="1.95"/>
<circle cx="1528.8" cy="1057.5" r="1.95"/>
<circle cx="1531.2" cy="1053.8" r="1.95"/>
<circle cx="1541.2" cy="1052.5" r="1.95"/>
<circle cx="1555" cy="1053" r="1.95"/>
<circle cx="1567.5" cy="1050" r="1.95"/>
<circle cx="1577.5" cy="1050" r="1.95"/>
<circle cx="1586.2" cy="1048.8" r="1.95"/>
<circle cx="1592.5" cy="1051.8" r="1.95"/>
<circle cx="1596.2" cy="1050" r="1.95"/>
<circle cx="1601.2" cy="1048" r="1.95"/>
<circle cx="1612" cy="1043.2" r="1.95"/>
<circle cx="1620" cy="1048.8" r="1.95"/>
<circle cx="1623.8" cy="1049.2" r="1.95"/>
<circle cx="1627.5" cy="1050" r="1.95"/>
<circle cx="1642.5" cy="1046.8" r="1.95"/>
<circle cx="1651.2" cy="1044.2" r="1.95"/>
<circle cx="1660" cy="1043.8" r="1.95"/>
<circle cx="1678.8" cy="1047.5" r="1.95"/>
<circle cx="1695" cy="1042.5" r="1.95"/>
<circle cx="1701.2" cy="1040" r="1.95"/>
<circle cx="1705" cy="1037.5" r="1.95"/>
<circle cx="1715" cy="1040.8" r="1.95"/>
<circle cx="1721.2" cy="1046.2" r="1.95"/>
<circle cx="1725" cy="1045.5" r="1.95"/>
<circle cx="1727.5" cy="1035" r="1.95"/>
<circle cx="1737.5" cy="1035" r="1.95"/>
<circle cx="1743.8" cy="1023.2" r="1.95"/>
<text x="921.5" y="1192.3" font-size="27" font-weight="bold">Pt. 17</text>
<text transform="translate(1053,1182.5) rotate(-90)" text-anchor="middle" font-size="21">WBC x 109/L</text>
<path d="M1131.2,1170.5 L1150,1172 L1170,1170 L1188.8,1160 L1212.5,1147.5 L1231.2,1138.8 L1242.5,1135.8 L1250,1136.2 L1253,1160 L1255,1197.5 L1257.5,1225 L1260,1232.5 L1275,1237.5 L1287.5,1237 L1300,1235 L1312.5,1231.2 L1322.5,1226.2 L1326.2,1228.8 L1332.5,1233.8 L1340,1237.5 L1350,1240 L1355,1240 L1375,1230 L1387.5,1223.8 L1400,1220 L1407.5,1220 L1415,1223.8 L1425,1231.2 L1435,1235 L1450,1236.2 L1462.5,1234.5 L1475,1232.5 L1487.5,1230.8 L1500,1231.2 L1512.5,1235 L1506.5,1235.5 L1519,1240 L1544,1236.2 L1569,1227.5 L1594,1219.5 L1606.5,1217.5 L1619,1220 L1644,1227.5 L1656.5,1228.8 L1676.5,1227.5 L1694,1232.5 L1719,1235.8 L1744,1236.2 L1756.5,1234.5 L1769,1235.5 L1794,1235.5 L1801.5,1232.5 L1814,1232.5 L1834,1233 L1844,1227.5 L1854,1217.5 L1854.5,1240.8 L1854.5,1240.5 L1131.2,1240.5 Z" fill="#2b8a1e"/>
<path d="M1131.2,1179.5 L1150,1179.5 L1170,1177.5 L1188.8,1171.2 L1212.5,1163.8 L1231.2,1158.8 L1245,1156.8 L1251.2,1158.8 L1253.8,1185 L1256.2,1217.5 L1260,1233.8 L1262.5,1235 L1287.5,1238 L1312.5,1233.8 L1323.2,1229.5 L1327.5,1232.5 L1337.5,1237.5 L1347.5,1240 L1357.5,1240 L1375,1231.2 L1387.5,1226.2 L1400,1223.8 L1410,1223.8 L1417.5,1227.5 L1425,1232.5 L1437.5,1236.2 L1462.5,1235.8 L1487.5,1233.8 L1500,1234.2 L1512.5,1237 L1506.5,1237.5 L1519,1240.5 L1544,1238.8 L1569,1234.5 L1594,1230 L1606.5,1228.8 L1619,1230 L1644,1234.5 L1676.5,1234 L1694,1236.2 L1719,1238 L1769,1238 L1794,1237 L1801.5,1235 L1834,1235 L1844,1232.5 L1854,1227 L1854.5,1240.8 L1854.5,1240.5 L1131.2,1240.5 Z" fill="#5ec5f0"/>
<path d="M1275,1238.8 C1279.2,1238.5 1292.9,1238.1 1300,1237.5 C1307.1,1236.9 1313.3,1235.9 1317.5,1235 C1321.7,1234.1 1323.1,1232 1325,1232 C1326.9,1232 1326.2,1233.9 1328.8,1235 C1331.2,1236.1 1338.1,1238.1 1340,1238.8" fill="none" stroke="#15342a" stroke-width="1.3" stroke-linejoin="round"/>
<path d="M1365,1238.8 C1368.8,1237.7 1381.7,1234 1387.5,1232.5 C1393.3,1231 1396.2,1230.3 1400,1230 C1403.8,1229.7 1406.7,1229.9 1410,1230.5 C1413.3,1231.1 1416.7,1232.6 1420,1233.8 C1423.3,1234.9 1428.3,1236.9 1430,1237.5" fill="none" stroke="#15342a" stroke-width="1.4" stroke-linejoin="round"/>
<path d="M1445,1238.2 C1447.9,1238 1455.4,1237.5 1462.5,1237 C1469.6,1236.5 1481.2,1235.7 1487.5,1235.5 C1493.8,1235.3 1496.2,1235.6 1500,1236 C1503.8,1236.4 1508.3,1237.7 1510,1238" fill="none" stroke="#15342a" stroke-width="1.2" stroke-linejoin="round"/>
<path d="M1544,1239.2 C1548.2,1238.8 1560.7,1237.3 1569,1236.2 C1577.3,1235.2 1587.8,1233.7 1594,1233 C1600.2,1232.3 1602.3,1232.2 1606.5,1232.2 C1610.7,1232.2 1612.8,1232.4 1619,1233 C1625.2,1233.6 1634.4,1235.6 1644,1236 C1653.6,1236.4 1668.2,1235 1676.5,1235.2 C1684.8,1235.5 1691.1,1236.9 1694,1237.2" fill="none" stroke="#15342a" stroke-width="1.3" stroke-linejoin="round"/>
<path d="M1131.2,1198 C1134.4,1198.3 1143.5,1199.2 1150,1200 C1156.5,1200.8 1163.5,1203.2 1170,1203 C1176.5,1202.8 1181.7,1200.5 1188.8,1198.8 C1195.8,1197 1205.4,1194.4 1212.5,1192.5 C1219.6,1190.6 1225.8,1188.9 1231.2,1187.5 C1236.7,1186.1 1241.7,1184.5 1245,1184.2 C1248.3,1184 1249.9,1184.5 1251.2,1186.2 C1252.6,1188 1252.4,1190.2 1253,1195 C1253.6,1199.8 1254.2,1209.2 1255,1215 C1255.8,1220.8 1256.5,1226.5 1257.5,1230 C1258.5,1233.5 1260,1234.5 1261.2,1236.2 C1262.5,1238 1264.4,1239.8 1265,1240.5 L1265,1240.5 L1131.2,1240.5 Z" fill="#15342a"/>
<path d="M1131.2,1213 C1134.4,1212.7 1143.5,1212 1150,1211.2 C1156.5,1210.5 1163.5,1210 1170,1208.8 C1176.5,1207.5 1181.7,1205.4 1188.8,1203.8 C1195.8,1202.1 1205.4,1200.2 1212.5,1198.8 C1219.6,1197.3 1225.8,1196 1231.2,1195 C1236.7,1194 1241.7,1193.1 1245,1193 C1248.3,1192.9 1249.9,1192.9 1251.2,1194.5 C1252.6,1196.1 1252.4,1198.2 1253,1202.5 C1253.6,1206.8 1254.2,1215 1255,1220 C1255.8,1225 1256.5,1229.6 1257.5,1232.5 C1258.5,1235.4 1260,1236.2 1261.2,1237.5 C1262.5,1238.8 1264.4,1240 1265,1240.5 L1265,1240.5 L1131.2,1240.5 Z" fill="#5ec5f0"/>
<path d="M1131.2,1233 C1134.4,1232.9 1143.5,1232.8 1150,1232.5 C1156.5,1232.2 1163.5,1231.9 1170,1231.2 C1176.5,1230.6 1181.7,1229.8 1188.8,1228.8 C1195.8,1227.7 1205.4,1226.2 1212.5,1225 C1219.6,1223.8 1225.8,1222.2 1231.2,1221.2 C1236.7,1220.3 1241.7,1219.5 1245,1219.2 C1248.3,1219 1249.8,1218.6 1251.2,1220 C1252.7,1221.4 1252.9,1225.2 1253.8,1227.5 C1254.6,1229.8 1255.2,1231.9 1256.2,1233.8 C1257.3,1235.6 1259,1237.6 1260,1238.8 C1261,1239.9 1262.1,1240.2 1262.5,1240.5 L1262.5,1240.5 L1131.2,1240.5 Z" fill="#2b8a1e"/>
<path d="M1360,1240.5 C1362.5,1240.2 1368.3,1239.4 1375,1239 C1381.7,1238.6 1391.7,1238 1400,1238 C1408.3,1238 1416.7,1238.5 1425,1238.8 C1433.3,1239 1443.8,1239.2 1450,1239.5 C1456.2,1239.8 1460.4,1240.3 1462.5,1240.5 L1462.5,1240.5 L1360,1240.5 Z" fill="#2b8a1e"/>
<path d="M1539,1240.8 C1539.8,1240.6 1539,1240.2 1544,1239.8 C1549,1239.3 1560.7,1239 1569,1238.2 C1577.3,1237.5 1587.8,1236 1594,1235.5 C1600.2,1235 1602.3,1235 1606.5,1235 C1610.7,1235 1612.8,1235 1619,1235.5 C1625.2,1236 1631.5,1237.5 1644,1238.2 C1656.5,1239 1673.2,1239.5 1694,1239.8 C1714.8,1240 1751.1,1239.9 1769,1239.8 C1786.9,1239.6 1790.7,1239.1 1801.5,1239 C1812.3,1238.9 1825.2,1239.6 1834,1239 C1842.8,1238.4 1850.6,1235.2 1854,1235.5 C1857.4,1235.8 1854.4,1239.9 1854.5,1240.8 L1854.5,1240.5 L1539,1240.5 Z" fill="#2b8a1e"/>
<path d="M1106.5,1127.5 V1240.5" fill="none" stroke="#8a8a8a" stroke-width="1.5"/>
<path d="M1131.2,1240.5 H1855" fill="none" stroke="#8a8a8a" stroke-width="1.5"/>
<path d="M1106.5,1132 H1110.5" stroke="#8a8a8a" stroke-width="1.4"/>
<text x="1102.1" y="1138.5" text-anchor="end" font-size="18.3">400</text>
<path d="M1106.5,1186.5 H1110.5" stroke="#8a8a8a" stroke-width="1.4"/>
<text x="1102.1" y="1193" text-anchor="end" font-size="18.3">200</text>
<path d="M1106.5,1240.5 H1110.5" stroke="#8a8a8a" stroke-width="1.4"/>
<text x="1102.1" y="1247" text-anchor="end" font-size="18.3">0</text>
<path d="M1155,1240.5 V1244" stroke="#8a8a8a" stroke-width="1.4"/>
<text x="1155" y="1264.1" text-anchor="middle" font-size="18.3">12</text>
<path d="M1267.5,1240.5 V1244" stroke="#8a8a8a" stroke-width="1.4"/>
<text x="1267.5" y="1264.1" text-anchor="middle" font-size="18.3">14</text>
<path d="M1380,1240.5 V1244" stroke="#8a8a8a" stroke-width="1.4"/>
<text x="1380" y="1264.1" text-anchor="middle" font-size="18.3">16</text>
<path d="M1492.5,1240.5 V1244" stroke="#8a8a8a" stroke-width="1.4"/>
<text x="1492.5" y="1264.1" text-anchor="middle" font-size="18.3">18</text>
<path d="M1605,1240.5 V1244" stroke="#8a8a8a" stroke-width="1.4"/>
<text x="1605" y="1264.1" text-anchor="middle" font-size="18.3">20</text>
<path d="M1717.5,1240.5 V1244" stroke="#8a8a8a" stroke-width="1.4"/>
<text x="1717.5" y="1264.1" text-anchor="middle" font-size="18.3">22</text>
<path d="M1830,1240.5 V1244" stroke="#8a8a8a" stroke-width="1.4"/>
<text x="1830" y="1264.1" text-anchor="middle" font-size="18.3">24</text>
<path d="M1131.5,1138.3 V1170" stroke="#5669a8" stroke-width="1.6" stroke-dasharray="4.1,1.9"/>
<path d="M1188.5,1138.3 V1160" stroke="#5669a8" stroke-width="1.6" stroke-dasharray="4.1,1.9"/>
<path d="M1250,1138.3 V1136.5" stroke="#5669a8" stroke-width="1.6" stroke-dasharray="4.1,1.9"/>
<path d="M1326.5,1138.3 V1224" stroke="#5669a8" stroke-width="1.6" stroke-dasharray="4.1,1.9"/>
<path d="M1740,1138.3 V1235" stroke="#5669a8" stroke-width="1.6" stroke-dasharray="4.1,1.9"/>
<path d="M1129.5,1115.2 L1133.5,1115.2 L1133.5,1126.3 L1136.3,1126.3 L1131.5,1134.7 L1126.7,1126.3 L1129.5,1126.3 Z" fill="#000"/>
<path d="M1186.5,1115.2 L1190.5,1115.2 L1190.5,1126.3 L1193.3,1126.3 L1188.5,1134.7 L1183.7,1126.3 L1186.5,1126.3 Z" fill="#000"/>
<path d="M1248,1115.2 L1252,1115.2 L1252,1126.3 L1254.8,1126.3 L1250,1134.7 L1245.2,1126.3 L1248,1126.3 Z" fill="#000"/>
<path d="M1324.5,1115.2 L1328.5,1115.2 L1328.5,1126.3 L1331.3,1126.3 L1326.5,1134.7 L1321.7,1126.3 L1324.5,1126.3 Z" fill="#000"/>
<path d="M1738,1115.2 L1742,1115.2 L1742,1126.3 L1744.8,1126.3 L1740,1134.7 L1735.2,1126.3 L1738,1126.3 Z" fill="#000"/>
<circle cx="1131.2" cy="1170.5" r="1.95"/>
<circle cx="1188.8" cy="1160" r="1.95"/>
<circle cx="1194.5" cy="1155.8" r="1.95"/>
<circle cx="1231.2" cy="1138.2" r="1.95"/>
<circle cx="1250.8" cy="1136.8" r="1.95"/>
<circle cx="1260.5" cy="1231.8" r="1.95"/>
<circle cx="1282.5" cy="1238.2" r="1.95"/>
<circle cx="1292" cy="1236.8" r="1.95"/>
<circle cx="1296.5" cy="1235.5" r="1.95"/>
<circle cx="1323.2" cy="1224.2" r="1.95"/>
<circle cx="1323.8" cy="1225.5" r="1.95"/>
<circle cx="1327.5" cy="1228.8" r="1.95"/>
<circle cx="1332" cy="1233" r="1.95"/>
<circle cx="1332.5" cy="1235.8" r="1.95"/>
<circle cx="1349.2" cy="1238.8" r="1.95"/>
<circle cx="1410.8" cy="1222" r="1.95"/>
<circle cx="1418.8" cy="1220.2" r="1.95"/>
<circle cx="1425" cy="1230.8" r="1.95"/>
<circle cx="1430" cy="1236.8" r="1.95"/>
<circle cx="1447" cy="1238.8" r="1.95"/>
<circle cx="1480" cy="1231.8" r="1.95"/>
<circle cx="1495" cy="1225.8" r="1.95"/>
<circle cx="1501.2" cy="1226.8" r="1.95"/>
<circle cx="1501.8" cy="1228.8" r="1.95"/>
<circle cx="1505.5" cy="1235.8" r="1.95"/>
<circle cx="1510" cy="1238" r="1.95"/>
<circle cx="1446.5" cy="1238.8" r="1.95"/>
<circle cx="1479.8" cy="1232" r="1.95"/>
<circle cx="1495.2" cy="1225.8" r="1.95"/>
<circle cx="1501" cy="1227" r="1.95"/>
<circle cx="1501.5" cy="1230" r="1.95"/>
<circle cx="1505.2" cy="1235.8" r="1.95"/>
<circle cx="1509.5" cy="1238.2" r="1.95"/>
<circle cx="1562.8" cy="1230" r="1.95"/>
<circle cx="1590.2" cy="1220" r="1.95"/>
<circle cx="1597.8" cy="1214.5" r="1.95"/>
<circle cx="1607" cy="1215.5" r="1.95"/>
<circle cx="1613.5" cy="1211.8" r="1.95"/>
<circle cx="1614" cy="1221.2" r="1.95"/>
<circle cx="1647" cy="1233.8" r="1.95"/>
<circle cx="1662.2" cy="1226.2" r="1.95"/>
<circle cx="1677.8" cy="1222" r="1.95"/>
<circle cx="1679.5" cy="1223.8" r="1.95"/>
<circle cx="1691" cy="1234.5" r="1.95"/>
<circle cx="1708.5" cy="1238" r="1.95"/>
<circle cx="1735.2" cy="1235.5" r="1.95"/>
<circle cx="1739" cy="1235" r="1.95"/>
<circle cx="1742.8" cy="1233.8" r="1.95"/>
<circle cx="1744" cy="1231.2" r="1.95"/>
<circle cx="1746.5" cy="1235" r="1.95"/>
<circle cx="1747.8" cy="1232.5" r="1.95"/>
<circle cx="1750.2" cy="1236.2" r="1.95"/>
<circle cx="1752.8" cy="1234.5" r="1.95"/>
<circle cx="1755.2" cy="1233.8" r="1.95"/>
<circle cx="1757.8" cy="1232.5" r="1.95"/>
<circle cx="1759.5" cy="1226.2" r="1.95"/>
<circle cx="1761" cy="1228.8" r="1.95"/>
<circle cx="1762.8" cy="1230" r="1.95"/>
<circle cx="1765.2" cy="1232.5" r="1.95"/>
<circle cx="1767.8" cy="1235" r="1.95"/>
<circle cx="1770.2" cy="1233.8" r="1.95"/>
<circle cx="1772.8" cy="1235.5" r="1.95"/>
<circle cx="1776.5" cy="1234.5" r="1.95"/>
<circle cx="1779" cy="1235.8" r="1.95"/>
<circle cx="1785.2" cy="1235.8" r="1.95"/>
<circle cx="1802.8" cy="1230.8" r="1.95"/>
<circle cx="1817.2" cy="1232" r="1.95"/>
<circle cx="1833.5" cy="1232" r="1.95"/>
<circle cx="1851" cy="1218" r="1.95"/>
<text x="921.5" y="1373.8" font-size="27" font-weight="bold">Pt. 18</text>
<text transform="translate(1053,1365) rotate(-90)" text-anchor="middle" font-size="21">WBC x 109/L</text>
<path d="M1132.5,1410 L1140,1409.2 L1157.5,1406.2 L1162.5,1401.2 L1175,1398 L1176.2,1395 L1178,1390.5 L1200,1388 L1225,1385.8 L1250,1381.2 L1260,1379.5 L1263.8,1380.5 L1265,1384.5 L1275,1383.8 L1295,1378.8 L1300,1380 L1312.5,1382.5 L1325,1381.2 L1337.5,1378.8 L1350,1377.5 L1375,1376.2 L1382.5,1375 L1390,1382.5 L1396.2,1385 L1403.8,1377.5 L1410,1367.5 L1415,1375 L1422.5,1363.8 L1427.5,1358 L1435,1357 L1437,1320 L1438,1345 L1439.5,1355 L1440.5,1423 L1440.5,1423 L1132.5,1423 Z" fill="#2b8a1e"/>
<path d="M1132.5,1415.5 L1150,1414.5 L1157.5,1415 L1165,1412 L1175,1410 L1178,1406.2 L1200,1405 L1225,1403 L1260,1400.5 L1263.8,1401.2 L1265,1403 L1275,1402.5 L1295,1399.5 L1300,1400.5 L1312.5,1402 L1325,1400.5 L1350,1399.5 L1375,1398.2 L1382.5,1396.8 L1390,1403 L1396.2,1405 L1403.8,1400 L1411.2,1393.8 L1415,1400 L1422.5,1392.5 L1427.5,1388.8 L1435,1388.8 L1437.5,1371.2 L1438.8,1387.5 L1440,1423 L1440,1423 L1132.5,1423 Z" fill="#5ec5f0"/>
<path d="M1132.5,1417.5 L1157.5,1416.2 L1175,1412.5 L1178,1409.2 L1200,1408 L1225,1406.2 L1260,1403 L1265,1405 L1275,1405 L1295,1401.2 L1312.5,1403.8 L1350,1402.5 L1375,1401.2 L1382.5,1399.5 L1390,1405 L1396.2,1407 L1403.8,1402.5 L1411.2,1396.2 L1415,1402 L1422.5,1395 L1427.5,1392.5 L1435,1392 L1437.5,1382.5 L1439,1392.5 L1440,1423 L1440,1423 L1132.5,1423 Z" fill="#2b8a1e"/>
<path d="M1106.5,1320 V1423" fill="none" stroke="#8a8a8a" stroke-width="1.5"/>
<path d="M1132.5,1423 H1471" fill="none" stroke="#8a8a8a" stroke-width="1.5"/>
<path d="M1106.5,1329 H1110.5" stroke="#8a8a8a" stroke-width="1.4"/>
<text x="1102.1" y="1335.5" text-anchor="end" font-size="18.3">400</text>
<path d="M1106.5,1377.5 H1110.5" stroke="#8a8a8a" stroke-width="1.4"/>
<text x="1102.1" y="1384" text-anchor="end" font-size="18.3">200</text>
<path d="M1106.5,1423 H1110.5" stroke="#8a8a8a" stroke-width="1.4"/>
<text x="1102.1" y="1429.5" text-anchor="end" font-size="18.3">0</text>
<path d="M1151.5,1423 V1426.5" stroke="#8a8a8a" stroke-width="1.4"/>
<text x="1151.5" y="1446.6" text-anchor="middle" font-size="18.3">4</text>
<path d="M1203,1423 V1426.5" stroke="#8a8a8a" stroke-width="1.4"/>
<text x="1203" y="1446.6" text-anchor="middle" font-size="18.3">6</text>
<path d="M1253.5,1423 V1426.5" stroke="#8a8a8a" stroke-width="1.4"/>
<text x="1253.5" y="1446.6" text-anchor="middle" font-size="18.3">8</text>
<path d="M1305.5,1423 V1426.5" stroke="#8a8a8a" stroke-width="1.4"/>
<text x="1305.5" y="1446.6" text-anchor="middle" font-size="18.3">10</text>
<path d="M1357,1423 V1426.5" stroke="#8a8a8a" stroke-width="1.4"/>
<text x="1357" y="1446.6" text-anchor="middle" font-size="18.3">12</text>
<path d="M1408.5,1423 V1426.5" stroke="#8a8a8a" stroke-width="1.4"/>
<text x="1408.5" y="1446.6" text-anchor="middle" font-size="18.3">14</text>
<path d="M1460,1423 V1426.5" stroke="#8a8a8a" stroke-width="1.4"/>
<text x="1460" y="1446.6" text-anchor="middle" font-size="18.3">16</text>
<path d="M1132.5,1313.3 V1407.5" stroke="#5669a8" stroke-width="1.6" stroke-dasharray="4.1,1.9"/>
<path d="M1157,1313.3 V1404" stroke="#5669a8" stroke-width="1.6" stroke-dasharray="4.1,1.9"/>
<path d="M1178.5,1313.3 V1389" stroke="#5669a8" stroke-width="1.6" stroke-dasharray="4.1,1.9"/>
<path d="M1265,1313.3 V1381" stroke="#5669a8" stroke-width="1.6" stroke-dasharray="4.1,1.9"/>
<path d="M1289.5,1313.3 V1379" stroke="#5669a8" stroke-width="1.6" stroke-dasharray="4.1,1.9"/>
<path d="M1130.5,1290.2 L1134.5,1290.2 L1134.5,1301.3 L1137.3,1301.3 L1132.5,1309.7 L1127.7,1301.3 L1130.5,1301.3 Z" fill="#000"/>
<path d="M1155,1290.2 L1159,1290.2 L1159,1301.3 L1161.8,1301.3 L1157,1309.7 L1152.2,1301.3 L1155,1301.3 Z" fill="#000"/>
<path d="M1176.5,1290.2 L1180.5,1290.2 L1180.5,1301.3 L1183.3,1301.3 L1178.5,1309.7 L1173.7,1301.3 L1176.5,1301.3 Z" fill="#000"/>
<path d="M1263,1290.2 L1267,1290.2 L1267,1301.3 L1269.8,1301.3 L1265,1309.7 L1260.2,1301.3 L1263,1301.3 Z" fill="#000"/>
<path d="M1287.5,1290.2 L1291.5,1290.2 L1291.5,1301.3 L1294.3,1301.3 L1289.5,1309.7 L1284.7,1301.3 L1287.5,1301.3 Z" fill="#000"/>
<circle cx="1131.5" cy="1408.5" r="1.95"/>
<circle cx="1139" cy="1409" r="1.95"/>
<circle cx="1145" cy="1407.5" r="1.95"/>
<circle cx="1151" cy="1406" r="1.95"/>
<circle cx="1157" cy="1406" r="1.95"/>
<circle cx="1165" cy="1400" r="1.95"/>
<circle cx="1177.5" cy="1388.5" r="1.95"/>
<circle cx="1186" cy="1393.5" r="1.95"/>
<circle cx="1200" cy="1380" r="1.95"/>
<circle cx="1212.5" cy="1391.5" r="1.95"/>
<circle cx="1220" cy="1385" r="1.95"/>
<circle cx="1226" cy="1388" r="1.95"/>
<circle cx="1232.5" cy="1382.5" r="1.95"/>
<circle cx="1238" cy="1381.5" r="1.95"/>
<circle cx="1245" cy="1382.5" r="1.95"/>
<circle cx="1253.5" cy="1374" r="1.95"/>
<circle cx="1256" cy="1379" r="1.95"/>
<circle cx="1264" cy="1381.5" r="1.95"/>
<circle cx="1267.5" cy="1385" r="1.95"/>
<circle cx="1272.5" cy="1384" r="1.95"/>
<circle cx="1282.5" cy="1382.5" r="1.95"/>
<circle cx="1290" cy="1379" r="1.95"/>
<circle cx="1296" cy="1377.5" r="1.95"/>
<circle cx="1305" cy="1381" r="1.95"/>
<circle cx="1315" cy="1386" r="1.95"/>
<circle cx="1322.5" cy="1380" r="1.95"/>
<circle cx="1330" cy="1376.5" r="1.95"/>
<circle cx="1337.5" cy="1381.5" r="1.95"/>
<circle cx="1345" cy="1379" r="1.95"/>
<circle cx="1352.5" cy="1379" r="1.95"/>
<circle cx="1360" cy="1379" r="1.95"/>
<circle cx="1365" cy="1377.5" r="1.95"/>
<circle cx="1372.5" cy="1377.5" r="1.95"/>
<circle cx="1380" cy="1375" r="1.95"/>
<circle cx="1384" cy="1376" r="1.95"/>
<circle cx="1396.5" cy="1385" r="1.95"/>
<circle cx="1410" cy="1366.5" r="1.95"/>
<circle cx="1417.5" cy="1369" r="1.95"/>
<circle cx="1424" cy="1362.5" r="1.95"/>
<circle cx="1430" cy="1360" r="1.95"/>
<circle cx="1436" cy="1357.5" r="1.95"/>
<circle cx="1437.5" cy="1318.5" r="1.95"/>
<circle cx="1438.5" cy="1332.5" r="1.95"/>
<circle cx="1440" cy="1350" r="1.95"/>
<circle cx="1439" cy="1365" r="1.95"/>
<circle cx="1441.5" cy="1417.5" r="1.95"/>
<circle cx="1444" cy="1421" r="1.95"/>
<circle cx="1447.5" cy="1420" r="1.95"/>
<circle cx="1450" cy="1421" r="1.95"/>
<circle cx="1455" cy="1421" r="1.95"/>
<circle cx="1460" cy="1421.5" r="1.95"/>
<circle cx="1465" cy="1421" r="1.95"/>
<text x="921.5" y="1555.8" font-size="27" font-weight="bold">Pt. 19</text>
<text transform="translate(1053,1547.5) rotate(-90)" text-anchor="middle" font-size="21">WBC x 109/L</text>
<path d="M1130,1559 L1156,1567.5 L1181,1576 L1191,1567.5 L1198.5,1563.5 L1231,1560 L1281,1555 L1331,1550 L1356,1547.5 L1371,1542.5 L1406,1536 L1456,1531.5 L1506,1529 L1536,1528.5 L1556,1526.5 L1581,1529 L1606,1530 L1622.5,1526.5 L1641,1532.5 L1661,1533.5 L1686,1534 L1706,1540 L1726,1547.5 L1730,1522.5 L1732.5,1545 L1736,1575 L1741,1605 L1746,1608.5 L1746,1609 L1130,1609 Z" fill="#2b8a1e"/>
<path d="M1130,1560 L1156,1568.5 L1181,1577 L1191,1569 L1198.5,1572.5 L1231,1571 L1281,1569 L1331,1566.5 L1356,1565 L1371,1561 L1406,1558.5 L1456,1557 L1506,1557 L1536,1558.5 L1556,1552.5 L1581,1549 L1606,1545 L1622.5,1540 L1641,1546 L1661,1550 L1686,1555 L1706,1560 L1726,1565 L1730,1550 L1732.5,1570 L1736,1590 L1741,1607.5 L1741,1609 L1130,1609 Z" fill="#f7931e"/>
<path d="M1130,1563 L1156,1571.5 L1181,1580.5 L1191,1572.5 L1198.5,1576 L1231,1574.5 L1281,1572.5 L1331,1570 L1356,1568.5 L1371,1565 L1406,1562 L1456,1560.5 L1506,1560.5 L1536,1562.5 L1556,1561.5 L1581,1555 L1606,1550 L1622.5,1543 L1641,1550 L1661,1555 L1686,1560 L1706,1565 L1726,1572.5 L1730,1560 L1732.5,1575 L1736,1595 L1741,1608 L1741,1609 L1130,1609 Z" fill="#15342a"/>
<path d="M1130,1582.5 L1156,1587.5 L1181,1593.5 L1191,1590 L1198.5,1587.5 L1231,1585 L1281,1581 L1331,1577.5 L1356,1575 L1371,1571 L1406,1567.5 L1456,1565 L1506,1564 L1536,1564 L1556,1565 L1581,1569 L1606,1574 L1622.5,1575 L1641,1574 L1661,1572.5 L1686,1570 L1706,1571 L1726,1574 L1730,1567.5 L1732.5,1580 L1736,1597.5 L1741,1608.5 L1741,1609 L1130,1609 Z" fill="#5ec5f0"/>
<path d="M1130,1606 L1156,1605 L1181,1603.5 L1191,1602.5 L1198.5,1601.5 L1231,1601 L1281,1599.5 L1331,1598.5 L1356,1597.5 L1371,1596 L1406,1592.5 L1456,1589 L1506,1585 L1536,1581 L1556,1582.5 L1581,1587.5 L1606,1592.5 L1622.5,1596 L1641,1595 L1661,1593.5 L1686,1592.5 L1706,1592.5 L1726,1591 L1730,1585 L1732.5,1592.5 L1736,1600 L1741,1608.5 L1741,1609 L1130,1609 Z" fill="#2b8a1e"/>
<path d="M1743.5,1608 L1805,1608" fill="none" stroke="#f7931e" stroke-width="1.2" stroke-linejoin="round"/>
<path d="M1106,1500 V1609" fill="none" stroke="#8a8a8a" stroke-width="1.5"/>
<path d="M1130,1609 H1805" fill="none" stroke="#8a8a8a" stroke-width="1.5"/>
<path d="M1106,1514 H1110" stroke="#8a8a8a" stroke-width="1.4"/>
<text x="1101.6" y="1520.5" text-anchor="end" font-size="18.3">200</text>
<path d="M1106,1561.5 H1110" stroke="#8a8a8a" stroke-width="1.4"/>
<text x="1101.6" y="1568" text-anchor="end" font-size="18.3">100</text>
<path d="M1106,1609 H1110" stroke="#8a8a8a" stroke-width="1.4"/>
<text x="1101.6" y="1615.5" text-anchor="end" font-size="18.3">0</text>
<path d="M1231,1609 V1612.5" stroke="#8a8a8a" stroke-width="1.4"/>
<text x="1231" y="1632.6" text-anchor="middle" font-size="18.3">6</text>
<path d="M1344,1609 V1612.5" stroke="#8a8a8a" stroke-width="1.4"/>
<text x="1344" y="1632.6" text-anchor="middle" font-size="18.3">8</text>
<path d="M1457.5,1609 V1612.5" stroke="#8a8a8a" stroke-width="1.4"/>
<text x="1457.5" y="1632.6" text-anchor="middle" font-size="18.3">10</text>
<path d="M1571,1609 V1612.5" stroke="#8a8a8a" stroke-width="1.4"/>
<text x="1571" y="1632.6" text-anchor="middle" font-size="18.3">12</text>
<path d="M1683.5,1609 V1612.5" stroke="#8a8a8a" stroke-width="1.4"/>
<text x="1683.5" y="1632.6" text-anchor="middle" font-size="18.3">14</text>
<path d="M1796,1609 V1612.5" stroke="#8a8a8a" stroke-width="1.4"/>
<text x="1796" y="1632.6" text-anchor="middle" font-size="18.3">16</text>
<path d="M1131,1501.8 V1557.5" stroke="#5669a8" stroke-width="1.6" stroke-dasharray="4.1,1.9"/>
<path d="M1181.5,1501.8 V1572.5" stroke="#5669a8" stroke-width="1.6" stroke-dasharray="4.1,1.9"/>
<path d="M1370,1501.8 V1545" stroke="#5669a8" stroke-width="1.6" stroke-dasharray="4.1,1.9"/>
<path d="M1536,1501.8 V1527.5" stroke="#5669a8" stroke-width="1.6" stroke-dasharray="4.1,1.9"/>
<path d="M1622.5,1501.8 V1525" stroke="#5669a8" stroke-width="1.6" stroke-dasharray="4.1,1.9"/>
<path d="M1729,1501.8 V1520" stroke="#5669a8" stroke-width="1.6" stroke-dasharray="4.1,1.9"/>
<path d="M1129,1477.7 L1133,1477.7 L1133,1489.8 L1135.8,1489.8 L1131,1498.2 L1126.2,1489.8 L1129,1489.8 Z" fill="#000"/>
<path d="M1179.5,1477.7 L1183.5,1477.7 L1183.5,1489.8 L1186.3,1489.8 L1181.5,1498.2 L1176.7,1489.8 L1179.5,1489.8 Z" fill="#000"/>
<path d="M1368,1477.7 L1372,1477.7 L1372,1489.8 L1374.8,1489.8 L1370,1498.2 L1365.2,1489.8 L1368,1489.8 Z" fill="#000"/>
<path d="M1534,1477.7 L1538,1477.7 L1538,1489.8 L1540.8,1489.8 L1536,1498.2 L1531.2,1489.8 L1534,1489.8 Z" fill="#000"/>
<path d="M1620.5,1477.7 L1624.5,1477.7 L1624.5,1489.8 L1627.3,1489.8 L1622.5,1498.2 L1617.7,1489.8 L1620.5,1489.8 Z" fill="#000"/>
<path d="M1727,1477.7 L1731,1477.7 L1731,1489.8 L1733.8,1489.8 L1729,1498.2 L1724.2,1489.8 L1727,1489.8 Z" fill="#000"/>
<circle cx="1130" cy="1557.5" r="1.95"/>
<circle cx="1146" cy="1564" r="1.95"/>
<circle cx="1181" cy="1572.5" r="1.95"/>
<circle cx="1200" cy="1563.5" r="1.95"/>
<circle cx="1219" cy="1559.5" r="1.95"/>
<circle cx="1237.5" cy="1562.5" r="1.95"/>
<circle cx="1262" cy="1561" r="1.95"/>
<circle cx="1291" cy="1559.5" r="1.95"/>
<circle cx="1305" cy="1554" r="1.95"/>
<circle cx="1320" cy="1548.5" r="1.95"/>
<circle cx="1338" cy="1547.5" r="1.95"/>
<circle cx="1354.5" cy="1552.5" r="1.95"/>
<circle cx="1370" cy="1546" r="1.95"/>
<circle cx="1392" cy="1540" r="1.95"/>
<circle cx="1409.5" cy="1533.5" r="1.95"/>
<circle cx="1425" cy="1538.5" r="1.95"/>
<circle cx="1444" cy="1528" r="1.95"/>
<circle cx="1462.5" cy="1533.5" r="1.95"/>
<circle cx="1480" cy="1528" r="1.95"/>
<circle cx="1500" cy="1520" r="1.95"/>
<circle cx="1516" cy="1539" r="1.95"/>
<circle cx="1536" cy="1527.5" r="1.95"/>
<circle cx="1556" cy="1525.5" r="1.95"/>
<circle cx="1569.5" cy="1529" r="1.95"/>
<circle cx="1586" cy="1527.5" r="1.95"/>
<circle cx="1604" cy="1531" r="1.95"/>
<circle cx="1622.5" cy="1526" r="1.95"/>
<circle cx="1645" cy="1535" r="1.95"/>
<circle cx="1667" cy="1538.5" r="1.95"/>
<circle cx="1688.5" cy="1521.5" r="1.95"/>
<circle cx="1707.5" cy="1541.5" r="1.95"/>
<circle cx="1727" cy="1549" r="1.95"/>
<circle cx="1728.5" cy="1537.5" r="1.95"/>
<circle cx="1730" cy="1532.5" r="1.95"/>
<circle cx="1732.5" cy="1542.5" r="1.95"/>
<circle cx="1732.5" cy="1508.5" r="1.95"/>
<circle cx="1733.5" cy="1497.5" r="1.95"/>
<circle cx="1731" cy="1560" r="1.95"/>
<circle cx="1736" cy="1606.5" r="1.95"/>
<circle cx="1740" cy="1607.5" r="1.95"/>
<circle cx="1743.5" cy="1607" r="1.95"/>
<circle cx="1747" cy="1608" r="1.95"/>
<circle cx="1751" cy="1608" r="1.95"/>
<circle cx="1756" cy="1608.5" r="1.95"/>
<circle cx="1772.5" cy="1608" r="1.95"/>
<circle cx="1787.5" cy="1607.5" r="1.95"/>
<text x="921.5" y="1758.8" font-size="27" font-weight="bold">Pt. 20</text>
<text transform="translate(1053,1747.5) rotate(-90)" text-anchor="middle" font-size="21">WBC x 109/L</text>
<path d="M1135,1789 C1141.7,1788.9 1160,1788.8 1175,1788.5 C1190,1788.2 1210.8,1787.6 1225,1787 C1239.2,1786.4 1249.2,1785.9 1260,1785 C1270.8,1784.1 1280.8,1782.8 1290,1781.5 C1299.2,1780.2 1307.5,1778.4 1315,1777.5 C1322.5,1776.6 1327.5,1776.3 1335,1776 C1342.5,1775.7 1349.2,1775.7 1360,1775.5 C1370.8,1775.3 1388.3,1775.5 1400,1775 C1411.7,1774.5 1421.7,1773.8 1430,1772.5 C1438.3,1771.2 1442.5,1769.4 1450,1767.5 C1457.5,1765.6 1466.7,1763.5 1475,1761 C1483.3,1758.5 1491.7,1756 1500,1752.5 C1508.3,1749 1517.5,1745 1525,1740 C1532.5,1735 1539.6,1727.9 1545,1722.5 C1550.4,1717.1 1554.3,1711.1 1557.5,1707.5 C1560.7,1703.9 1562.6,1695.6 1564,1701 C1565.4,1706.4 1565.4,1725.2 1566,1740 C1566.6,1754.8 1566.8,1780.5 1567.5,1790 C1568.2,1799.5 1569.6,1795.8 1570,1797 L1570,1798 L1135,1798 Z" fill="#2b8a1e"/>
<path d="M1135,1792 C1154.2,1791.7 1222.5,1790.9 1250,1790 C1277.5,1789.1 1283.3,1787.7 1300,1786.5 C1316.7,1785.3 1333.3,1783.8 1350,1783 C1366.7,1782.2 1383.3,1782.5 1400,1782 C1416.7,1781.5 1437.5,1781.2 1450,1780 C1462.5,1778.8 1464.6,1777.8 1475,1775 C1485.4,1772.2 1503.3,1766.2 1512.5,1763.5 C1521.7,1760.8 1524.6,1760.8 1530,1758.5 C1535.4,1756.2 1540.4,1753.1 1545,1750 C1549.6,1746.9 1554.3,1742.9 1557.5,1740 C1560.7,1737.1 1562.6,1729.2 1564,1732.5 C1565.4,1735.8 1565.4,1749.6 1566,1760 C1566.6,1770.4 1567,1788.7 1567.5,1795 C1568,1801.3 1568.8,1797.5 1569,1798 L1569,1798 L1135,1798 Z" fill="#5ec5f0"/>
<path d="M1135,1795 C1154.2,1794.7 1214.2,1793.8 1250,1793 C1285.8,1792.2 1316.7,1791.2 1350,1790.5 C1383.3,1789.8 1429.2,1789.2 1450,1788.5 C1470.8,1787.8 1464.6,1787 1475,1786 C1485.4,1785 1503.3,1783.9 1512.5,1782.5 C1521.7,1781.1 1524.6,1779.3 1530,1777.5 C1535.4,1775.7 1540.4,1773.2 1545,1771.5 C1549.6,1769.8 1554.3,1768.6 1557.5,1767.5 C1560.7,1766.4 1562.6,1762.9 1564,1765 C1565.4,1767.1 1565.4,1774.7 1566,1780 C1566.6,1785.3 1567.1,1794 1567.5,1797 C1567.9,1800 1568.3,1797.8 1568.5,1798 L1568.5,1798 L1135,1798 Z" fill="#2b8a1e"/>
<path d="M1570,1797 C1574.2,1796.8 1589.6,1796.8 1595,1796 C1600.4,1795.2 1600.4,1793.5 1602.5,1792.5 C1604.6,1791.5 1605.8,1789.6 1607.5,1790 C1609.2,1790.4 1609.6,1793.9 1612.5,1795 C1615.4,1796.1 1606.2,1796.2 1625,1796.5 C1643.8,1796.8 1708.3,1796.5 1725,1796.5 L1725,1798 L1570,1798 Z" fill="#3a7f8a"/>
<path d="M1106.5,1688.5 V1798" fill="none" stroke="#8a8a8a" stroke-width="1.5"/>
<path d="M1135,1798 H1726" fill="none" stroke="#8a8a8a" stroke-width="1.5"/>
<path d="M1106.5,1723.5 H1110.5" stroke="#8a8a8a" stroke-width="1.4"/>
<text x="1102.1" y="1730" text-anchor="end" font-size="18.3">200</text>
<path d="M1106.5,1760.5 H1110.5" stroke="#8a8a8a" stroke-width="1.4"/>
<text x="1102.1" y="1767" text-anchor="end" font-size="18.3">100</text>
<path d="M1106.5,1798 H1110.5" stroke="#8a8a8a" stroke-width="1.4"/>
<text x="1102.1" y="1804.5" text-anchor="end" font-size="18.3">0</text>
<path d="M1137,1798 V1801.5" stroke="#8a8a8a" stroke-width="1.4"/>
<text x="1137" y="1821.6" text-anchor="middle" font-size="18.3">0</text>
<path d="M1248.5,1798 V1801.5" stroke="#8a8a8a" stroke-width="1.4"/>
<text x="1248.5" y="1821.6" text-anchor="middle" font-size="18.3">2</text>
<path d="M1361,1798 V1801.5" stroke="#8a8a8a" stroke-width="1.4"/>
<text x="1361" y="1821.6" text-anchor="middle" font-size="18.3">4</text>
<path d="M1473.5,1798 V1801.5" stroke="#8a8a8a" stroke-width="1.4"/>
<text x="1473.5" y="1821.6" text-anchor="middle" font-size="18.3">6</text>
<path d="M1586,1798 V1801.5" stroke="#8a8a8a" stroke-width="1.4"/>
<text x="1586" y="1821.6" text-anchor="middle" font-size="18.3">8</text>
<path d="M1697.5,1798 V1801.5" stroke="#8a8a8a" stroke-width="1.4"/>
<text x="1697.5" y="1821.6" text-anchor="middle" font-size="18.3">10</text>
<path d="M1346.5,1699.3 V1775" stroke="#5669a8" stroke-width="1.6" stroke-dasharray="4.1,1.9"/>
<path d="M1484,1699.3 V1757.5" stroke="#5669a8" stroke-width="1.6" stroke-dasharray="4.1,1.9"/>
<path d="M1605,1699.3 V1790" stroke="#5669a8" stroke-width="1.6" stroke-dasharray="4.1,1.9"/>
<path d="M1344.5,1675.2 L1348.5,1675.2 L1348.5,1687.3 L1351.3,1687.3 L1346.5,1695.7 L1341.7,1687.3 L1344.5,1687.3 Z" fill="#000"/>
<path d="M1482,1675.2 L1486,1675.2 L1486,1687.3 L1488.8,1687.3 L1484,1695.7 L1479.2,1687.3 L1482,1687.3 Z" fill="#000"/>
<path d="M1603,1675.2 L1607,1675.2 L1607,1687.3 L1609.8,1687.3 L1605,1695.7 L1600.2,1687.3 L1603,1687.3 Z" fill="#000"/>
<circle cx="1137" cy="1788.5" r="1.95"/>
<circle cx="1154" cy="1789.5" r="1.95"/>
<circle cx="1169" cy="1788.5" r="1.95"/>
<circle cx="1186" cy="1788" r="1.95"/>
<circle cx="1200" cy="1787.5" r="1.95"/>
<circle cx="1215" cy="1787" r="1.95"/>
<circle cx="1228.5" cy="1786" r="1.95"/>
<circle cx="1243.5" cy="1787.5" r="1.95"/>
<circle cx="1261" cy="1786" r="1.95"/>
<circle cx="1275" cy="1785" r="1.95"/>
<circle cx="1290" cy="1782" r="1.95"/>
<circle cx="1306" cy="1776" r="1.95"/>
<circle cx="1318" cy="1775" r="1.95"/>
<circle cx="1339" cy="1777.5" r="1.95"/>
<circle cx="1347.5" cy="1775.5" r="1.95"/>
<circle cx="1368.5" cy="1775.5" r="1.95"/>
<circle cx="1377.5" cy="1772" r="1.95"/>
<circle cx="1397.5" cy="1775.5" r="1.95"/>
<circle cx="1405" cy="1775" r="1.95"/>
<circle cx="1426" cy="1776" r="1.95"/>
<circle cx="1430" cy="1769" r="1.95"/>
<circle cx="1456" cy="1762.5" r="1.95"/>
<circle cx="1459" cy="1771" r="1.95"/>
<circle cx="1472.5" cy="1764" r="1.95"/>
<circle cx="1484" cy="1756" r="1.95"/>
<circle cx="1496.5" cy="1751.5" r="1.95"/>
<circle cx="1505" cy="1751" r="1.95"/>
<circle cx="1513" cy="1746" r="1.95"/>
<circle cx="1522.5" cy="1744" r="1.95"/>
<circle cx="1534" cy="1749" r="1.95"/>
<circle cx="1545" cy="1711" r="1.95"/>
<circle cx="1549" cy="1719" r="1.95"/>
<circle cx="1552.5" cy="1722.5" r="1.95"/>
<circle cx="1560" cy="1705" r="1.95"/>
<circle cx="1564" cy="1696.5" r="1.95"/>
<circle cx="1564" cy="1733" r="1.95"/>
<circle cx="1571.5" cy="1796.5" r="1.95"/>
<circle cx="1580" cy="1796" r="1.95"/>
<circle cx="1595" cy="1795" r="1.95"/>
<circle cx="1602.5" cy="1792.5" r="1.95"/>
<circle cx="1607.5" cy="1790" r="1.95"/>
<circle cx="1610" cy="1788.5" r="1.95"/>
<circle cx="1615" cy="1795" r="1.95"/>
<circle cx="1625" cy="1796" r="1.95"/>
<circle cx="1640" cy="1796.5" r="1.95"/>
<circle cx="1660" cy="1797" r="1.95"/>
<circle cx="1680" cy="1796.5" r="1.95"/>
<circle cx="1700" cy="1796.5" r="1.95"/>
<circle cx="1702.5" cy="1795.5" r="1.95"/>
<circle cx="1706" cy="1794.5" r="1.95"/>
<circle cx="1709" cy="1793" r="1.95"/>
<circle cx="1712.5" cy="1794" r="1.95"/>
<circle cx="1715" cy="1792.5" r="1.95"/>
<circle cx="1718" cy="1793.5" r="1.95"/>
<circle cx="1720" cy="1794.5" r="1.95"/>
<circle cx="1722.5" cy="1793" r="1.95"/>
<circle cx="1725" cy="1795" r="1.95"/>
<text x="921.5" y="1962.3" font-size="27" font-weight="bold">Pt. 21</text>
<text transform="translate(1053,1952.5) rotate(-90)" text-anchor="middle" font-size="21">WBC x 109/L</text>
<path d="M1130,2000.5 L1150,1998.8 L1175,1995.5 L1187.5,1992 L1200,1987.5 L1212.5,1981.2 L1225,1973.8 L1237.5,1966.2 L1250,1955 L1255,1950.8 L1262.5,1940 L1270,1927.5 L1275,1917.5 L1278.2,1908.2 L1279,2009.5 L1279,2010 L1130,2010 Z" fill="#2b8a1e"/>
<path d="M1130,2003.8 L1175,2001.2 L1200,1996.2 L1225,1987.5 L1237.5,1982.5 L1250,1973.8 L1255,1968.8 L1262.5,1955 L1270,1943.8 L1275,1936.2 L1278,1931.2 L1279,2009.5 L1279,2010 L1130,2010 Z" fill="#5ec5f0"/>
<path d="M1130,2005 C1137.5,2004.6 1163.3,2003.5 1175,2002.5 C1186.7,2001.5 1191.7,2000.5 1200,1998.8 C1208.3,1997 1216.7,1994.5 1225,1991.8 C1233.3,1989 1245,1984.7 1250,1982.5 C1255,1980.3 1252.5,1980.8 1255,1978.8 C1257.5,1976.7 1261.2,1973.5 1265,1970 C1268.8,1966.5 1275.8,1959.6 1278,1957.5" fill="none" stroke="#b4a58a" stroke-width="1.5" stroke-linejoin="round"/>
<path d="M1130,2007.5 L1175,2005.8 L1200,2002.5 L1225,1998.8 L1250,1995.8 L1255,1994.2 L1262.5,1990 L1275,1985 L1278,1983.8 L1279,2009.5 L1279,2010 L1130,2010 Z" fill="#2b8a1e"/>
<path d="M1279,1990 L1287.5,1991.2 L1289.5,1995.5 L1290,2009.5 L1290,2010 L1279,2010 Z" fill="#5ec5f0"/>
<path d="M1290,2009.2 C1300,2009.2 1321.2,2009.1 1350,2009 C1378.8,2008.9 1435.4,2008.5 1462.5,2008.5 C1489.6,2008.5 1504.2,2008.7 1512.5,2008.8" fill="none" stroke="#c08a3a" stroke-width="1.3" stroke-linejoin="round"/>
<path d="M1465,2009.5 C1465.8,2008.8 1468.3,2006.4 1470,2005 C1471.7,2003.6 1472.9,2002.5 1475,2001.2 C1477.1,2000 1480.6,2000.3 1482.5,1997.5 C1484.4,1994.7 1485.4,1985.3 1486.2,1984.5 C1487.1,1983.7 1486.9,1991 1487.5,1992.5 C1488.1,1994 1488.8,1993.8 1490,1993.8 C1491.2,1993.8 1493.3,1991.9 1495,1992.5 C1496.7,1993.1 1497.1,1995.4 1500,1997.5 C1502.9,1999.6 1508.3,2003.1 1512.5,2005 C1516.7,2006.9 1522.9,2008.1 1525,2008.8 L1525,2010 L1465,2010 Z" fill="#15342a"/>
<path d="M1467.5,2009.5 C1468.3,2009 1470.4,2007.2 1472.5,2006.2 C1474.6,2005.3 1477.5,2005.3 1480,2003.8 C1482.5,2002.2 1485.4,1997.5 1487.5,1997 C1489.6,1996.5 1490.4,2000.2 1492.5,2001 C1494.6,2001.8 1496.7,2001.1 1500,2002 C1503.3,2002.9 1509.2,2005 1512.5,2006.2 C1515.8,2007.5 1518.8,2009 1520,2009.5 L1520,2010 L1467.5,2010 Z" fill="#f7931e"/>
<path d="M1470,2009.5 C1471.7,2009.2 1477.1,2008.5 1480,2007.5 C1482.9,2006.5 1485,2004.2 1487.5,2003.8 C1490,2003.3 1492.1,2004.4 1495,2005 C1497.9,2005.6 1501.7,2006.8 1505,2007.5 C1508.3,2008.2 1513.3,2009.2 1515,2009.5 L1515,2010 L1470,2010 Z" fill="#15342a"/>
<path d="M1106.5,1900 V2010" fill="none" stroke="#8a8a8a" stroke-width="1.5"/>
<path d="M1130,2010 H1681.5" fill="none" stroke="#8a8a8a" stroke-width="1.5"/>
<path d="M1106.5,1916.5 H1110.5" stroke="#8a8a8a" stroke-width="1.4"/>
<text x="1102.1" y="1923" text-anchor="end" font-size="18.3">300</text>
<path d="M1106.5,1947.5 H1110.5" stroke="#8a8a8a" stroke-width="1.4"/>
<text x="1102.1" y="1954" text-anchor="end" font-size="18.3">200</text>
<path d="M1106.5,1979 H1110.5" stroke="#8a8a8a" stroke-width="1.4"/>
<text x="1102.1" y="1985.5" text-anchor="end" font-size="18.3">100</text>
<path d="M1106.5,2010 H1110.5" stroke="#8a8a8a" stroke-width="1.4"/>
<text x="1102.1" y="2016.5" text-anchor="end" font-size="18.3">0</text>
<path d="M1128.5,2010 V2013.5" stroke="#8a8a8a" stroke-width="1.4"/>
<text x="1128.5" y="2033.6" text-anchor="middle" font-size="18.3">0</text>
<path d="M1241,2010 V2013.5" stroke="#8a8a8a" stroke-width="1.4"/>
<text x="1241" y="2033.6" text-anchor="middle" font-size="18.3">2</text>
<path d="M1353,2010 V2013.5" stroke="#8a8a8a" stroke-width="1.4"/>
<text x="1353" y="2033.6" text-anchor="middle" font-size="18.3">4</text>
<path d="M1465.5,2010 V2013.5" stroke="#8a8a8a" stroke-width="1.4"/>
<text x="1465.5" y="2033.6" text-anchor="middle" font-size="18.3">6</text>
<path d="M1578,2010 V2013.5" stroke="#8a8a8a" stroke-width="1.4"/>
<text x="1578" y="2033.6" text-anchor="middle" font-size="18.3">8</text>
<path d="M1205,1904.3 V1985" stroke="#5669a8" stroke-width="1.6" stroke-dasharray="4.1,1.9"/>
<path d="M1255.5,1904.3 V1945" stroke="#5669a8" stroke-width="1.6" stroke-dasharray="4.1,1.9"/>
<path d="M1489,1904.3 V1980" stroke="#5669a8" stroke-width="1.6" stroke-dasharray="4.1,1.9"/>
<path d="M1203,1880.2 L1207,1880.2 L1207,1892.3 L1209.8,1892.3 L1205,1900.7 L1200.2,1892.3 L1203,1892.3 Z" fill="#000"/>
<path d="M1253.5,1880.2 L1257.5,1880.2 L1257.5,1892.3 L1260.3,1892.3 L1255.5,1900.7 L1250.7,1892.3 L1253.5,1892.3 Z" fill="#000"/>
<path d="M1487,1880.2 L1491,1880.2 L1491,1892.3 L1493.8,1892.3 L1489,1900.7 L1484.2,1892.3 L1487,1892.3 Z" fill="#000"/>
<circle cx="1130.5" cy="2000.2" r="1.95"/>
<circle cx="1134.2" cy="2002" r="1.95"/>
<circle cx="1142.5" cy="2000.8" r="1.95"/>
<circle cx="1157.5" cy="1998.8" r="1.95"/>
<circle cx="1172.5" cy="1998.8" r="1.95"/>
<circle cx="1185.8" cy="1993.2" r="1.95"/>
<circle cx="1200" cy="1989" r="1.95"/>
<circle cx="1205" cy="1985.5" r="1.95"/>
<circle cx="1219.5" cy="1970" r="1.95"/>
<circle cx="1222.5" cy="1978.8" r="1.95"/>
<circle cx="1228.8" cy="1960.8" r="1.95"/>
<circle cx="1232" cy="1963.8" r="1.95"/>
<circle cx="1235.5" cy="1974.5" r="1.95"/>
<circle cx="1242.5" cy="1954.2" r="1.95"/>
<circle cx="1249.5" cy="1953" r="1.95"/>
<circle cx="1256.2" cy="1945.5" r="1.95"/>
<circle cx="1265" cy="1922.5" r="1.95"/>
<circle cx="1267.5" cy="1936.8" r="1.95"/>
<circle cx="1272" cy="1918" r="1.95"/>
<circle cx="1276" cy="1906.2" r="1.95"/>
<circle cx="1278.5" cy="1908" r="1.95"/>
<circle cx="1279" cy="1938.2" r="1.95"/>
<circle cx="1279" cy="1961.2" r="1.95"/>
<circle cx="1279.5" cy="1988.8" r="1.95"/>
<circle cx="1280.5" cy="1978" r="1.95"/>
<circle cx="1283.8" cy="1977.5" r="1.95"/>
<circle cx="1289.2" cy="1977" r="1.95"/>
<circle cx="1281.2" cy="1993.8" r="1.95"/>
<circle cx="1282.5" cy="2000" r="1.95"/>
<circle cx="1284.5" cy="1987.5" r="1.95"/>
<circle cx="1286" cy="1990" r="1.95"/>
<circle cx="1288" cy="1983.8" r="1.95"/>
<circle cx="1288.8" cy="1991.2" r="1.95"/>
<circle cx="1280" cy="1996.2" r="1.95"/>
<circle cx="1282" cy="2005" r="1.95"/>
<circle cx="1285" cy="2006.2" r="1.95"/>
<circle cx="1289.5" cy="2005" r="1.95"/>
<circle cx="1291.2" cy="2008.8" r="1.95"/>
<circle cx="1295" cy="2008" r="1.95"/>
<circle cx="1300" cy="2009" r="1.95"/>
<circle cx="1307.5" cy="2009.2" r="1.95"/>
<circle cx="1311.2" cy="2008" r="1.95"/>
<circle cx="1315" cy="2008.8" r="1.95"/>
<circle cx="1320" cy="2009" r="1.95"/>
<circle cx="1325" cy="2008.5" r="1.95"/>
<circle cx="1328.8" cy="2009.2" r="1.95"/>
<circle cx="1332.5" cy="2009" r="1.95"/>
<circle cx="1338.8" cy="2009.2" r="1.95"/>
<circle cx="1347.5" cy="2009" r="1.95"/>
<circle cx="1352.5" cy="2008.8" r="1.95"/>
<circle cx="1356.2" cy="2008.5" r="1.95"/>
<circle cx="1368.8" cy="2008" r="1.95"/>
<circle cx="1373.8" cy="2008.2" r="1.95"/>
<circle cx="1397.5" cy="2008.5" r="1.95"/>
<circle cx="1425" cy="2007.8" r="1.95"/>
<circle cx="1437.5" cy="2007.8" r="1.95"/>
<circle cx="1470" cy="2003" r="1.95"/>
<circle cx="1473.8" cy="2002" r="1.95"/>
<circle cx="1477.5" cy="2001.2" r="1.95"/>
<circle cx="1481.2" cy="1997.5" r="1.95"/>
<circle cx="1485" cy="1995" r="1.95"/>
<circle cx="1486.5" cy="1965.8" r="1.95"/>
<circle cx="1487.5" cy="1971.2" r="1.95"/>
<circle cx="1491.2" cy="1985" r="1.95"/>
<circle cx="1490" cy="1993.8" r="1.95"/>
<circle cx="1493.8" cy="1992.5" r="1.95"/>
<circle cx="1497.5" cy="1995" r="1.95"/>
<circle cx="1500" cy="2000" r="1.95"/>
<circle cx="1505" cy="2003.8" r="1.95"/>
<circle cx="1510" cy="2006.2" r="1.95"/>
<circle cx="1516" cy="2008.5" r="1.95"/>
<circle cx="1524" cy="2008.5" r="1.95"/>
<circle cx="1532" cy="2008.5" r="1.95"/>
<circle cx="1540" cy="2008.5" r="1.95"/>
<circle cx="1548" cy="2008.5" r="1.95"/>
<circle cx="1556" cy="2008.5" r="1.95"/>
<circle cx="1564" cy="2008.5" r="1.95"/>
<circle cx="1572" cy="2008.5" r="1.95"/>
<circle cx="1580" cy="2008.5" r="1.95"/>
<circle cx="1588" cy="2008.5" r="1.95"/>
<circle cx="1596" cy="2008.5" r="1.95"/>
<circle cx="1604" cy="2008.5" r="1.95"/>
<circle cx="1612" cy="2008.5" r="1.95"/>
<circle cx="1620" cy="2008.5" r="1.95"/>
<circle cx="1628" cy="2008.5" r="1.95"/>
<circle cx="1636" cy="2008.5" r="1.95"/>
<circle cx="1644" cy="2008.5" r="1.95"/>
<circle cx="1652" cy="2008.5" r="1.95"/>
<circle cx="1660" cy="2008.5" r="1.95"/>
<circle cx="1668" cy="2008.5" r="1.95"/>
<text x="1351.5" y="2062.5" text-anchor="middle" font-size="24">Years</text>
<text x="491" y="2001" text-anchor="middle" font-size="24">Years</text>
<path d="M5,2081.5 H1803" stroke="#a8a8a8" stroke-width="2"/>
<text x="0" y="2150" font-size="46" fill="#000" font-weight="bold">b</text>
<text x="281" y="2138.5" font-size="26" fill="#000" font-weight="bold">Pt. 5</text>
<text x="426.5" y="2140" font-size="17" fill="#000" text-anchor="middle" textLength="56" lengthAdjust="spacingAndGlyphs">Common</text><text x="426.5" y="2156" font-size="17" fill="#000" text-anchor="middle" textLength="54" lengthAdjust="spacingAndGlyphs">ancestor</text>
<path d="M426.5,2171 L426.5,2214" stroke="#2b8a1e" stroke-width="2.6" stroke-linecap="round"/>
<path d="M426.5,2214 L371.5,2245" stroke="#5ec5f0" stroke-width="2.6" stroke-linecap="round"/>
<path d="M426.5,2214 L484,2244" stroke="#000" stroke-width="2.6" stroke-linecap="round"/>
<path d="M484,2244 L541.5,2271.5" stroke="#9c1a1f" stroke-width="2.6" stroke-linecap="round"/>
<path d="M484,2244 L484,2286" stroke="#5b6cf0" stroke-width="2.6" stroke-linecap="round"/>
<path d="M371.5,2245 L371.5,2286" stroke="#f7931e" stroke-width="2.6" stroke-linecap="round"/>
<circle cx="426.5" cy="2167.5" r="3.6" fill="#fff" stroke="#2b8a1e" stroke-width="1.6"/>
<circle cx="426.5" cy="2214" r="4.2" fill="#2b8a1e"/>
<circle cx="371.5" cy="2245" r="4.2" fill="#5ec5f0"/>
<circle cx="484" cy="2244" r="4.2" fill="#000"/>
<circle cx="541.5" cy="2271.5" r="4.2" fill="#9c1a1f"/>
<circle cx="484" cy="2286" r="4.2" fill="#5b6cf0"/>
<circle cx="371.5" cy="2286" r="4.2" fill="#f7931e"/>
<text x="431" y="2194" font-size="18" fill="#2b8a1e" font-style="italic">Trisomy 12</text>
<text x="346.5" y="2216" font-size="18" fill="#5ec5f0"><tspan font-style="italic">del</tspan>(6p)</text>
<text x="406.5" y="2237.5" font-size="18" fill="#2b8a1e">Cl. 0</text>
<text x="456.5" y="2223.5" font-size="18" fill="#000" font-style="italic">XPO1</text>
<text x="438" y="2255" font-size="18" fill="#000">Cl. 2</text>
<text x="516.5" y="2253.5" font-size="18" fill="#9c1a1f" font-style="italic">GNB1</text>
<text x="548.5" y="2287.5" font-size="18" fill="#9c1a1f">Cl. 5</text>
<text x="414" y="2277.5" font-size="18" fill="#5b6cf0" font-style="italic">MED12</text>
<text x="467.5" y="2309" font-size="18" fill="#5b6cf0">Cl. 4</text>
<text x="327.5" y="2246" font-size="18" fill="#5ec5f0">Cl. 1</text>
<text x="300" y="2275" font-size="18" fill="#f7931e" font-style="italic">NFKBIZ</text>
<text x="354" y="2309" font-size="18" fill="#f7931e">Cl. 3</text>
<text x="916" y="2138.8" font-size="26" fill="#000" font-weight="bold">Pt. 18</text>
<path d="M953.8,2167 L953.8,2206" stroke="#2b8a1e" stroke-width="4" stroke-linecap="round"/>
<path d="M953.8,2206 L953.8,2248" stroke="#5ec5f0" stroke-width="5" stroke-linecap="round"/>
<circle cx="953.75" cy="2167" r="4.6" fill="#fff" stroke="#2b8a1e" stroke-width="2.4"/>
<circle cx="953.8" cy="2206.2" r="7" fill="#2b8a1e"/>
<circle cx="953.8" cy="2248" r="7" fill="#5ec5f0"/>
<text x="973.8" y="2209.5" font-size="18" fill="#2b8a1e" font-style="italic">MRCA</text>
<text x="980" y="2230.5" font-size="18" fill="#2b8a1e">Cl. 0</text>
<text x="936" y="2277" font-size="18" fill="#5ec5f0">Cl. 1</text>
<text x="1456.2" y="2138.8" font-size="26" fill="#000" font-weight="bold">Pt. 19</text>
<text x="1510.5" y="2173.8" font-size="17" fill="#000" text-anchor="middle" textLength="56" lengthAdjust="spacingAndGlyphs">Common</text><text x="1510.5" y="2188.8" font-size="17" fill="#000" text-anchor="middle" textLength="54" lengthAdjust="spacingAndGlyphs">ancestor</text>
<path d="M1508.8,2202 L1508.8,2249.5" stroke="#2b8a1e" stroke-width="2.6" stroke-linecap="round"/>
<path d="M1508.8,2249.5 L1433.8,2273.8" stroke="#5ec5f0" stroke-width="2.6" stroke-linecap="round"/>
<path d="M1508.8,2249.5 L1508.8,2285" stroke="#000" stroke-width="2.6" stroke-linecap="round"/>
<path d="M1508.8,2249.5 L1579.5,2273.8" stroke="#f7931e" stroke-width="2.6" stroke-linecap="round"/>
<circle cx="1508.8" cy="2198.8" r="3.6" fill="#fff" stroke="#2b8a1e" stroke-width="1.6"/>
<circle cx="1508.8" cy="2249.5" r="4.2" fill="#2b8a1e"/>
<circle cx="1433.8" cy="2273.8" r="4.2" fill="#5ec5f0"/>
<circle cx="1508.8" cy="2285" r="4.2" fill="#000"/>
<circle cx="1579.5" cy="2273.8" r="4.2" fill="#f7931e"/>
<text x="1514.5" y="2218.8" font-size="18" fill="#2b8a1e" font-style="italic">MRCA</text>
<text x="1517.5" y="2243.8" font-size="18" fill="#2b8a1e">Cl. 0</text>
<text x="1413.75" y="2248.75" font-size="18" fill="#5ec5f0"><tspan font-style="italic">del</tspan>(13q)</text>
<text x="1390" y="2278.8" font-size="18" fill="#5ec5f0">Cl. 1</text>
<text x="1492.5" y="2306.2" font-size="18" fill="#000">Cl. 2</text>
<text x="1590.2" y="2278.8" font-size="18" fill="#f7931e">Cl. 3</text>
<rect x="211.2" y="2337" width="127.5" height="7" fill="#fff" stroke="#111" stroke-width="1.3"/>
<path d="M281.9,2396.4 L337,2391.7 L337,2436.8 Z" fill="#b9a6ee" opacity="0.35"/>
<path d="M281.9,2396.4 L337,2392.4 L337,2415.3 Z" fill="#5ec5f0" opacity="0.95"/>
<path d="M215.2,2422 L257.1,2403.8 L281.9,2397.1" fill="none" stroke="#a8d8f0" stroke-width="8" stroke-linejoin="round" opacity="0.35"/><path d="M215.2,2422 L257.1,2403.8 L281.9,2397.1" fill="none" stroke="#5ec5f0" stroke-width="5.5" stroke-linejoin="round" opacity="1.0"/>
<path d="M215.2,2425.3 V2418.6" stroke="#d428d4" stroke-width="1.5"/><circle cx="215.2" cy="2422" r="2.6" fill="none" stroke="#d428d4" stroke-width="1.1"/><path d="M257.1,2406.5 V2401.1" stroke="#d428d4" stroke-width="1.5"/><circle cx="257.1" cy="2403.8" r="2.6" fill="none" stroke="#d428d4" stroke-width="1.1"/><path d="M281.9,2400.5 V2393.1" stroke="#d428d4" stroke-width="1.5"/><circle cx="281.9" cy="2397.1" r="2.6" fill="none" stroke="#d428d4" stroke-width="1.1"/><path d="M335.2,2426 V2386.3" stroke="#d428d4" stroke-width="1.5"/><circle cx="335.2" cy="2397.8" r="2.6" fill="none" stroke="#d428d4" stroke-width="1.1"/>
<rect x="211.2" y="2347.5" width="127.5" height="124.2" fill="none" stroke="#111" stroke-width="1.3"/>
<path d="M205.8,2364.2 H211.2" stroke="#111" stroke-width="1.2"/>
<text x="203.8" y="2370.7" font-size="17.5" fill="#000" text-anchor="end">20</text>
<path d="M205.8,2391.1 H211.2" stroke="#111" stroke-width="1.2"/>
<text x="203.8" y="2397.6" font-size="17.5" fill="#000" text-anchor="end">18</text>
<path d="M205.8,2417.9 H211.2" stroke="#111" stroke-width="1.2"/>
<text x="203.8" y="2424.4" font-size="17.5" fill="#000" text-anchor="end">16</text>
<path d="M205.8,2444.8 H211.2" stroke="#111" stroke-width="1.2"/>
<text x="203.8" y="2451.3" font-size="17.5" fill="#000" text-anchor="end">14</text>
<path d="M205.8,2471.8 H211.2" stroke="#111" stroke-width="1.2"/>
<text x="203.8" y="2478.2" font-size="17.5" fill="#000" text-anchor="end">12</text>
<path d="M230.5,2471.8 V2477.2" stroke="#111" stroke-width="1.2"/>
<text x="230.5" y="2493.8" font-size="17.5" fill="#000" text-anchor="middle">1</text>
<path d="M255.6,2471.8 V2477.2" stroke="#111" stroke-width="1.2"/>
<text x="255.6" y="2493.8" font-size="17.5" fill="#000" text-anchor="middle">2</text>
<path d="M280.6,2471.8 V2477.2" stroke="#111" stroke-width="1.2"/>
<text x="280.6" y="2493.8" font-size="17.5" fill="#000" text-anchor="middle">3</text>
<path d="M305.6,2471.8 V2477.2" stroke="#111" stroke-width="1.2"/>
<text x="305.6" y="2493.8" font-size="17.5" fill="#000" text-anchor="middle">4</text>
<path d="M330.7,2471.8 V2477.2" stroke="#111" stroke-width="1.2"/>
<text x="330.7" y="2493.8" font-size="17.5" fill="#000" text-anchor="middle">5</text>
<text x="219.2" y="2366.7" font-size="18.2" fill="#d428d4"><tspan font-style="italic">P</tspan> = 0.001</text>
<text transform="translate(167.5,2412.8) rotate(-90)" text-anchor="middle" font-size="21">ln (WBC/mL)</text>
<rect x="385.5" y="2337" width="127.8" height="7" fill="#f0f" stroke="#111" stroke-width="1.3"/>
<path d="M389.7,2424.7 L431.3,2410.6 L456.9,2407.9 L510,2384.3" fill="none" stroke="#bbb" stroke-width="11" stroke-linejoin="round" opacity="0.35"/><path d="M389.7,2424.7 L431.3,2410.6 L456.9,2407.9 L510,2384.3" fill="none" stroke="#666" stroke-width="7" stroke-linejoin="round" opacity="0.5"/>
<path d="M389.7,2424.7 L431.3,2410.6 L456.9,2407.9 L510,2384.3" fill="none" stroke="#15342a" stroke-width="3.2" stroke-linejoin="round" opacity="1.0"/>
<path d="M389.7,2427.4 V2422" stroke="#d428d4" stroke-width="1.5"/><circle cx="389.7" cy="2424.7" r="2.6" fill="#d428d4" stroke="#d428d4" stroke-width="1.1"/><path d="M431.3,2413.2 V2407.9" stroke="#d428d4" stroke-width="1.5"/><circle cx="431.3" cy="2410.6" r="2.6" fill="#d428d4" stroke="#d428d4" stroke-width="1.1"/><path d="M456.9,2411.9 V2403.8" stroke="#d428d4" stroke-width="1.5"/><circle cx="456.9" cy="2407.9" r="2.6" fill="#d428d4" stroke="#d428d4" stroke-width="1.1"/><path d="M510,2393.7 V2376.9" stroke="#d428d4" stroke-width="1.5"/><circle cx="510" cy="2384.3" r="2.6" fill="#d428d4" stroke="#d428d4" stroke-width="1.1"/>
<rect x="385.5" y="2347.5" width="127.8" height="124.2" fill="none" stroke="#111" stroke-width="1.3"/>
<path d="M380,2364.2 H385.5" stroke="#111" stroke-width="1.2"/>
<text x="378" y="2370.7" font-size="17.5" fill="#000" text-anchor="end">20</text>
<path d="M380,2391.1 H385.5" stroke="#111" stroke-width="1.2"/>
<text x="378" y="2397.6" font-size="17.5" fill="#000" text-anchor="end">18</text>
<path d="M380,2417.9 H385.5" stroke="#111" stroke-width="1.2"/>
<text x="378" y="2424.4" font-size="17.5" fill="#000" text-anchor="end">16</text>
<path d="M380,2444.8 H385.5" stroke="#111" stroke-width="1.2"/>
<text x="378" y="2451.3" font-size="17.5" fill="#000" text-anchor="end">14</text>
<path d="M380,2471.8 H385.5" stroke="#111" stroke-width="1.2"/>
<text x="378" y="2478.2" font-size="17.5" fill="#000" text-anchor="end">12</text>
<path d="M404.8,2471.8 V2477.2" stroke="#111" stroke-width="1.2"/>
<text x="404.8" y="2493.8" font-size="17.5" fill="#000" text-anchor="middle">1</text>
<path d="M429.8,2471.8 V2477.2" stroke="#111" stroke-width="1.2"/>
<text x="429.8" y="2493.8" font-size="17.5" fill="#000" text-anchor="middle">2</text>
<path d="M454.9,2471.8 V2477.2" stroke="#111" stroke-width="1.2"/>
<text x="454.9" y="2493.8" font-size="17.5" fill="#000" text-anchor="middle">3</text>
<path d="M479.9,2471.8 V2477.2" stroke="#111" stroke-width="1.2"/>
<text x="479.9" y="2493.8" font-size="17.5" fill="#000" text-anchor="middle">4</text>
<path d="M504.9,2471.8 V2477.2" stroke="#111" stroke-width="1.2"/>
<text x="504.9" y="2493.8" font-size="17.5" fill="#000" text-anchor="middle">5</text>
<text x="393.5" y="2366.7" font-size="18.2" fill="#d428d4">&gt;0.999</text>
<text x="452" y="2518.5" font-size="21.3" fill="#000" text-anchor="middle">Years</text>
<rect x="561.5" y="2337" width="128" height="7" fill="#f0f" stroke="#111" stroke-width="1.3"/>
<path d="M565.7,2435.4 L607.3,2412.6 L632.9,2405.8 L686,2383" fill="none" stroke="#f4a0a0" stroke-width="8" stroke-linejoin="round" opacity="0.35"/><path d="M565.7,2435.4 L607.3,2412.6 L632.9,2405.8 L686,2383" fill="none" stroke="#f7931e" stroke-width="5" stroke-linejoin="round" opacity="1.0"/>
<path d="M565.7,2438.8 V2432.1" stroke="#d428d4" stroke-width="1.5"/><circle cx="565.7" cy="2435.4" r="2.6" fill="none" stroke="#d428d4" stroke-width="1.1"/><path d="M607.3,2415.3 V2409.9" stroke="#d428d4" stroke-width="1.5"/><circle cx="607.3" cy="2412.6" r="2.6" fill="none" stroke="#d428d4" stroke-width="1.1"/><path d="M632.9,2408.5 V2403.2" stroke="#d428d4" stroke-width="1.5"/><circle cx="632.9" cy="2405.8" r="2.6" fill="none" stroke="#d428d4" stroke-width="1.1"/><path d="M686,2385 V2381" stroke="#d428d4" stroke-width="1.5"/><circle cx="686" cy="2383" r="2.6" fill="none" stroke="#d428d4" stroke-width="1.1"/>
<rect x="561.5" y="2347.5" width="128" height="124.2" fill="none" stroke="#111" stroke-width="1.3"/>
<path d="M556,2364.2 H561.5" stroke="#111" stroke-width="1.2"/>
<text x="554" y="2370.7" font-size="17.5" fill="#000" text-anchor="end">20</text>
<path d="M556,2391.1 H561.5" stroke="#111" stroke-width="1.2"/>
<text x="554" y="2397.6" font-size="17.5" fill="#000" text-anchor="end">18</text>
<path d="M556,2417.9 H561.5" stroke="#111" stroke-width="1.2"/>
<text x="554" y="2424.4" font-size="17.5" fill="#000" text-anchor="end">16</text>
<path d="M556,2444.8 H561.5" stroke="#111" stroke-width="1.2"/>
<text x="554" y="2451.3" font-size="17.5" fill="#000" text-anchor="end">14</text>
<path d="M556,2471.8 H561.5" stroke="#111" stroke-width="1.2"/>
<text x="554" y="2478.2" font-size="17.5" fill="#000" text-anchor="end">12</text>
<path d="M580.8,2471.8 V2477.2" stroke="#111" stroke-width="1.2"/>
<text x="580.8" y="2493.8" font-size="17.5" fill="#000" text-anchor="middle">1</text>
<path d="M605.8,2471.8 V2477.2" stroke="#111" stroke-width="1.2"/>
<text x="605.8" y="2493.8" font-size="17.5" fill="#000" text-anchor="middle">2</text>
<path d="M630.9,2471.8 V2477.2" stroke="#111" stroke-width="1.2"/>
<text x="630.9" y="2493.8" font-size="17.5" fill="#000" text-anchor="middle">3</text>
<path d="M655.9,2471.8 V2477.2" stroke="#111" stroke-width="1.2"/>
<text x="655.9" y="2493.8" font-size="17.5" fill="#000" text-anchor="middle">4</text>
<path d="M681,2471.8 V2477.2" stroke="#111" stroke-width="1.2"/>
<text x="681" y="2493.8" font-size="17.5" fill="#000" text-anchor="middle">5</text>
<text x="569.5" y="2366.7" font-size="18.2" fill="#d428d4">&gt;0.999</text>
<rect x="891.8" y="2335.2" width="127.5" height="7" fill="#fff" stroke="#111" stroke-width="1.3"/>
<path d="M896.6,2433 L915.2,2420.9 L930.7,2412.2 L996,2429 L1014,2410.8" fill="none" stroke="#c7a6f0" stroke-width="11" stroke-linejoin="round" opacity="0.5"/>
<path d="M896.6,2433 L915.2,2420.9 L930.7,2412.2 L996,2429 L1014,2410.8" fill="none" stroke="#5ec5f0" stroke-width="7" stroke-linejoin="round" opacity="1.0"/>
<path d="M896.6,2440.4 V2424.9" stroke="#d428d4" stroke-width="1.5"/><circle cx="896.6" cy="2433" r="2.6" fill="none" stroke="#d428d4" stroke-width="1.1"/><path d="M915.2,2427 V2414.9" stroke="#d428d4" stroke-width="1.5"/><circle cx="915.2" cy="2420.9" r="2.6" fill="none" stroke="#d428d4" stroke-width="1.1"/><path d="M930.7,2418.2 V2405.4" stroke="#d428d4" stroke-width="1.5"/><circle cx="930.7" cy="2412.2" r="2.6" fill="none" stroke="#d428d4" stroke-width="1.1"/><path d="M996,2439.1 V2417.5" stroke="#d428d4" stroke-width="1.5"/><circle cx="996" cy="2429" r="2.6" fill="none" stroke="#d428d4" stroke-width="1.1"/><path d="M1014,2416.2 V2404.8" stroke="#d428d4" stroke-width="1.5"/><circle cx="1014" cy="2410.8" r="2.6" fill="none" stroke="#d428d4" stroke-width="1.1"/>
<rect x="891.8" y="2345.8" width="127.5" height="124.2" fill="none" stroke="#111" stroke-width="1.3"/>
<path d="M886.2,2362.4 H891.8" stroke="#111" stroke-width="1.2"/>
<text x="884.2" y="2368.9" font-size="17.5" fill="#000" text-anchor="end">20</text>
<path d="M886.2,2389.3 H891.8" stroke="#111" stroke-width="1.2"/>
<text x="884.2" y="2395.8" font-size="17.5" fill="#000" text-anchor="end">18</text>
<path d="M886.2,2416.2 H891.8" stroke="#111" stroke-width="1.2"/>
<text x="884.2" y="2422.7" font-size="17.5" fill="#000" text-anchor="end">16</text>
<path d="M886.2,2443.1 H891.8" stroke="#111" stroke-width="1.2"/>
<text x="884.2" y="2449.6" font-size="17.5" fill="#000" text-anchor="end">14</text>
<path d="M886.2,2470 H891.8" stroke="#111" stroke-width="1.2"/>
<text x="884.2" y="2476.5" font-size="17.5" fill="#000" text-anchor="end">12</text>
<path d="M908,2470 V2475.5" stroke="#111" stroke-width="1.2"/>
<text x="908" y="2492" font-size="17.5" fill="#000" text-anchor="middle">4</text>
<path d="M945.9,2470 V2475.5" stroke="#111" stroke-width="1.2"/>
<text x="945.9" y="2492" font-size="17.5" fill="#000" text-anchor="middle">6</text>
<path d="M983.7,2470 V2475.5" stroke="#111" stroke-width="1.2"/>
<text x="983.7" y="2492" font-size="17.5" fill="#000" text-anchor="middle">8</text>
<text x="899.8" y="2364.9" font-size="18.2" fill="#d428d4"><tspan font-style="italic">P</tspan> &lt; 0.001</text>
<text transform="translate(850.8,2411) rotate(-90)" text-anchor="middle" font-size="21">ln (WBC/mL)</text>
<text x="955.5" y="2518.5" font-size="21.3" fill="#000" text-anchor="middle">Years</text>
<rect x="1285" y="2337" width="128.2" height="7" fill="#fff" stroke="#111" stroke-width="1.3"/>
<path d="M1373,2416.6 L1390,2400.5 L1409.2,2413.9 L1410.3,2469.1 Z" fill="#cfcfdf" opacity="0.45"/>
<path d="M1338,2399.1 L1373,2412.6 L1373,2428.7 Z" fill="#cfcfe8" opacity="0.5"/>
<path d="M1290.5,2401.8 L1301.8,2405.8 L1338,2398.4 L1373.6,2411.2 L1390,2399.1 L1410.3,2417.9" fill="none" stroke="#5ec5f0" stroke-width="8" stroke-linejoin="round" opacity="1.0"/>
<path d="M1290.5,2405.8 V2397.8" stroke="#d428d4" stroke-width="1.5"/><circle cx="1290.5" cy="2401.8" r="2.6" fill="none" stroke="#d428d4" stroke-width="1.1"/><path d="M1301.8,2409.9 V2401.8" stroke="#d428d4" stroke-width="1.5"/><circle cx="1301.8" cy="2405.8" r="2.6" fill="none" stroke="#d428d4" stroke-width="1.1"/><path d="M1338,2402.5 V2394.4" stroke="#d428d4" stroke-width="1.5"/><circle cx="1338" cy="2398.4" r="2.6" fill="none" stroke="#d428d4" stroke-width="1.1"/><path d="M1373.6,2442.2 V2400.5" stroke="#d428d4" stroke-width="1.5"/><circle cx="1373.6" cy="2409.9" r="2.6" fill="none" stroke="#d428d4" stroke-width="1.1"/><path d="M1390,2403.2 V2395.1" stroke="#d428d4" stroke-width="1.5"/><circle cx="1390" cy="2399.1" r="2.6" fill="none" stroke="#d428d4" stroke-width="1.1"/><path d="M1410.3,2442.2 V2400.5" stroke="#d428d4" stroke-width="1.5"/><circle cx="1410.3" cy="2413.9" r="2.6" fill="none" stroke="#d428d4" stroke-width="1.1"/>
<rect x="1285" y="2347.5" width="128.2" height="124.2" fill="none" stroke="#111" stroke-width="1.3"/>
<path d="M1279.5,2364.2 H1285" stroke="#111" stroke-width="1.2"/>
<text x="1277.5" y="2370.7" font-size="17.5" fill="#000" text-anchor="end">20</text>
<path d="M1279.5,2391.1 H1285" stroke="#111" stroke-width="1.2"/>
<text x="1277.5" y="2397.6" font-size="17.5" fill="#000" text-anchor="end">18</text>
<path d="M1279.5,2417.9 H1285" stroke="#111" stroke-width="1.2"/>
<text x="1277.5" y="2424.4" font-size="17.5" fill="#000" text-anchor="end">16</text>
<path d="M1279.5,2444.8 H1285" stroke="#111" stroke-width="1.2"/>
<text x="1277.5" y="2451.3" font-size="17.5" fill="#000" text-anchor="end">14</text>
<path d="M1279.5,2471.8 H1285" stroke="#111" stroke-width="1.2"/>
<text x="1277.5" y="2478.2" font-size="17.5" fill="#000" text-anchor="end">12</text>
<path d="M1288.2,2471.8 V2477.2" stroke="#111" stroke-width="1.2"/>
<text x="1288.2" y="2493.8" font-size="17.5" fill="#000" text-anchor="middle">4</text>
<path d="M1310.8,2471.8 V2477.2" stroke="#111" stroke-width="1.2"/>
<text x="1310.8" y="2493.8" font-size="17.5" fill="#000" text-anchor="middle">6</text>
<path d="M1333.5,2471.8 V2477.2" stroke="#111" stroke-width="1.2"/>
<text x="1333.5" y="2493.8" font-size="17.5" fill="#000" text-anchor="middle">8</text>
<path d="M1356,2471.8 V2477.2" stroke="#111" stroke-width="1.2"/>
<text x="1356" y="2493.8" font-size="17.5" fill="#000" text-anchor="middle">10</text>
<path d="M1378.7,2471.8 V2477.2" stroke="#111" stroke-width="1.2"/>
<text x="1378.7" y="2493.8" font-size="17.5" fill="#000" text-anchor="middle">12</text>
<path d="M1401.2,2471.8 V2477.2" stroke="#111" stroke-width="1.2"/>
<text x="1401.2" y="2493.8" font-size="17.5" fill="#000" text-anchor="middle">14</text>
<text x="1293" y="2366.7" font-size="18.2" fill="#d428d4"><tspan font-style="italic">P</tspan> &lt; 0.001</text>
<text transform="translate(1246.5,2412.8) rotate(-90)" text-anchor="middle" font-size="21">ln (WBC/mL)</text>
<rect x="1456.2" y="2337" width="127.8" height="7" fill="#f0f" stroke="#111" stroke-width="1.3"/>
<path d="M1470.8,2436.1 L1508.1,2434.8 L1543.1,2416.6 L1560.1,2432.7 L1580.4,2407.9" fill="none" stroke="#f47a7a" stroke-width="17" stroke-linejoin="round" opacity="0.35"/>
<path d="M1470.8,2436.1 L1508.1,2434.8 L1543.1,2416.6 L1560.1,2432.7 L1580.4,2407.9" fill="none" stroke="#f7931e" stroke-width="13" stroke-linejoin="round" opacity="1.0"/>
<path d="M1470.8,2450.2 V2424.7" stroke="#f0308a" stroke-width="1.5"/><circle cx="1470.8" cy="2436.1" r="2.6" fill="none" stroke="#f0308a" stroke-width="1.1"/><path d="M1508.1,2443.5 V2424.7" stroke="#f0308a" stroke-width="1.5"/><circle cx="1508.1" cy="2434.8" r="2.6" fill="none" stroke="#f0308a" stroke-width="1.1"/><path d="M1543.1,2424.7 V2408.5" stroke="#f0308a" stroke-width="1.5"/><circle cx="1543.1" cy="2416.6" r="2.6" fill="none" stroke="#f0308a" stroke-width="1.1"/><path d="M1560.1,2442.2 V2420.6" stroke="#f0308a" stroke-width="1.5"/><circle cx="1560.1" cy="2432.7" r="2.6" fill="none" stroke="#f0308a" stroke-width="1.1"/><path d="M1580.4,2413.9 V2401.8" stroke="#f0308a" stroke-width="1.5"/><circle cx="1580.4" cy="2407.9" r="2.6" fill="none" stroke="#f0308a" stroke-width="1.1"/>
<rect x="1456.2" y="2347.5" width="127.8" height="124.2" fill="none" stroke="#111" stroke-width="1.3"/>
<path d="M1450.8,2364.2 H1456.2" stroke="#111" stroke-width="1.2"/>
<text x="1448.8" y="2370.7" font-size="17.5" fill="#000" text-anchor="end">20</text>
<path d="M1450.8,2391.1 H1456.2" stroke="#111" stroke-width="1.2"/>
<text x="1448.8" y="2397.6" font-size="17.5" fill="#000" text-anchor="end">18</text>
<path d="M1450.8,2417.9 H1456.2" stroke="#111" stroke-width="1.2"/>
<text x="1448.8" y="2424.4" font-size="17.5" fill="#000" text-anchor="end">16</text>
<path d="M1450.8,2444.8 H1456.2" stroke="#111" stroke-width="1.2"/>
<text x="1448.8" y="2451.3" font-size="17.5" fill="#000" text-anchor="end">14</text>
<path d="M1450.8,2471.8 H1456.2" stroke="#111" stroke-width="1.2"/>
<text x="1448.8" y="2478.2" font-size="17.5" fill="#000" text-anchor="end">12</text>
<path d="M1459.5,2471.8 V2477.2" stroke="#111" stroke-width="1.2"/>
<text x="1459.5" y="2493.8" font-size="17.5" fill="#000" text-anchor="middle">4</text>
<path d="M1482.1,2471.8 V2477.2" stroke="#111" stroke-width="1.2"/>
<text x="1482.1" y="2493.8" font-size="17.5" fill="#000" text-anchor="middle">6</text>
<path d="M1504.7,2471.8 V2477.2" stroke="#111" stroke-width="1.2"/>
<text x="1504.7" y="2493.8" font-size="17.5" fill="#000" text-anchor="middle">8</text>
<path d="M1527.3,2471.8 V2477.2" stroke="#111" stroke-width="1.2"/>
<text x="1527.3" y="2493.8" font-size="17.5" fill="#000" text-anchor="middle">10</text>
<path d="M1549.9,2471.8 V2477.2" stroke="#111" stroke-width="1.2"/>
<text x="1549.9" y="2493.8" font-size="17.5" fill="#000" text-anchor="middle">12</text>
<path d="M1572.5,2471.8 V2477.2" stroke="#111" stroke-width="1.2"/>
<text x="1572.5" y="2493.8" font-size="17.5" fill="#000" text-anchor="middle">14</text>
<text x="1464.2" y="2366.7" font-size="18.2" fill="#d428d4">1.00</text>
<text x="1525.5" y="2518.5" font-size="21.3" fill="#000" text-anchor="middle">Years</text>
<rect x="1624.8" y="2337" width="128" height="7" fill="#fff" stroke="#111" stroke-width="1.3"/>
<path d="M1730.3,2392.4 L1750.6,2431.4 L1750.6,2465 Z" fill="#c8c8c8" opacity="0.6"/>
<path d="M1631.4,2402.5 L1641.6,2403.8 L1678.8,2409.9 L1713.3,2436.8 L1730.3,2392.4 L1750.6,2439.5" fill="none" stroke="#15342a" stroke-width="3.2" stroke-linejoin="round" opacity="1.0"/>
<path d="M1631.4,2404.5 V2400.5" stroke="#d428d4" stroke-width="1.5"/><circle cx="1631.4" cy="2402.5" r="2.6" fill="#d428d4" stroke="#d428d4" stroke-width="1.1"/><path d="M1641.6,2405.8 V2401.8" stroke="#d428d4" stroke-width="1.5"/><circle cx="1641.6" cy="2403.8" r="2.6" fill="#d428d4" stroke="#d428d4" stroke-width="1.1"/><path d="M1678.8,2413.9 V2405.8" stroke="#d428d4" stroke-width="1.5"/><circle cx="1678.8" cy="2409.9" r="2.6" fill="#d428d4" stroke="#d428d4" stroke-width="1.1"/><path d="M1713.3,2440.8 V2427.4" stroke="#d428d4" stroke-width="1.5"/><circle cx="1713.3" cy="2440.8" r="2.6" fill="#d428d4" stroke="#d428d4" stroke-width="1.1"/><path d="M1730.3,2393.7 V2391.1" stroke="#d428d4" stroke-width="1.5"/><circle cx="1730.3" cy="2392.4" r="2.6" fill="#d428d4" stroke="#d428d4" stroke-width="1.1"/><path d="M1750.6,2440.8 V2427.4" stroke="#d428d4" stroke-width="1.5"/><circle cx="1750.6" cy="2440.8" r="2.6" fill="#d428d4" stroke="#d428d4" stroke-width="1.1"/>
<rect x="1624.8" y="2347.5" width="128" height="124.2" fill="none" stroke="#111" stroke-width="1.3"/>
<path d="M1619.2,2364.2 H1624.8" stroke="#111" stroke-width="1.2"/>
<text x="1617.2" y="2370.7" font-size="17.5" fill="#000" text-anchor="end">20</text>
<path d="M1619.2,2391.1 H1624.8" stroke="#111" stroke-width="1.2"/>
<text x="1617.2" y="2397.6" font-size="17.5" fill="#000" text-anchor="end">18</text>
<path d="M1619.2,2417.9 H1624.8" stroke="#111" stroke-width="1.2"/>
<text x="1617.2" y="2424.4" font-size="17.5" fill="#000" text-anchor="end">16</text>
<path d="M1619.2,2444.8 H1624.8" stroke="#111" stroke-width="1.2"/>
<text x="1617.2" y="2451.3" font-size="17.5" fill="#000" text-anchor="end">14</text>
<path d="M1619.2,2471.8 H1624.8" stroke="#111" stroke-width="1.2"/>
<text x="1617.2" y="2478.2" font-size="17.5" fill="#000" text-anchor="end">12</text>
<path d="M1628,2471.8 V2477.2" stroke="#111" stroke-width="1.2"/>
<text x="1628" y="2493.8" font-size="17.5" fill="#000" text-anchor="middle">4</text>
<path d="M1650.6,2471.8 V2477.2" stroke="#111" stroke-width="1.2"/>
<text x="1650.6" y="2493.8" font-size="17.5" fill="#000" text-anchor="middle">6</text>
<path d="M1673.2,2471.8 V2477.2" stroke="#111" stroke-width="1.2"/>
<text x="1673.2" y="2493.8" font-size="17.5" fill="#000" text-anchor="middle">8</text>
<path d="M1695.8,2471.8 V2477.2" stroke="#111" stroke-width="1.2"/>
<text x="1695.8" y="2493.8" font-size="17.5" fill="#000" text-anchor="middle">10</text>
<path d="M1718.4,2471.8 V2477.2" stroke="#111" stroke-width="1.2"/>
<text x="1718.4" y="2493.8" font-size="17.5" fill="#000" text-anchor="middle">12</text>
<path d="M1741,2471.8 V2477.2" stroke="#111" stroke-width="1.2"/>
<text x="1741" y="2493.8" font-size="17.5" fill="#000" text-anchor="middle">14</text>
<text x="1632.8" y="2366.7" font-size="18.2" fill="#d428d4"><tspan font-style="italic">P</tspan> &lt; 0.001</text>
</svg></body></html>
